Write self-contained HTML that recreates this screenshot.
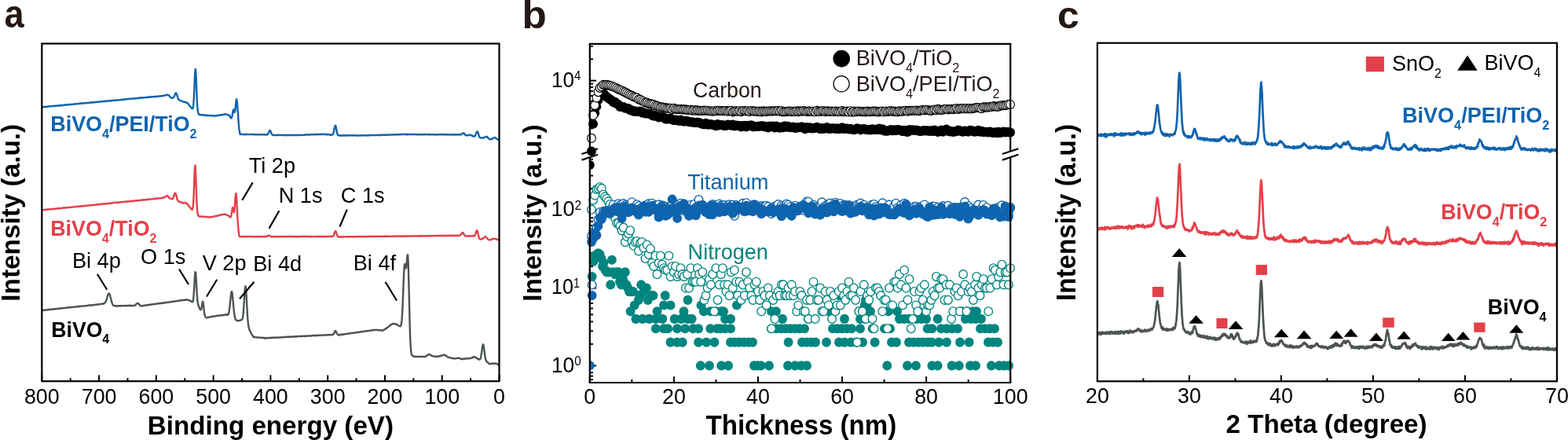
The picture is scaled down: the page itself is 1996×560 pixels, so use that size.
<!DOCTYPE html>
<html><head><meta charset="utf-8"><title>Figure</title>
<style>html,body{margin:0;padding:0;background:#fff;overflow:hidden}svg{display:block}</style>
</head><body><svg width="1996" height="560" viewBox="0 0 1996 560"><path d="M53.5 136.38L54 136.37L54.5 136.25L55 136.13L55.5 136.13L56 136.02L56.5 136.11L57 136.23L57.5 135.94L58 135.88L58.5 135.98L59 135.91L59.5 135.83L60 135.65L60.5 135.72L61 135.77L61.5 135.46L62 135.53L62.5 135.29L63 135.32L63.5 135.21L64 135.37L64.5 135.19L65 135.34L65.5 135.28L66 135.19L66.5 134.84L67 135.05L67.5 135.06L68 135.04L68.5 134.78L69 134.87L69.5 134.76L70 134.73L70.5 134.93L71 134.64L71.5 134.69L72 134.76L72.5 134.53L73 134.54L73.5 134.52L74 134.47L74.5 134.26L75 134.38L75.5 134.5L76 134.07L76.5 134.34L77 134.2L77.5 134.05L78 134.35L78.5 134.14L79 133.84L79.5 133.96L80 133.98L80.5 133.83L81 133.9L81.5 133.75L82 133.8L82.5 133.85L83 133.53L83.5 133.6L84 133.47L84.5 133.5L85 133.28L85.5 133.31L86 133.31L86.5 133.41L87 133.39L87.5 133.03L88 133.05L88.5 133.19L89 132.8L89.5 132.95L90 132.95L90.5 133.08L91 132.96L91.5 132.78L92 132.73L92.5 132.7L93 132.88L93.5 132.58L94 132.55L94.5 132.59L95 132.48L95.5 132.42L96 132.26L96.5 132.35L97 132.25L97.5 132.41L98 132.3L98.5 132.17L99 132.21L99.5 132.03L100 132.17L100.5 131.98L101 132.01L101.5 131.72L102 131.89L102.5 131.58L103 131.48L103.5 131.66L104 131.54L104.5 131.63L105 131.85L105.5 131.41L106 131.39L106.5 131.45L107 131.44L107.5 131.3L108 131.25L108.5 131.32L109 131.25L109.5 131L110 131.08L110.5 131.05L111 130.86L111.5 130.99L112 130.79L112.5 130.98L113 130.84L113.5 130.78L114 130.64L114.5 130.66L115 130.36L115.5 130.43L116 130.58L116.5 130.21L117 130.55L117.5 130.16L118 130.44L118.5 130.19L119 130.35L119.5 130.22L120 129.96L120.5 130.27L121 130.25L121.5 130.01L122 129.93L122.5 129.9L123 129.75L123.5 129.97L124 129.71L124.5 129.73L125 129.59L125.5 129.56L126 129.43L126.5 129.71L127 129.48L127.5 129.58L128 129.41L128.5 129.27L129 129.27L129.5 129.19L130 129.22L130.5 129.12L131 129.09L131.5 128.9L132 128.93L132.5 129.2L133 128.85L133.5 128.76L134 128.89L134.5 128.98L135 128.56L135.5 128.68L136 128.58L136.5 128.38L137 128.66L137.5 128.52L138 128.48L138.5 128.33L139 128.44L139.5 128.26L140 128.27L140.5 128.09L141 128.03L141.5 128.32L142 128.03L142.5 128.09L143 128L143.5 127.9L144 127.84L144.5 127.95L145 127.78L145.5 127.75L146 127.73L146.5 127.83L147 127.72L147.5 127.63L148 127.46L148.5 127.31L149 127.57L149.5 127.52L150 127.33L150.5 127.37L151 127.36L151.5 127.32L152 127.28L152.5 127.06L153 127.26L153.5 126.86L154 127.09L154.5 126.99L155 126.99L155.5 127.08L156 126.98L156.5 126.59L157 126.47L157.5 126.75L158 126.47L158.5 126.55L159 126.62L159.5 126.25L160 126.14L160.5 126.4L161 126.32L161.5 126.24L162 126.23L162.5 126.07L163 125.93L163.5 126.06L164 125.91L164.5 125.78L165 126.01L165.5 125.89L166 125.9L166.5 125.68L167 125.67L167.5 125.58L168 125.55L168.5 125.64L169 125.47L169.5 125.57L170 125.52L170.5 125.69L171 125.2L171.5 125.45L172 125.28L172.5 125.24L173 125.01L173.5 125.09L174 125.2L174.5 125.04L175 125.02L175.5 124.92L176 125.06L176.5 124.86L177 124.53L177.5 124.68L178 124.47L178.5 124.26L179 124.56L179.5 124.76L180 124.55L180.5 124.34L181 124.32L181.5 124.55L182 124.37L182.5 124.31L183 124.25L183.5 124.22L184 124.27L184.5 124.19L185 124.1L185.5 123.89L186 124.04L186.5 123.84L187 124.03L187.5 123.67L188 123.77L188.5 123.74L189 123.53L189.5 123.87L190 123.79L190.5 123.5L191 123.61L191.5 123.51L192 123.08L192.5 123.4L193 123.32L193.5 123.29L194 123.09L194.5 123.15L195 123.11L195.5 123.24L196 123.09L196.5 122.99L197 123.15L197.5 122.83L198 122.8L198.5 122.57L199 122.97L199.5 122.84L200 122.79L200.5 122.71L201 122.59L201.5 122.56L202 122.45L202.5 122.41L203 122.39L203.5 122.54L204 122.37L204.5 122.24L205 122.12L205.5 122.05L206 122.28L206.5 122.07L207 121.94L207.5 121.82L208 121.66L208.5 121.72L209 121.78L209.5 121.55L210 121.49L210.5 121.4L211 121.3L211.5 121.01L212 121.03L212.5 120.73L213 120.76L213.5 120.48L214 120.79L214.5 121.22L215 121.35L215.5 121.98L216 122.66L216.5 123.13L217 123.45L217.5 124.05L218 124.65L218.5 124.74L219 124.86L219.5 124.8L220 124.92L220.5 124.48L221 123.98L221.5 123.43L222 121.95L222.5 120.83L223 119.57L223.5 118.49L224 118.29L224.5 119L225 119.94L225.5 121.49L226 123.07L226.5 124.74L227 126.1L227.5 126.85L228 127.15L228.5 127.53L229 127.82L229.5 128.13L230 128.24L230.5 128.45L231 128.63L231.5 128.71L232 128.9L232.5 129.09L233 129.21L233.5 129.45L234 129.78L234.5 129.78L235 129.86L235.5 129.8L236 130.23L236.5 130.08L237 130.31L237.5 130.76L238 130.9L238.5 130.95L239 131.29L239.5 132.11L240 132.71L240.5 133.52L241 134.37L241.5 134.75L242 135.26L242.5 135.85L243 136.59L243.5 137.17L244 137.62L244.5 138.27L245 138.31L245.5 137.87L246 135.48L246.5 130.25L247 121.07L247.5 109.09L248 96.62L248.5 88.37L249 87.93L249.5 95.49L250 108.21L250.5 121.79L251 132.2L251.5 139.03L252 142.8L252.5 144.25L253 145.29L253.5 145.98L254 146.08L254.5 146.03L255 146.26L255.5 146.19L256 146.05L256.5 146.13L257 146.39L257.5 146.39L258 146.13L258.5 146.59L259 146.53L259.5 146.67L260 146.49L260.5 146.54L261 146.48L261.5 146.99L262 146.68L262.5 146.95L263 146.7L263.5 146.85L264 146.65L264.5 146.86L265 147.08L265.5 146.83L266 147.18L266.5 147.12L267 146.98L267.5 147.1L268 147.14L268.5 147.24L269 147.22L269.5 147.22L270 147.33L270.5 147.28L271 147.28L271.5 147.49L272 147.65L272.5 147.38L273 147.57L273.5 147.41L274 147.3L274.5 147.46L275 147.21L275.5 147.4L276 147.03L276.5 147.11L277 146.96L277.5 146.82L278 146.92L278.5 146.75L279 146.78L279.5 146.62L280 146.41L280.5 146.46L281 146.41L281.5 146.46L282 146.14L282.5 146.18L283 145.89L283.5 146.13L284 145.83L284.5 145.66L285 145.81L285.5 145.89L286 145.48L286.5 145.46L287 145.43L287.5 145.31L288 145.49L288.5 145.53L289 145.74L289.5 146.1L290 146.12L290.5 146.47L291 146.48L291.5 146.65L292 146.76L292.5 148.07L293 148.61L293.5 149.5L294 150.26L294.5 150.41L295 149.36L295.5 147.89L296 144.84L296.5 141.8L297 139.89L297.5 139.61L298 141.33L298.5 142.93L299 142.5L299.5 139.44L300 134.39L300.5 129.35L301 126.1L301.5 127.93L302 132.6L302.5 139.01L303 145.71L303.5 153.56L304 159.51L304.5 164.69L305 168.11L305.5 170.59L306 170.95L306.5 170.9L307 170.77L307.5 170.97L308 171.02L308.5 171.02L309 171.03L309.5 170.9L310 171.04L310.5 171.05L311 171.23L311.5 171.31L312 171.06L312.5 170.98L313 171.08L313.5 171.02L314 171L314.5 171.1L315 170.98L315.5 171.2L316 171.11L316.5 171.16L317 171.11L317.5 171.05L318 171.03L318.5 171.12L319 171.09L319.5 171.2L320 171.17L320.5 171L321 171.19L321.5 171.02L322 171.12L322.5 171.16L323 170.94L323.5 171.23L324 171.24L324.5 171.21L325 171.18L325.5 171.19L326 171.12L326.5 171.22L327 171.18L327.5 171.27L328 171.11L328.5 171.3L329 171.3L329.5 171.27L330 171.24L330.5 171.37L331 171.09L331.5 171.37L332 171.35L332.5 171.36L333 171.38L333.5 171.25L334 171.31L334.5 171.43L335 171.41L335.5 171.38L336 171.17L336.5 171.44L337 171.53L337.5 171.51L338 171.42L338.5 171.19L339 171.51L339.5 171.37L340 171.01L340.5 171.21L341 170.55L341.5 169.82L342 168.8L342.5 167.74L343 166.4L343.5 165.95L344 166.43L344.5 167.41L345 168.54L345.5 169.81L346 170.65L346.5 171.33L347 171.8L347.5 171.95L348 172L348.5 172.12L349 171.9L349.5 171.99L350 172.1L350.5 172.08L351 172.14L351.5 172.05L352 171.96L352.5 172.05L353 171.87L353.5 171.79L354 172.08L354.5 171.99L355 172.04L355.5 171.78L356 171.95L356.5 171.92L357 171.89L357.5 171.71L358 171.96L358.5 172.12L359 172.05L359.5 171.92L360 172L360.5 172.1L361 171.64L361.5 171.98L362 172.07L362.5 172.09L363 172.22L363.5 172.15L364 172.04L364.5 172.04L365 172.1L365.5 171.93L366 171.99L366.5 172.12L367 172.25L367.5 171.98L368 171.99L368.5 172.03L369 172.17L369.5 172L370 172.19L370.5 171.87L371 171.98L371.5 171.97L372 172.1L372.5 172.14L373 171.8L373.5 171.88L374 172.04L374.5 171.91L375 171.8L375.5 172.14L376 172.06L376.5 172.06L377 171.94L377.5 172.13L378 171.97L378.5 172.14L379 171.88L379.5 171.89L380 172.03L380.5 171.89L381 172.04L381.5 171.97L382 171.79L382.5 171.9L383 171.82L383.5 171.97L384 171.74L384.5 171.74L385 171.94L385.5 172.05L386 172L386.5 171.72L387 171.72L387.5 171.87L388 171.63L388.5 171.5L389 171.62L389.5 171.64L390 171.45L390.5 171.32L391 171.33L391.5 171.58L392 171.37L392.5 171.43L393 171.46L393.5 171.49L394 171.34L394.5 171.43L395 171.22L395.5 171.27L396 171.16L396.5 171.42L397 171.25L397.5 171.13L398 171.16L398.5 171.16L399 171.26L399.5 170.93L400 170.99L400.5 171.05L401 171.41L401.5 171.18L402 171.02L402.5 171.1L403 171.26L403.5 170.94L404 170.9L404.5 171.08L405 170.96L405.5 170.99L406 170.84L406.5 171.17L407 171.14L407.5 171L408 171.02L408.5 170.67L409 171.02L409.5 170.92L410 171.01L410.5 171.04L411 170.92L411.5 170.75L412 171.02L412.5 170.88L413 170.94L413.5 170.91L414 170.95L414.5 170.69L415 171.16L415.5 171.09L416 171.26L416.5 171.43L417 171.23L417.5 171.05L418 171.23L418.5 171.24L419 171.39L419.5 171.52L420 171.31L420.5 171.67L421 171.49L421.5 171.78L422 171.76L422.5 171.71L423 171.62L423.5 171.19L424 170.39L424.5 168.8L425 166.82L425.5 164.35L426 161.75L426.5 159.98L427 159.76L427.5 161.06L428 163.9L428.5 166.52L429 168.92L429.5 170.56L430 171.59L430.5 172.02L431 172.29L431.5 172.23L432 172.34L432.5 172.69L433 172.39L433.5 172.37L434 172.47L434.5 172.49L435 172.26L435.5 172.37L436 172.52L436.5 172.44L437 172.42L437.5 172.6L438 172.31L438.5 172.41L439 172.33L439.5 172.59L440 172.15L440.5 172.31L441 172.33L441.5 172.49L442 172.48L442.5 172.58L443 172.2L443.5 172.5L444 172.36L444.5 172.31L445 172.47L445.5 172.28L446 172.13L446.5 172.35L447 172.21L447.5 172.32L448 172.45L448.5 172.44L449 172.61L449.5 172.37L450 172.2L450.5 172.3L451 172.28L451.5 172.24L452 172.46L452.5 172.32L453 172.14L453.5 172.49L454 172.39L454.5 172.45L455 172.41L455.5 172.48L456 172.4L456.5 172.56L457 172.46L457.5 172.45L458 172.45L458.5 172.21L459 172.38L459.5 172.37L460 172.43L460.5 172.22L461 172.61L461.5 172.41L462 172.24L462.5 172.18L463 172.36L463.5 172.39L464 172.31L464.5 172.41L465 172.32L465.5 172.47L466 172.29L466.5 172.36L467 172.48L467.5 172.67L468 172.19L468.5 172.25L469 172.19L469.5 172.38L470 172.12L470.5 172.19L471 172.23L471.5 172.1L472 172.08L472.5 172.13L473 171.91L473.5 171.98L474 172.1L474.5 172.16L475 172.1L475.5 171.88L476 172.03L476.5 172.18L477 172.14L477.5 172.04L478 171.92L478.5 172.11L479 171.93L479.5 171.84L480 171.88L480.5 172.15L481 171.98L481.5 172.09L482 171.86L482.5 172.03L483 171.82L483.5 171.86L484 172.19L484.5 171.95L485 171.77L485.5 171.81L486 171.85L486.5 171.95L487 171.72L487.5 171.54L488 171.72L488.5 171.74L489 171.74L489.5 171.88L490 171.74L490.5 171.79L491 171.52L491.5 171.77L492 171.91L492.5 171.72L493 171.64L493.5 171.62L494 171.81L494.5 171.45L495 171.54L495.5 171.6L496 171.62L496.5 171.45L497 171.54L497.5 171.45L498 171.48L498.5 171.44L499 171.29L499.5 171.42L500 171.52L500.5 171.27L501 171.35L501.5 171.45L502 171.21L502.5 171.36L503 171.19L503.5 171.46L504 171.6L504.5 171.55L505 171.24L505.5 171.35L506 171.26L506.5 171.24L507 171.41L507.5 171.03L508 171.32L508.5 171.16L509 171.34L509.5 171.16L510 171.04L510.5 171.15L511 171.19L511.5 171.09L512 171.13L512.5 170.99L513 170.76L513.5 171.14L514 171.1L514.5 171.02L515 171.01L515.5 171.14L516 170.95L516.5 170.92L517 170.99L517.5 171.17L518 170.84L518.5 171.18L519 170.94L519.5 170.89L520 171.2L520.5 171.02L521 170.87L521.5 170.99L522 171.16L522.5 171.2L523 170.99L523.5 171.1L524 171.15L524.5 170.97L525 171.11L525.5 171.06L526 171L526.5 171L527 171.08L527.5 171.08L528 171L528.5 171.02L529 171.23L529.5 171.11L530 171.2L530.5 171.25L531 171.17L531.5 171.39L532 170.99L532.5 171.21L533 171.06L533.5 171.35L534 171.33L534.5 170.86L535 170.99L535.5 171.21L536 171.23L536.5 171.22L537 171.12L537.5 171.19L538 171.22L538.5 171.13L539 171.27L539.5 170.85L540 171.23L540.5 171.01L541 171.28L541.5 171.12L542 171.04L542.5 171.21L543 171.04L543.5 171.05L544 170.96L544.5 171.17L545 171.24L545.5 171.31L546 171.16L546.5 171.32L547 171.19L547.5 171.18L548 171.27L548.5 171.33L549 171.15L549.5 171.17L550 171.18L550.5 171.22L551 171.09L551.5 171.35L552 171.16L552.5 171.28L553 171.11L553.5 171.27L554 171.28L554.5 171.17L555 171.49L555.5 171.28L556 171.47L556.5 171.36L557 171.16L557.5 171.2L558 171.31L558.5 171.26L559 171.26L559.5 171.22L560 171.02L560.5 171.23L561 170.98L561.5 171.32L562 171.18L562.5 171.18L563 171.25L563.5 171.32L564 171.1L564.5 171.06L565 171.15L565.5 171.03L566 171.17L566.5 171.5L567 171.16L567.5 171.39L568 171.13L568.5 171.35L569 171.27L569.5 171.31L570 171.39L570.5 171.55L571 171.35L571.5 171.34L572 171.2L572.5 171.41L573 171.3L573.5 171.44L574 171.33L574.5 171.57L575 171.09L575.5 171.31L576 171.47L576.5 171.31L577 171.25L577.5 171.32L578 171.18L578.5 171.38L579 171.69L579.5 171.52L580 171.23L580.5 171.26L581 171.33L581.5 171.51L582 171.28L582.5 171.3L583 171.51L583.5 171.51L584 171.35L584.5 171.25L585 171.24L585.5 171.39L586 171.19L586.5 171.51L587 171.15L587.5 170.98L588 170.72L588.5 170.12L589 169.36L589.5 169.37L590 169.45L590.5 169.55L591 170.08L591.5 170.85L592 171.26L592.5 172.15L593 171.99L593.5 172.24L594 172.35L594.5 172.31L595 172.29L595.5 172.23L596 172.09L596.5 172.19L597 171.68L597.5 171.88L598 171.7L598.5 171.73L599 171.89L599.5 171.95L600 172.19L600.5 172.58L601 172.73L601.5 172.8L602 173.35L602.5 173.59L603 173.28L603.5 173.46L604 173.61L604.5 173.09L605 172.44L605.5 171.44L606 170.08L606.5 168.89L607 167.78L607.5 167.46L608 167.66L608.5 168.81L609 170.37L609.5 172.27L610 173.67L610.5 174.61L611 175.27L611.5 175.42L612 175.54L612.5 175.54L613 175.5L613.5 175.47L614 175.43L614.5 175.54L615 175.27L615.5 175.54L616 175.26L616.5 175.08L617 174.94L617.5 174.62L618 174.35L618.5 173.89L619 173.95L619.5 173.79L620 173.95L620.5 174.7L621 175.14L621.5 175.94L622 176.51L622.5 176.77L623 176.72L623.5 176.96L624 177.42L624.5 177.11L625 176.95L625.5 176.95L626 177L626.5 176.68L627 176.33L627.5 176.09L628 175.76L628.5 175.41L629 175.13L629.5 175.11L630 174.96L630.5 175.26L631 175.63L631.5 176.37L632 176.41L632.5 176.9L633 177.19L633.5 177.49L634 177.74L634.5 177.68L635 177.77" fill="none" stroke="#0f64ae" stroke-width="2.4" stroke-linejoin="round"/><path d="M53.5 267.17L54 267.21L54.5 267.35L55 267.24L55.5 267.05L56 267.08L56.5 267.08L57 267.09L57.5 266.9L58 266.9L58.5 266.64L59 266.68L59.5 266.99L60 266.44L60.5 266.63L61 266.66L61.5 266.53L62 266.42L62.5 266.47L63 266.43L63.5 266.37L64 266.08L64.5 266.26L65 266.12L65.5 266.11L66 266.16L66.5 266.16L67 266.14L67.5 265.91L68 266.05L68.5 266.03L69 265.97L69.5 265.96L70 265.71L70.5 265.65L71 265.73L71.5 265.4L72 265.55L72.5 265.41L73 265.38L73.5 265.15L74 265.21L74.5 265.27L75 265.34L75.5 265.3L76 265.12L76.5 265.05L77 264.92L77.5 265.03L78 264.89L78.5 264.95L79 265.05L79.5 264.77L80 264.53L80.5 264.56L81 264.43L81.5 264.42L82 264.69L82.5 264.5L83 264.23L83.5 264.46L84 264.49L84.5 264.23L85 264.14L85.5 264.13L86 264.16L86.5 264.16L87 264.18L87.5 264.13L88 264.08L88.5 264.05L89 263.91L89.5 263.57L90 263.71L90.5 263.71L91 263.57L91.5 263.69L92 263.48L92.5 263.35L93 263.61L93.5 263.46L94 263.35L94.5 263.39L95 263.36L95.5 263.22L96 262.8L96.5 262.98L97 262.96L97.5 262.84L98 262.95L98.5 263.03L99 262.76L99.5 262.62L100 262.98L100.5 262.61L101 262.46L101.5 262.6L102 262.58L102.5 262.38L103 262.52L103.5 262.31L104 262.2L104.5 262.29L105 262.32L105.5 262.09L106 262.16L106.5 262.06L107 262.39L107.5 261.88L108 262.1L108.5 261.86L109 261.8L109.5 261.86L110 261.84L110.5 261.83L111 261.66L111.5 261.49L112 261.45L112.5 261.53L113 261.49L113.5 261.55L114 261.37L114.5 261.41L115 261.41L115.5 261.19L116 260.92L116.5 260.91L117 260.83L117.5 261.17L118 260.81L118.5 261.03L119 260.89L119.5 260.99L120 260.85L120.5 260.65L121 260.59L121.5 260.58L122 260.54L122.5 260.4L123 260.41L123.5 260.58L124 260.09L124.5 260.3L125 260.1L125.5 260.19L126 260.22L126.5 260.06L127 260.12L127.5 259.76L128 260.06L128.5 259.79L129 259.9L129.5 259.79L130 259.38L130.5 259.57L131 259.64L131.5 259.77L132 259.55L132.5 259.5L133 259.23L133.5 259.55L134 259.55L134.5 259.27L135 259.19L135.5 258.95L136 259.23L136.5 259.41L137 259.11L137.5 259.13L138 258.98L138.5 258.74L139 258.99L139.5 258.6L140 258.69L140.5 258.7L141 258.73L141.5 258.62L142 258.56L142.5 258.36L143 258.24L143.5 258.37L144 258.22L144.5 258.09L145 258.05L145.5 258.1L146 257.87L146.5 257.89L147 257.8L147.5 257.99L148 257.96L148.5 258.12L149 257.62L149.5 257.67L150 257.83L150.5 257.63L151 257.57L151.5 257.78L152 257.47L152.5 257.31L153 257.24L153.5 257.4L154 257.35L154.5 257.08L155 257.08L155.5 257.23L156 257.18L156.5 256.98L157 257.09L157.5 257.03L158 256.68L158.5 256.82L159 256.86L159.5 256.68L160 256.43L160.5 256.62L161 256.71L161.5 256.76L162 256.22L162.5 256.8L163 256.26L163.5 256.48L164 256.47L164.5 256.39L165 256.23L165.5 256.01L166 256.19L166.5 255.96L167 255.68L167.5 256.33L168 256L168.5 256.09L169 255.69L169.5 255.95L170 255.91L170.5 255.86L171 255.6L171.5 255.4L172 255.48L172.5 255.17L173 255.19L173.5 255.37L174 255.18L174.5 255.23L175 255.19L175.5 255.41L176 255.27L176.5 255.05L177 255.16L177.5 254.85L178 254.86L178.5 254.97L179 254.64L179.5 254.72L180 254.53L180.5 254.67L181 254.82L181.5 254.46L182 254.53L182.5 254.34L183 254.25L183.5 254.19L184 254.49L184.5 254.56L185 254.27L185.5 254.06L186 254.2L186.5 254.01L187 254.11L187.5 253.99L188 253.94L188.5 253.93L189 253.73L189.5 253.7L190 253.48L190.5 253.6L191 253.42L191.5 253.53L192 253.38L192.5 253.47L193 253.46L193.5 253.17L194 253.2L194.5 253.13L195 253.3L195.5 253.37L196 253.21L196.5 253.01L197 253.19L197.5 252.75L198 253.1L198.5 252.77L199 252.44L199.5 253.1L200 252.91L200.5 252.52L201 252.62L201.5 252.52L202 252.51L202.5 252.26L203 252.31L203.5 252.41L204 252.33L204.5 252.41L205 252.21L205.5 252.4L206 251.89L206.5 251.91L207 251.52L207.5 251.5L208 251.72L208.5 251.32L209 251.39L209.5 251.18L210 250.86L210.5 250.67L211 250.21L211.5 249.8L212 249.49L212.5 249.13L213 248.93L213.5 249.22L214 249.94L214.5 250.51L215 251.16L215.5 251.92L216 252.09L216.5 252.31L217 252.59L217.5 252.78L218 253.04L218.5 253.18L219 253.28L219.5 253.13L220 252.86L220.5 251.88L221 250.62L221.5 248.84L222 247.49L222.5 246L223 245.62L223.5 245.96L224 247.45L224.5 249.17L225 251.35L225.5 253.39L226 254.21L226.5 255.43L227 256.07L227.5 256.3L228 256.62L228.5 256.91L229 256.86L229.5 257.2L230 257.22L230.5 257.44L231 257.64L231.5 257.9L232 258.13L232.5 258.37L233 258.31L233.5 258.69L234 258.51L234.5 258.38L235 258.16L235.5 258.12L236 258.13L236.5 258.13L237 258.24L237.5 258.94L238 259.62L238.5 259.37L239 260.13L239.5 260.8L240 261.49L240.5 262.43L241 262.84L241.5 263.59L242 264.34L242.5 264.69L243 265.23L243.5 265.86L244 266.3L244.5 266.9L245 266.21L245.5 264.71L246 259.96L246.5 251.63L247 238.69L247.5 223.86L248 213.16L248.5 210.4L249 217.74L249.5 231.95L250 246.77L250.5 258.88L251 267.13L251.5 271.24L252 273.58L252.5 274.59L253 275.24L253.5 275.42L254 275.63L254.5 275.62L255 275.53L255.5 275.57L256 275.58L256.5 275.55L257 275.91L257.5 275.69L258 275.57L258.5 275.69L259 275.88L259.5 275.9L260 275.83L260.5 275.79L261 275.92L261.5 275.72L262 275.8L262.5 276.12L263 275.98L263.5 276.12L264 276.27L264.5 276.22L265 276.17L265.5 276.49L266 276.32L266.5 276.22L267 276.4L267.5 276.38L268 276.25L268.5 276.4L269 276.29L269.5 275.94L270 276.07L270.5 275.94L271 275.81L271.5 275.54L272 275.6L272.5 275.53L273 275.44L273.5 275.16L274 275.28L274.5 274.93L275 274.95L275.5 275.04L276 274.66L276.5 274.58L277 274.68L277.5 274.37L278 274.27L278.5 274.23L279 274.23L279.5 273.68L280 273.76L280.5 273.62L281 273.5L281.5 273.42L282 273.31L282.5 273.35L283 273.08L283.5 273.11L284 273.03L284.5 272.77L285 272.77L285.5 272.86L286 272.74L286.5 272.78L287 273.01L287.5 273.06L288 273.38L288.5 273.63L289 273.57L289.5 273.81L290 274.15L290.5 274.33L291 274.81L291.5 275.05L292 275.47L292.5 275.89L293 276.59L293.5 276.42L294 275.77L294.5 273.7L295 270.53L295.5 266.93L296 264.23L296.5 264.76L297 266.88L297.5 269.55L298 269.83L298.5 266.86L299 260.19L299.5 252.51L300 246.77L300.5 246.24L301 251.08L301.5 259.52L302 268.86L302.5 278.88L303 286.49L303.5 292.3L304 296.55L304.5 300.25L305 301.08L305.5 301.24L306 301.22L306.5 301.15L307 301.13L307.5 301.09L308 301.19L308.5 301.35L309 301.06L309.5 301.4L310 301.31L310.5 301.14L311 301.3L311.5 301.01L312 300.97L312.5 301.03L313 301.15L313.5 301.16L314 301.13L314.5 301.21L315 300.92L315.5 301.26L316 301.02L316.5 301.11L317 301.15L317.5 301.05L318 301.02L318.5 301.07L319 301.2L319.5 301.28L320 301.27L320.5 301.07L321 301.1L321.5 301.08L322 301.26L322.5 300.94L323 301.36L323.5 301.14L324 301.1L324.5 301.24L325 301.33L325.5 301.24L326 301.34L326.5 301.22L327 301.36L327.5 301.36L328 301.19L328.5 301.39L329 301.22L329.5 301.21L330 301.08L330.5 301.16L331 301.3L331.5 301.03L332 301.28L332.5 301.25L333 301.24L333.5 300.91L334 301.19L334.5 301.28L335 301.1L335.5 301.21L336 300.89L336.5 301.29L337 301.11L337.5 301.31L338 300.95L338.5 301.25L339 301.06L339.5 301.05L340 300.59L340.5 300.3L341 300.3L341.5 299.61L342 299.51L342.5 299.68L343 299.87L343.5 300.53L344 300.93L344.5 300.85L345 300.86L345.5 301.3L346 301.32L346.5 301.29L347 301.34L347.5 301.07L348 301.16L348.5 301L349 301L349.5 301.31L350 301.09L350.5 301.47L351 301.19L351.5 301.09L352 301.28L352.5 301.41L353 301.23L353.5 301.01L354 301.22L354.5 301.35L355 301.1L355.5 301.06L356 301.3L356.5 301.18L357 301.02L357.5 301.11L358 301.06L358.5 301.2L359 301.17L359.5 301.31L360 301.25L360.5 300.95L361 301.2L361.5 301.27L362 301.21L362.5 301.28L363 301.08L363.5 301.02L364 301.27L364.5 301L365 300.86L365.5 301.27L366 301.05L366.5 301.1L367 300.96L367.5 300.96L368 300.98L368.5 301.09L369 301.18L369.5 300.83L370 301.23L370.5 300.97L371 300.99L371.5 301.21L372 301.12L372.5 300.92L373 301.36L373.5 301.01L374 301.15L374.5 301.14L375 301.3L375.5 301.06L376 301.25L376.5 301.02L377 301.26L377.5 301.01L378 301.06L378.5 301.36L379 301.15L379.5 301.12L380 301.4L380.5 301.15L381 301L381.5 301.2L382 300.95L382.5 301.25L383 301.25L383.5 301.02L384 301.01L384.5 301.12L385 301.09L385.5 300.96L386 301.16L386.5 300.82L387 301.03L387.5 301.03L388 301.05L388.5 301.12L389 300.92L389.5 301.16L390 301.06L390.5 300.99L391 300.9L391.5 300.92L392 301.12L392.5 300.95L393 301.08L393.5 301.21L394 301.21L394.5 301.27L395 301.03L395.5 300.93L396 301.2L396.5 301.11L397 301.21L397.5 301.06L398 301.22L398.5 301.17L399 301.15L399.5 301.12L400 301.11L400.5 301.09L401 301.08L401.5 301.18L402 300.98L402.5 301.28L403 301.04L403.5 301.18L404 301.03L404.5 301.01L405 301.31L405.5 301L406 300.88L406.5 300.95L407 301L407.5 301.32L408 301.06L408.5 301.16L409 300.9L409.5 301.08L410 301.12L410.5 301.26L411 300.94L411.5 301.11L412 301.07L412.5 300.89L413 301.02L413.5 300.99L414 300.72L414.5 301.1L415 301.09L415.5 300.96L416 300.84L416.5 301.21L417 301.05L417.5 301.15L418 301.2L418.5 300.94L419 301.12L419.5 300.98L420 301L420.5 300.99L421 301L421.5 301.15L422 301.02L422.5 300.97L423 300.92L423.5 300.92L424 300.53L424.5 300.05L425 299.16L425.5 297.7L426 296.13L426.5 294.66L427 294.32L427.5 294.58L428 295.69L428.5 297.29L429 299.17L429.5 300.12L430 300.81L430.5 301.25L431 301.44L431.5 301.66L432 301.49L432.5 301.76L433 301.37L433.5 301.57L434 301.34L434.5 301.7L435 301.42L435.5 301.45L436 301.57L436.5 301.61L437 301.29L437.5 301.39L438 301.25L438.5 301.44L439 301.4L439.5 301.37L440 301.32L440.5 301.35L441 301.3L441.5 301.46L442 301.58L442.5 301.13L443 301.36L443.5 301.31L444 301.43L444.5 301.23L445 301.33L445.5 301.21L446 301.43L446.5 301.35L447 301.31L447.5 301.37L448 301.29L448.5 301.11L449 301.38L449.5 301.34L450 301.28L450.5 301.42L451 301.44L451.5 301.14L452 301.17L452.5 301.47L453 301.45L453.5 301.16L454 301.1L454.5 301.16L455 301.18L455.5 301.03L456 301.23L456.5 301.06L457 301.06L457.5 301.33L458 301.12L458.5 301.19L459 301.28L459.5 301.3L460 301.14L460.5 301.19L461 301.07L461.5 301.4L462 301.25L462.5 301.01L463 301.15L463.5 301.24L464 301.2L464.5 301.37L465 301.31L465.5 301.05L466 301.11L466.5 300.95L467 301.14L467.5 301.12L468 301.45L468.5 301.1L469 300.81L469.5 300.99L470 301.09L470.5 300.91L471 300.95L471.5 301.01L472 301.1L472.5 301.03L473 300.93L473.5 301.14L474 300.96L474.5 300.96L475 300.84L475.5 300.91L476 301.09L476.5 300.79L477 300.99L477.5 301.09L478 300.94L478.5 301.01L479 300.83L479.5 301.14L480 301.11L480.5 300.99L481 300.73L481.5 300.81L482 301.07L482.5 301.16L483 300.97L483.5 301.09L484 300.84L484.5 300.89L485 300.91L485.5 300.96L486 300.7L486.5 301.02L487 301.06L487.5 300.73L488 300.7L488.5 300.92L489 300.78L489.5 300.55L490 300.96L490.5 300.87L491 300.78L491.5 301.11L492 300.85L492.5 300.73L493 300.83L493.5 300.68L494 300.71L494.5 300.86L495 300.73L495.5 300.74L496 301.01L496.5 300.89L497 300.88L497.5 300.84L498 300.83L498.5 300.95L499 300.75L499.5 300.99L500 300.62L500.5 300.71L501 300.55L501.5 300.68L502 300.79L502.5 300.91L503 300.62L503.5 300.71L504 300.65L504.5 300.6L505 300.53L505.5 300.69L506 300.45L506.5 300.69L507 300.67L507.5 300.58L508 300.52L508.5 300.47L509 300.89L509.5 300.47L510 300.84L510.5 300.71L511 300.58L511.5 300.47L512 300.75L512.5 300.83L513 300.48L513.5 300.56L514 300.73L514.5 300.63L515 300.84L515.5 300.5L516 300.64L516.5 300.4L517 300.83L517.5 300.46L518 300.26L518.5 300.52L519 300.52L519.5 300.78L520 300.48L520.5 300.52L521 300.59L521.5 300.71L522 300.49L522.5 300.63L523 300.56L523.5 300.45L524 300.49L524.5 300.48L525 300.35L525.5 300.62L526 300.28L526.5 300.6L527 300.57L527.5 300.43L528 300.34L528.5 300.4L529 300.49L529.5 300.52L530 300.45L530.5 300.54L531 300.33L531.5 300.43L532 300.19L532.5 300.49L533 300.4L533.5 300.32L534 300.52L534.5 300.45L535 299.99L535.5 300.36L536 300.16L536.5 300.48L537 300.66L537.5 300.26L538 300.34L538.5 300.29L539 300.36L539.5 300.39L540 300.47L540.5 300.17L541 300.5L541.5 300.17L542 300.32L542.5 300.43L543 300.36L543.5 300.14L544 300.17L544.5 300.19L545 300.24L545.5 300.39L546 300.07L546.5 300.29L547 300.31L547.5 300.29L548 300.28L548.5 300.41L549 300.27L549.5 300.31L550 300.27L550.5 300.42L551 299.94L551.5 300.34L552 300.14L552.5 300.13L553 300.03L553.5 299.91L554 300.1L554.5 300.05L555 300.2L555.5 299.94L556 300.31L556.5 300.16L557 300.08L557.5 300.02L558 300L558.5 299.95L559 300.02L559.5 300.09L560 300.06L560.5 299.89L561 300.04L561.5 299.95L562 300.08L562.5 300.3L563 300.13L563.5 300L564 299.83L564.5 299.85L565 299.81L565.5 300.12L566 299.92L566.5 300.02L567 299.93L567.5 300.01L568 300.18L568.5 299.9L569 299.94L569.5 299.87L570 300.09L570.5 299.83L571 299.81L571.5 299.78L572 299.77L572.5 300.01L573 300.27L573.5 299.81L574 300.05L574.5 299.96L575 299.77L575.5 299.88L576 299.88L576.5 299.81L577 300.15L577.5 299.64L578 299.93L578.5 299.92L579 299.8L579.5 299.89L580 299.98L580.5 299.88L581 299.91L581.5 299.94L582 299.58L582.5 300.03L583 300.13L583.5 299.95L584 299.94L584.5 299.6L585 299.71L585.5 299.48L586 299.26L586.5 299.03L587 298.15L587.5 297.4L588 296.35L588.5 296.01L589 295.93L589.5 296.23L590 297.02L590.5 298.31L591 298.78L591.5 299.46L592 299.92L592.5 300.4L593 300.62L593.5 300.42L594 300.3L594.5 300.34L595 300.54L595.5 300.28L596 300.59L596.5 300.58L597 300.41L597.5 300.48L598 300.5L598.5 300.6L599 300.26L599.5 300.55L600 300.35L600.5 300.3L601 300.41L601.5 300.37L602 300.27L602.5 300.18L603 300.22L603.5 300.41L604 300.2L604.5 299.57L605 298.68L605.5 296.97L606 295.27L606.5 293.81L607 292.99L607.5 293.57L608 295.32L608.5 297.58L609 299.71L609.5 301.65L610 302.79L610.5 303.77L611 304.2L611.5 304.51L612 304.48L612.5 304.34L613 304.16L613.5 304.08L614 304.1L614.5 303.91L615 303.73L615.5 302.95L616 302.55L616.5 301.99L617 301.52L617.5 301.08L618 301.06L618.5 301.58L619 302.08L619.5 302.52L620 303.35L620.5 303.93L621 304.19L621.5 304.75L622 304.88L622.5 305.43L623 305.55L623.5 305.48L624 305.34L624.5 305.09L625 305.02L625.5 304.83L626 304.62L626.5 304.34L627 303.75L627.5 304.04L628 303.59L628.5 303.67L629 303.85L629.5 303.87L630 303.92L630.5 304.08L631 304.22L631.5 304.3L632 304.42L632.5 304.55L633 305L633.5 305.01L634 305.31L634.5 305.32L635 305.54" fill="none" stroke="#e3404a" stroke-width="2.4" stroke-linejoin="round"/><path d="M53.5 394.96L54 394.99L54.5 394.98L55 394.85L55.5 394.68L56 394.62L56.5 394.88L57 394.58L57.5 394.52L58 394.7L58.5 394.6L59 394.47L59.5 394.3L60 394.61L60.5 394.3L61 394.27L61.5 394.12L62 393.91L62.5 393.86L63 394.04L63.5 393.98L64 393.85L64.5 393.68L65 393.59L65.5 393.68L66 393.48L66.5 393.74L67 393.72L67.5 393.88L68 393.58L68.5 393.33L69 393.24L69.5 392.86L70 393.18L70.5 393.18L71 393.27L71.5 393.18L72 393.12L72.5 393.02L73 393.03L73.5 393.08L74 392.7L74.5 392.72L75 392.55L75.5 392.89L76 392.79L76.5 392.67L77 392.37L77.5 392.49L78 392.39L78.5 392.37L79 392.29L79.5 392.33L80 392.16L80.5 392.27L81 392.13L81.5 392.01L82 391.98L82.5 391.89L83 392L83.5 391.81L84 391.83L84.5 391.69L85 391.49L85.5 391.75L86 391.44L86.5 391.62L87 391.53L87.5 391.21L88 391.25L88.5 391.25L89 391.16L89.5 391.06L90 391.26L90.5 391.08L91 391.11L91.5 390.95L92 390.99L92.5 390.8L93 390.84L93.5 390.87L94 390.75L94.5 390.63L95 390.5L95.5 390.61L96 390.58L96.5 390.45L97 390.33L97.5 390.45L98 390.65L98.5 390.23L99 390.26L99.5 390.22L100 389.78L100.5 390.08L101 389.92L101.5 390.14L102 389.87L102.5 389.75L103 389.77L103.5 389.77L104 389.62L104.5 389.64L105 389.42L105.5 389.51L106 389.59L106.5 389.69L107 389.47L107.5 389.37L108 389.43L108.5 389.36L109 389.39L109.5 389.26L110 389.05L110.5 389.05L111 388.99L111.5 388.95L112 388.89L112.5 388.71L113 388.48L113.5 388.62L114 388.39L114.5 388.61L115 388.55L115.5 388.28L116 388.53L116.5 388.5L117 388.35L117.5 388.5L118 388.48L118.5 388.02L119 388.26L119.5 388.13L120 388.08L120.5 388.09L121 387.82L121.5 387.79L122 387.71L122.5 387.66L123 387.7L123.5 387.47L124 387.47L124.5 387.63L125 387.49L125.5 387.48L126 387.11L126.5 387.18L127 387.13L127.5 387.13L128 386.98L128.5 387.1L129 386.9L129.5 386.83L130 386.75L130.5 386.75L131 386.5L131.5 386.59L132 386.34L132.5 386.07L133 385.71L133.5 385.29L134 384.78L134.5 384.06L135 382.99L135.5 381.76L136 380.11L136.5 378.55L137 376.68L137.5 374.91L138 374.24L138.5 373.53L139 373.48L139.5 374.38L140 375.66L140.5 377.85L141 379.67L141.5 381.48L142 383.71L142.5 385.29L143 387.01L143.5 387.56L144 388.06L144.5 388.81L145 389.03L145.5 389.19L146 389.05L146.5 389.43L147 389.61L147.5 389.15L148 389.55L148.5 389.31L149 389.68L149.5 389.42L150 389.33L150.5 389.49L151 389.41L151.5 389.25L152 389.41L152.5 389.24L153 389.06L153.5 389.55L154 389.23L154.5 389.19L155 389.3L155.5 389.04L156 389.06L156.5 389.16L157 389.15L157.5 389.21L158 389.34L158.5 389.12L159 389.24L159.5 389.24L160 389.01L160.5 389.17L161 389.01L161.5 389.26L162 389.17L162.5 389.11L163 388.92L163.5 389.1L164 388.97L164.5 389.15L165 389.04L165.5 388.94L166 389.15L166.5 389.12L167 388.93L167.5 389.15L168 388.95L168.5 388.94L169 388.98L169.5 388.85L170 388.86L170.5 388.85L171 388.97L171.5 388.8L172 388.3L172.5 388.15L173 387.47L173.5 386.98L174 386.51L174.5 386.01L175 386.08L175.5 385.87L176 386.04L176.5 386.92L177 387.34L177.5 387.98L178 388.16L178.5 389.09L179 389.29L179.5 389.36L180 389.39L180.5 389.45L181 389.17L181.5 389.24L182 388.95L182.5 388.94L183 389.05L183.5 388.9L184 388.6L184.5 388.75L185 388.61L185.5 388.46L186 388.56L186.5 388.38L187 388.16L187.5 388.15L188 388.45L188.5 387.96L189 388.12L189.5 388.1L190 388.03L190.5 387.72L191 387.77L191.5 387.76L192 387.78L192.5 387.52L193 387.38L193.5 387.6L194 387.54L194.5 387.38L195 387.18L195.5 387.24L196 387.14L196.5 387.16L197 386.82L197.5 386.93L198 386.83L198.5 386.63L199 386.74L199.5 386.64L200 386.52L200.5 386.55L201 386.25L201.5 386.36L202 386.35L202.5 386.26L203 386.3L203.5 385.93L204 385.82L204.5 385.98L205 385.94L205.5 386.09L206 385.82L206.5 385.56L207 385.71L207.5 385.43L208 385.27L208.5 385.74L209 385.37L209.5 385.35L210 385.26L210.5 385.36L211 385.09L211.5 385.14L212 384.78L212.5 384.67L213 384.96L213.5 384.9L214 384.71L214.5 384.6L215 384.52L215.5 384.34L216 384.56L216.5 384.38L217 384.29L217.5 384.21L218 384.22L218.5 384.09L219 384.05L219.5 383.73L220 383.88L220.5 384.03L221 383.61L221.5 383.59L222 383.65L222.5 383.59L223 383.48L223.5 383.12L224 383.33L224.5 383.04L225 383.02L225.5 383.13L226 382.95L226.5 383.02L227 383.26L227.5 382.88L228 382.8L228.5 382.52L229 382.49L229.5 382.36L230 382.36L230.5 382.22L231 382.21L231.5 382.2L232 382.03L232.5 381.9L233 381.84L233.5 382.01L234 381.89L234.5 381.95L235 381.88L235.5 381.63L236 381.69L236.5 381.35L237 381.77L237.5 381.56L238 381.51L238.5 381.53L239 381.87L239.5 381.72L240 382L240.5 382.34L241 382.39L241.5 382.46L242 382.78L242.5 382.66L243 383.28L243.5 383.62L244 383.99L244.5 384.46L245 384.28L245.5 383.95L246 381.24L246.5 376.97L247 369.37L247.5 360.52L248 351.59L248.5 346.23L249 346.62L249.5 352.41L250 361.24L250.5 371.01L251 378.34L251.5 383.45L252 386.25L252.5 388.52L253 389.74L253.5 391.41L254 392.39L254.5 393.31L255 394.17L255.5 394.35L256 393.91L256.5 392.45L257 389.33L257.5 385.82L258 383.83L258.5 384.85L259 388.17L259.5 393.05L260 397.8L260.5 400.65L261 402.32L261.5 403.22L262 403.75L262.5 404.34L263 404.34L263.5 404.27L264 404.25L264.5 404.17L265 404.03L265.5 403.93L266 403.67L266.5 403.42L267 403.53L267.5 403.38L268 403.32L268.5 403.26L269 403.04L269.5 402.96L270 402.99L270.5 402.92L271 402.71L271.5 402.76L272 402.57L272.5 402.37L273 402.41L273.5 402.54L274 402.11L274.5 402.25L275 402.18L275.5 402.14L276 401.78L276.5 402.1L277 401.8L277.5 401.69L278 401.64L278.5 401.7L279 401.57L279.5 401.49L280 401.62L280.5 401.31L281 401.21L281.5 401.39L282 401.33L282.5 401.32L283 400.99L283.5 401.21L284 401.08L284.5 401.19L285 400.75L285.5 400.88L286 400.76L286.5 400.54L287 400.6L287.5 400.77L288 400.49L288.5 400.36L289 400.63L289.5 400.8L290 400.72L290.5 400L291 398.99L291.5 397.15L292 393.92L292.5 389.75L293 385.02L293.5 379.96L294 375.07L294.5 371.82L295 371.06L295.5 372.61L296 376.37L296.5 381.59L297 387.22L297.5 392.67L298 397.52L298.5 401L299 403.7L299.5 405.34L300 406.87L300.5 407.31L301 407.55L301.5 407.86L302 408.19L302.5 408.28L303 408.29L303.5 408.18L304 408.28L304.5 408L305 407.85L305.5 407.66L306 407.56L306.5 407.57L307 407.35L307.5 407.19L308 406.78L308.5 406.19L309 404.21L309.5 400.7L310 394.98L310.5 387.71L311 379.49L311.5 371.68L312 365.93L312.5 364.31L313 367L313.5 373.74L314 382.73L314.5 392.38L315 401.03L315.5 407.78L316 412.62L316.5 415.99L317 418.13L317.5 419.53L318 420.99L318.5 421.79L319 422.69L319.5 423.79L320 424.63L320.5 425.39L321 426.37L321.5 427.06L322 428.02L322.5 428.71L323 429.2L323.5 428.84L324 429.22L324.5 429.07L325 429.09L325.5 429.23L326 429.34L326.5 429.43L327 429.62L327.5 429.48L328 429.59L328.5 429.44L329 429.66L329.5 429.63L330 429.59L330.5 429.68L331 429.73L331.5 429.8L332 429.88L332.5 429.8L333 429.81L333.5 430.05L334 429.78L334.5 429.96L335 430.29L335.5 429.77L336 430.08L336.5 430.3L337 430.04L337.5 430.64L338 429.94L338.5 430.44L339 430.43L339.5 430.32L340 430.14L340.5 430.19L341 430.01L341.5 430.2L342 429.93L342.5 430.01L343 430.15L343.5 429.85L344 429.92L344.5 429.97L345 429.75L345.5 430.05L346 429.91L346.5 429.65L347 429.81L347.5 429.69L348 429.68L348.5 429.75L349 429.63L349.5 429.82L350 429.58L350.5 429.77L351 429.61L351.5 429.7L352 429.5L352.5 429.48L353 429.37L353.5 429.57L354 429.59L354.5 429.72L355 429.58L355.5 429.42L356 429.34L356.5 429.39L357 429.31L357.5 429.48L358 429.39L358.5 429.13L359 429.12L359.5 429.36L360 429.2L360.5 429.11L361 429.27L361.5 429.04L362 429.02L362.5 428.98L363 428.75L363.5 429.1L364 428.8L364.5 428.86L365 428.81L365.5 428.98L366 428.85L366.5 428.83L367 428.59L367.5 428.77L368 428.57L368.5 428.77L369 428.75L369.5 428.68L370 428.92L370.5 428.7L371 428.68L371.5 428.6L372 428.53L372.5 428.65L373 428.65L373.5 428.31L374 428.59L374.5 428.5L375 428.53L375.5 428.44L376 428.19L376.5 428.17L377 428.54L377.5 428.31L378 428.07L378.5 428.27L379 428.15L379.5 427.94L380 427.85L380.5 427.92L381 428.13L381.5 428.07L382 428.02L382.5 428.06L383 428.08L383.5 427.7L384 427.91L384.5 427.81L385 427.74L385.5 427.8L386 427.83L386.5 427.79L387 427.61L387.5 427.71L388 428.01L388.5 427.58L389 427.48L389.5 427.71L390 427.72L390.5 427.68L391 427.45L391.5 427.7L392 427.44L392.5 427.37L393 427.41L393.5 427.45L394 427.53L394.5 427.5L395 427.39L395.5 427.49L396 427.35L396.5 427.43L397 427.11L397.5 427.06L398 427.34L398.5 427.03L399 427.15L399.5 427.15L400 427.07L400.5 427.05L401 427.27L401.5 426.73L402 427.15L402.5 427.31L403 426.99L403.5 426.96L404 427.03L404.5 427.15L405 426.73L405.5 426.87L406 426.81L406.5 426.88L407 426.8L407.5 426.84L408 426.68L408.5 426.71L409 426.6L409.5 426.57L410 426.61L410.5 426.59L411 426.43L411.5 426.76L412 426.51L412.5 426.33L413 426.62L413.5 426.36L414 426.5L414.5 426.4L415 426.41L415.5 426.38L416 426.25L416.5 426.31L417 426.54L417.5 425.96L418 426.24L418.5 426.26L419 426.04L419.5 425.97L420 426.41L420.5 426.05L421 426.35L421.5 426.12L422 426.03L422.5 426.05L423 426.06L423.5 426.05L424 425.76L424.5 425.3L425 424.58L425.5 423.71L426 422.51L426.5 421.36L427 421.07L427.5 421.57L428 422.39L428.5 423.59L429 424.57L429.5 425.42L430 425.96L430.5 426.27L431 426.25L431.5 426.52L432 426.18L432.5 426.54L433 426.18L433.5 426.05L434 425.85L434.5 425.48L435 425.75L435.5 425.73L436 425.88L436.5 425.38L437 425.74L437.5 425.39L438 425.45L438.5 424.95L439 425.23L439.5 425.1L440 425.16L440.5 425.01L441 424.78L441.5 424.98L442 424.88L442.5 424.8L443 424.78L443.5 424.72L444 424.51L444.5 424.26L445 424.19L445.5 424.47L446 424.32L446.5 424.17L447 424.03L447.5 424.02L448 423.95L448.5 423.83L449 423.71L449.5 424.02L450 423.69L450.5 423.52L451 423.36L451.5 423.36L452 423.48L452.5 423.41L453 423.21L453.5 423.18L454 423.06L454.5 422.89L455 423.13L455.5 422.94L456 423.14L456.5 422.65L457 422.66L457.5 422.73L458 422.51L458.5 422.29L459 422.28L459.5 422.34L460 422.3L460.5 422.18L461 422.25L461.5 422.18L462 422.02L462.5 421.91L463 421.8L463.5 421.84L464 421.82L464.5 421.63L465 421.62L465.5 421.44L466 421.23L466.5 421.22L467 421.38L467.5 421.26L468 421.34L468.5 421.07L469 421.11L469.5 421.1L470 420.98L470.5 420.7L471 420.69L471.5 420.66L472 420.44L472.5 420.56L473 420.57L473.5 420.3L474 420.55L474.5 420.18L475 420.12L475.5 420.05L476 419.92L476.5 419.99L477 419.87L477.5 420.02L478 419.92L478.5 419.95L479 419.89L479.5 419.78L480 419.99L480.5 419.93L481 420.2L481.5 420.12L482 420.38L482.5 420.3L483 420.35L483.5 420.31L484 420.35L484.5 420.44L485 420.52L485.5 420.35L486 420.54L486.5 420.86L487 420.55L487.5 420.57L488 420.17L488.5 419.74L489 419.75L489.5 419.26L490 418.96L490.5 418.82L491 418.57L491.5 417.8L492 417.71L492.5 417.32L493 416.96L493.5 416.63L494 416.17L494.5 415.94L495 415.36L495.5 414.88L496 414.55L496.5 414.06L497 413.56L497.5 413.29L498 413.23L498.5 412.82L499 412.49L499.5 412.14L500 411.96L500.5 411.94L501 412.17L501.5 412.27L502 412.05L502.5 412.4L503 412.56L503.5 412.58L504 412.52L504.5 412.89L505 412.71L505.5 412.98L506 413.33L506.5 413.81L507 414.28L507.5 414.64L508 414.84L508.5 414.98L509 415.31L509.5 415.26L510 415.04L510.5 413.93L511 411.56L511.5 407.2L512 400.11L512.5 390.17L513 377.57L513.5 364.11L514 351.37L514.5 341.74L515 336.55L515.5 335.94L516 338.64L516.5 341.09L517 341.19L517.5 337.15L518 330.75L518.5 325.45L519 324.19L519.5 329.79L520 345.29L520.5 365.69L521 387.29L521.5 407.97L522 425.66L522.5 437.12L523 444.74L523.5 449.29L524 451.34L524.5 452.31L525 452.69L525.5 452.77L526 453.19L526.5 453.6L527 453.76L527.5 454.2L528 453.82L528.5 454.09L529 453.92L529.5 454.17L530 453.99L530.5 454.13L531 453.92L531.5 453.82L532 453.86L532.5 453.92L533 453.87L533.5 454.16L534 454.17L534.5 454.04L535 453.87L535.5 453.98L536 453.91L536.5 454.19L537 454.04L537.5 454.06L538 453.95L538.5 453.74L539 453.9L539.5 453.85L540 454.03L540.5 453.98L541 453.83L541.5 453.75L542 453.76L542.5 453.15L543 452.83L543.5 452.56L544 452.12L544.5 451.77L545 451.55L545.5 451.41L546 450.75L546.5 450.99L547 451.22L547.5 451.49L548 451.79L548.5 452.08L549 452.55L549.5 452.61L550 452.87L550.5 453.06L551 453.22L551.5 453.3L552 453.56L552.5 453.53L553 453.65L553.5 453.72L554 453.69L554.5 453.8L555 453.86L555.5 453.95L556 453.75L556.5 453.62L557 453.71L557.5 453.67L558 453.29L558.5 453.66L559 453.36L559.5 453.27L560 453.34L560.5 453.06L561 452.82L561.5 453.03L562 452.45L562.5 452.43L563 452.4L563.5 452L564 451.97L564.5 451.88L565 451.99L565.5 451.41L566 451.74L566.5 452.14L567 452.38L567.5 452.52L568 453.04L568.5 453.31L569 453.66L569.5 454.06L570 454.36L570.5 454.59L571 454.89L571.5 454.91L572 455.13L572.5 455.28L573 455.3L573.5 455.46L574 455.44L574.5 455.85L575 456.03L575.5 455.8L576 456L576.5 456.02L577 456.31L577.5 456.31L578 456.36L578.5 456.42L579 456.47L579.5 456.23L580 456.36L580.5 456.09L581 456.16L581.5 456.02L582 456.06L582.5 455.82L583 455.87L583.5 455.53L584 455.78L584.5 455.87L585 456.13L585.5 456.31L586 456.62L586.5 456.44L587 456.94L587.5 456.91L588 457.2L588.5 456.74L589 456.81L589.5 456.67L590 457.05L590.5 456.62L591 456.75L591.5 456.61L592 456.4L592.5 456.54L593 456.61L593.5 456.45L594 456.55L594.5 456.32L595 456.32L595.5 456.22L596 456.26L596.5 456.41L597 456.16L597.5 456.09L598 455.93L598.5 455.86L599 456.09L599.5 455.71L600 455.68L600.5 455.55L601 455.26L601.5 455.33L602 454.53L602.5 454.65L603 454.45L603.5 453.97L604 454.07L604.5 454.51L605 454.97L605.5 454.94L606 455.16L606.5 455.8L607 456.17L607.5 456.24L608 456.3L608.5 457.07L609 457.15L609.5 457.6L610 457.68L610.5 457.5L611 457.11L611.5 456.54L612 455.04L612.5 452.28L613 449.25L613.5 445.82L614 441.88L614.5 439.08L615 438.36L615.5 439.53L616 442.48L616.5 446.39L617 450.47L617.5 453.93L618 456.61L618.5 458.15L619 459.23L619.5 460.04L620 460.79L620.5 461.11L621 461.44L621.5 461.9L622 462.25L622.5 462.7L623 462.99L623.5 463.21L624 463.12L624.5 462.91L625 462.83L625.5 462.97L626 462.89L626.5 462.78L627 462.57L627.5 462.49L628 462.74L628.5 462.77L629 462.74L629.5 462.44L630 462.71L630.5 462.48L631 462.57L631.5 462.7L632 462.84L632.5 463.16L633 463.26L633.5 463.7L634 463.88L634.5 464.47L635 464.71" fill="none" stroke="#4e5353" stroke-width="2.4" stroke-linejoin="round"/><rect x="53.3" y="55.5" width="582.2" height="429.7" fill="none" stroke="#000" stroke-width="2.2"/><line x1="635.5" y1="485.2" x2="635.5" y2="477.4" stroke="#000" stroke-width="2" stroke-linecap="butt"/><line x1="599.11" y1="485.2" x2="599.11" y2="481.2" stroke="#000" stroke-width="2" stroke-linecap="butt"/><line x1="562.73" y1="485.2" x2="562.73" y2="477.4" stroke="#000" stroke-width="2" stroke-linecap="butt"/><line x1="526.34" y1="485.2" x2="526.34" y2="481.2" stroke="#000" stroke-width="2" stroke-linecap="butt"/><line x1="489.95" y1="485.2" x2="489.95" y2="477.4" stroke="#000" stroke-width="2" stroke-linecap="butt"/><line x1="453.56" y1="485.2" x2="453.56" y2="481.2" stroke="#000" stroke-width="2" stroke-linecap="butt"/><line x1="417.18" y1="485.2" x2="417.18" y2="477.4" stroke="#000" stroke-width="2" stroke-linecap="butt"/><line x1="380.79" y1="485.2" x2="380.79" y2="481.2" stroke="#000" stroke-width="2" stroke-linecap="butt"/><line x1="344.4" y1="485.2" x2="344.4" y2="477.4" stroke="#000" stroke-width="2" stroke-linecap="butt"/><line x1="308.01" y1="485.2" x2="308.01" y2="481.2" stroke="#000" stroke-width="2" stroke-linecap="butt"/><line x1="271.62" y1="485.2" x2="271.62" y2="477.4" stroke="#000" stroke-width="2" stroke-linecap="butt"/><line x1="235.24" y1="485.2" x2="235.24" y2="481.2" stroke="#000" stroke-width="2" stroke-linecap="butt"/><line x1="198.85" y1="485.2" x2="198.85" y2="477.4" stroke="#000" stroke-width="2" stroke-linecap="butt"/><line x1="162.46" y1="485.2" x2="162.46" y2="481.2" stroke="#000" stroke-width="2" stroke-linecap="butt"/><line x1="126.08" y1="485.2" x2="126.08" y2="477.4" stroke="#000" stroke-width="2" stroke-linecap="butt"/><line x1="89.69" y1="485.2" x2="89.69" y2="481.2" stroke="#000" stroke-width="2" stroke-linecap="butt"/><line x1="53.3" y1="485.2" x2="53.3" y2="477.4" stroke="#000" stroke-width="2" stroke-linecap="butt"/><text x="0" y="0" transform="translate(635.5,513.8) scale(1,1.04)" style="font-family:'Liberation Sans',Arial,Helvetica,sans-serif;font-size:26.8px;fill:#000" text-anchor="middle">0</text><text x="0" y="0" transform="translate(562.73,513.8) scale(1,1.04)" style="font-family:'Liberation Sans',Arial,Helvetica,sans-serif;font-size:26.8px;fill:#000" text-anchor="middle">100</text><text x="0" y="0" transform="translate(489.95,513.8) scale(1,1.04)" style="font-family:'Liberation Sans',Arial,Helvetica,sans-serif;font-size:26.8px;fill:#000" text-anchor="middle">200</text><text x="0" y="0" transform="translate(417.18,513.8) scale(1,1.04)" style="font-family:'Liberation Sans',Arial,Helvetica,sans-serif;font-size:26.8px;fill:#000" text-anchor="middle">300</text><text x="0" y="0" transform="translate(344.4,513.8) scale(1,1.04)" style="font-family:'Liberation Sans',Arial,Helvetica,sans-serif;font-size:26.8px;fill:#000" text-anchor="middle">400</text><text x="0" y="0" transform="translate(271.62,513.8) scale(1,1.04)" style="font-family:'Liberation Sans',Arial,Helvetica,sans-serif;font-size:26.8px;fill:#000" text-anchor="middle">500</text><text x="0" y="0" transform="translate(198.85,513.8) scale(1,1.04)" style="font-family:'Liberation Sans',Arial,Helvetica,sans-serif;font-size:26.8px;fill:#000" text-anchor="middle">600</text><text x="0" y="0" transform="translate(126.08,513.8) scale(1,1.04)" style="font-family:'Liberation Sans',Arial,Helvetica,sans-serif;font-size:26.8px;fill:#000" text-anchor="middle">700</text><text x="0" y="0" transform="translate(53.3,513.8) scale(1,1.04)" style="font-family:'Liberation Sans',Arial,Helvetica,sans-serif;font-size:26.8px;fill:#000" text-anchor="middle">800</text><g transform="matrix(1.02079,0,0,1.03609,-7.268,-19.752)"><text x="344.5" y="552.8" style="font-family:'Liberation Sans',Arial,Helvetica,sans-serif;font-size:32.5px;font-weight:bold;fill:#000" text-anchor="middle">Binding energy (eV)</text></g><g transform="matrix(1.01828,0,0,1.04400,-2.280,-7.344)"><text x="65.4" y="166.9" style="font-family:'Liberation Sans',Arial,Helvetica,sans-serif;font-size:26.4px;font-weight:bold;fill:#0f64ae" text-anchor="start"><tspan>BiVO</tspan><tspan dy="8.5" style="font-size:15.9px">4</tspan><tspan dy="-8.5">/PEI/TiO</tspan><tspan dy="8.5" style="font-size:15.9px">2</tspan></text></g><g transform="matrix(1.01762,0,0,1.04400,-2.335,-12.882)"><text x="65.4" y="299.6" style="font-family:'Liberation Sans',Arial,Helvetica,sans-serif;font-size:26.4px;font-weight:bold;fill:#e3404a" text-anchor="start"><tspan>BiVO</tspan><tspan dy="8.5" style="font-size:15.9px">4</tspan><tspan dy="-8.5">/TiO</tspan><tspan dy="8.5" style="font-size:15.9px">2</tspan></text></g><g transform="matrix(1.00839,0,0,1.04400,-1.471,-17.710)"><text x="66.2" y="427.5" style="font-family:'Liberation Sans',Arial,Helvetica,sans-serif;font-size:26.4px;font-weight:bold;fill:#000" text-anchor="start"><tspan>BiVO</tspan><tspan dy="8.5" style="font-size:15.9px">4</tspan></text></g><g transform="matrix(1.01800,0,0,1.04000,-4.983,-8.270)"><text x="316" y="219.3" style="font-family:'Liberation Sans',Arial,Helvetica,sans-serif;font-size:26.7px;font-weight:normal;fill:#000" text-anchor="start">Ti 2p</text></g><g transform="matrix(1.01800,0,0,1.04000,-6.721,-10.710)"><text x="355" y="257.9" style="font-family:'Liberation Sans',Arial,Helvetica,sans-serif;font-size:26.7px;font-weight:normal;fill:#000" text-anchor="start">N 1s</text></g><g transform="matrix(1.01800,0,0,1.04000,-7.475,-10.530)"><text x="433.5" y="257.9" style="font-family:'Liberation Sans',Arial,Helvetica,sans-serif;font-size:26.7px;font-weight:normal;fill:#000" text-anchor="start">C 1s</text></g><g transform="matrix(1.01800,0,0,1.04000,-1.764,-13.220)"><text x="92" y="340.5" style="font-family:'Liberation Sans',Arial,Helvetica,sans-serif;font-size:26.7px;font-weight:normal;fill:#000" text-anchor="start">Bi 4p</text></g><g transform="matrix(1.01800,0,0,1.04000,-3.003,-13.070)"><text x="178.8" y="335.3" style="font-family:'Liberation Sans',Arial,Helvetica,sans-serif;font-size:26.7px;font-weight:normal;fill:#000" text-anchor="start">O 1s</text></g><g transform="matrix(1.01800,0,0,1.04000,-5.184,-14.040)"><text x="258.2" y="343.8" style="font-family:'Liberation Sans',Arial,Helvetica,sans-serif;font-size:26.7px;font-weight:normal;fill:#000" text-anchor="start">V 2p</text></g><g transform="matrix(1.01800,0,0,1.04000,-6.922,-12.815)"><text x="323.3" y="344.3" style="font-family:'Liberation Sans',Arial,Helvetica,sans-serif;font-size:26.7px;font-weight:normal;fill:#000" text-anchor="start">Bi 4d</text></g><g transform="matrix(1.01800,0,0,1.04000,-8.731,-12.820)"><text x="450.3" y="343.3" style="font-family:'Liberation Sans',Arial,Helvetica,sans-serif;font-size:26.7px;font-weight:normal;fill:#000" text-anchor="start">Bi 4f</text></g><line x1="308.2" y1="254.7" x2="321.7" y2="232.4" stroke="#000" stroke-width="2.2" stroke-linecap="butt"/><line x1="342.5" y1="290.7" x2="355.4" y2="268.2" stroke="#000" stroke-width="2.2" stroke-linecap="butt"/><line x1="432.5" y1="288.6" x2="441.7" y2="266.7" stroke="#000" stroke-width="2.2" stroke-linecap="butt"/><line x1="123.75" y1="348.75" x2="136.25" y2="368.75" stroke="#000" stroke-width="2.2" stroke-linecap="butt"/><line x1="228" y1="342.5" x2="240" y2="362" stroke="#000" stroke-width="2.2" stroke-linecap="butt"/><line x1="263" y1="377.5" x2="276.25" y2="355.75" stroke="#000" stroke-width="2.2" stroke-linecap="butt"/><line x1="305" y1="380.3" x2="323.5" y2="358.75" stroke="#000" stroke-width="2.2" stroke-linecap="butt"/><line x1="490.5" y1="358.75" x2="505" y2="382.5" stroke="#000" stroke-width="2.2" stroke-linecap="butt"/><g transform="matrix(1.02128,0,0,1.02540,-0.532,-6.615)"><text x="0" y="0" style="font-family:'Liberation Sans',Arial,Helvetica,sans-serif;font-size:32.5px;font-weight:bold;fill:#000" text-anchor="middle" transform="translate(25,270.5) rotate(-90)">Intensity (a.u.)</text></g><g transform="matrix(0.87636,0,0,0.97699,2.199,0.673)"><text x="3.8" y="35.3" style="font-family:'Liberation Sans',Arial,Helvetica,sans-serif;font-size:51.5px;font-weight:bold;fill:#231815" text-anchor="start">a</text></g><line x1="750.8" y1="465.4" x2="759.1" y2="465.4" stroke="#000" stroke-width="2" stroke-linecap="butt"/><line x1="750.8" y1="437.9" x2="755" y2="437.9" stroke="#000" stroke-width="2" stroke-linecap="butt"/><line x1="750.8" y1="421.25" x2="755" y2="421.25" stroke="#000" stroke-width="2" stroke-linecap="butt"/><line x1="750.8" y1="409.4" x2="755" y2="409.4" stroke="#000" stroke-width="2" stroke-linecap="butt"/><line x1="750.8" y1="400.4" x2="755" y2="400.4" stroke="#000" stroke-width="2" stroke-linecap="butt"/><line x1="750.8" y1="392.5" x2="755" y2="392.5" stroke="#000" stroke-width="2" stroke-linecap="butt"/><line x1="750.8" y1="386" x2="755" y2="386" stroke="#000" stroke-width="2" stroke-linecap="butt"/><line x1="750.8" y1="380.7" x2="755" y2="380.7" stroke="#000" stroke-width="2" stroke-linecap="butt"/><line x1="750.8" y1="376.1" x2="755" y2="376.1" stroke="#000" stroke-width="2" stroke-linecap="butt"/><line x1="750.8" y1="366.55" x2="759.1" y2="366.55" stroke="#000" stroke-width="2" stroke-linecap="butt"/><line x1="750.8" y1="339.05" x2="755" y2="339.05" stroke="#000" stroke-width="2" stroke-linecap="butt"/><line x1="750.8" y1="322.4" x2="755" y2="322.4" stroke="#000" stroke-width="2" stroke-linecap="butt"/><line x1="750.8" y1="310.55" x2="755" y2="310.55" stroke="#000" stroke-width="2" stroke-linecap="butt"/><line x1="750.8" y1="301.55" x2="755" y2="301.55" stroke="#000" stroke-width="2" stroke-linecap="butt"/><line x1="750.8" y1="293.65" x2="755" y2="293.65" stroke="#000" stroke-width="2" stroke-linecap="butt"/><line x1="750.8" y1="287.15" x2="755" y2="287.15" stroke="#000" stroke-width="2" stroke-linecap="butt"/><line x1="750.8" y1="281.85" x2="755" y2="281.85" stroke="#000" stroke-width="2" stroke-linecap="butt"/><line x1="750.8" y1="277.25" x2="755" y2="277.25" stroke="#000" stroke-width="2" stroke-linecap="butt"/><line x1="750.8" y1="267.7" x2="759.1" y2="267.7" stroke="#000" stroke-width="2" stroke-linecap="butt"/><line x1="750.8" y1="240.2" x2="755" y2="240.2" stroke="#000" stroke-width="2" stroke-linecap="butt"/><line x1="750.8" y1="223.55" x2="755" y2="223.55" stroke="#000" stroke-width="2" stroke-linecap="butt"/><line x1="750.8" y1="211.7" x2="755" y2="211.7" stroke="#000" stroke-width="2" stroke-linecap="butt"/><line x1="750.8" y1="202.7" x2="755" y2="202.7" stroke="#000" stroke-width="2" stroke-linecap="butt"/><line x1="750.8" y1="474.3" x2="755" y2="474.3" stroke="#000" stroke-width="2" stroke-linecap="butt"/><line x1="750.8" y1="478.6" x2="755" y2="478.6" stroke="#000" stroke-width="2" stroke-linecap="butt"/><line x1="750.8" y1="483.2" x2="755" y2="483.2" stroke="#000" stroke-width="2" stroke-linecap="butt"/><line x1="750.8" y1="102.6" x2="759.1" y2="102.6" stroke="#000" stroke-width="2" stroke-linecap="butt"/><line x1="750.8" y1="58.9" x2="755" y2="58.9" stroke="#000" stroke-width="2" stroke-linecap="butt"/><line x1="750.8" y1="75.3" x2="755" y2="75.3" stroke="#000" stroke-width="2" stroke-linecap="butt"/><line x1="750.8" y1="106.58" x2="755" y2="106.58" stroke="#000" stroke-width="2" stroke-linecap="butt"/><line x1="750.8" y1="111.03" x2="755" y2="111.03" stroke="#000" stroke-width="2" stroke-linecap="butt"/><line x1="750.8" y1="116.08" x2="755" y2="116.08" stroke="#000" stroke-width="2" stroke-linecap="butt"/><line x1="750.8" y1="121.9" x2="755" y2="121.9" stroke="#000" stroke-width="2" stroke-linecap="butt"/><line x1="750.8" y1="128.79" x2="755" y2="128.79" stroke="#000" stroke-width="2" stroke-linecap="butt"/><line x1="750.8" y1="137.22" x2="755" y2="137.22" stroke="#000" stroke-width="2" stroke-linecap="butt"/><line x1="750.8" y1="148.09" x2="755" y2="148.09" stroke="#000" stroke-width="2" stroke-linecap="butt"/><line x1="750.8" y1="163.41" x2="755" y2="163.41" stroke="#000" stroke-width="2" stroke-linecap="butt"/><line x1="750.8" y1="487" x2="750.8" y2="479.2" stroke="#000" stroke-width="2" stroke-linecap="butt"/><line x1="804.34" y1="487" x2="804.34" y2="483" stroke="#000" stroke-width="2" stroke-linecap="butt"/><line x1="857.88" y1="487" x2="857.88" y2="479.2" stroke="#000" stroke-width="2" stroke-linecap="butt"/><line x1="911.42" y1="487" x2="911.42" y2="483" stroke="#000" stroke-width="2" stroke-linecap="butt"/><line x1="964.96" y1="487" x2="964.96" y2="479.2" stroke="#000" stroke-width="2" stroke-linecap="butt"/><line x1="1018.5" y1="487" x2="1018.5" y2="483" stroke="#000" stroke-width="2" stroke-linecap="butt"/><line x1="1072.04" y1="487" x2="1072.04" y2="479.2" stroke="#000" stroke-width="2" stroke-linecap="butt"/><line x1="1125.58" y1="487" x2="1125.58" y2="483" stroke="#000" stroke-width="2" stroke-linecap="butt"/><line x1="1179.12" y1="487" x2="1179.12" y2="479.2" stroke="#000" stroke-width="2" stroke-linecap="butt"/><line x1="1232.66" y1="487" x2="1232.66" y2="483" stroke="#000" stroke-width="2" stroke-linecap="butt"/><line x1="1286.2" y1="487" x2="1286.2" y2="479.2" stroke="#000" stroke-width="2" stroke-linecap="butt"/><defs><clipPath id="cb"><rect x="750.8" y="0" width="700" height="560"/></clipPath></defs><g clip-path="url(#cb)"><ellipse cx="750.8" cy="465.2" rx="5.95" ry="6.1" fill="#0f64ae"/><ellipse cx="750.8" cy="210" rx="5.95" ry="6.1" fill="#000"/></g><ellipse cx="752.94" cy="192.54" rx="5.95" ry="6.1" fill="#000"/><ellipse cx="755.08" cy="157.71" rx="5.95" ry="6.1" fill="#000"/><ellipse cx="757.22" cy="143.86" rx="5.95" ry="6.1" fill="#000"/><ellipse cx="759.36" cy="135.5" rx="5.95" ry="6.1" fill="#000"/><ellipse cx="761.5" cy="127.22" rx="5.95" ry="6.1" fill="#000"/><ellipse cx="763.65" cy="122.13" rx="5.95" ry="6.1" fill="#000"/><ellipse cx="765.79" cy="119.04" rx="5.95" ry="6.1" fill="#000"/><ellipse cx="767.93" cy="118" rx="5.95" ry="6.1" fill="#000"/><ellipse cx="770.07" cy="120.98" rx="5.95" ry="6.1" fill="#000"/><ellipse cx="772.21" cy="123.32" rx="5.95" ry="6.1" fill="#000"/><ellipse cx="774.35" cy="124.72" rx="5.95" ry="6.1" fill="#000"/><ellipse cx="776.49" cy="126.35" rx="5.95" ry="6.1" fill="#000"/><ellipse cx="778.63" cy="127.75" rx="5.95" ry="6.1" fill="#000"/><ellipse cx="780.77" cy="130.28" rx="5.95" ry="6.1" fill="#000"/><ellipse cx="782.91" cy="129.88" rx="5.95" ry="6.1" fill="#000"/><ellipse cx="785.06" cy="132.11" rx="5.95" ry="6.1" fill="#000"/><ellipse cx="787.2" cy="133.06" rx="5.95" ry="6.1" fill="#000"/><ellipse cx="789.34" cy="135.95" rx="5.95" ry="6.1" fill="#000"/><ellipse cx="791.48" cy="135.92" rx="5.95" ry="6.1" fill="#000"/><ellipse cx="793.62" cy="136.12" rx="5.95" ry="6.1" fill="#000"/><ellipse cx="795.76" cy="137.68" rx="5.95" ry="6.1" fill="#000"/><ellipse cx="797.9" cy="137.79" rx="5.95" ry="6.1" fill="#000"/><ellipse cx="800.04" cy="138.05" rx="5.95" ry="6.1" fill="#000"/><ellipse cx="802.18" cy="140.23" rx="5.95" ry="6.1" fill="#000"/><ellipse cx="804.32" cy="140.28" rx="5.95" ry="6.1" fill="#000"/><ellipse cx="806.47" cy="141.61" rx="5.95" ry="6.1" fill="#000"/><ellipse cx="808.61" cy="141.69" rx="5.95" ry="6.1" fill="#000"/><ellipse cx="810.75" cy="141.92" rx="5.95" ry="6.1" fill="#000"/><ellipse cx="812.89" cy="141.96" rx="5.95" ry="6.1" fill="#000"/><ellipse cx="815.03" cy="141.56" rx="5.95" ry="6.1" fill="#000"/><ellipse cx="817.17" cy="143.41" rx="5.95" ry="6.1" fill="#000"/><ellipse cx="819.31" cy="143.45" rx="5.95" ry="6.1" fill="#000"/><ellipse cx="821.45" cy="144.44" rx="5.95" ry="6.1" fill="#000"/><ellipse cx="823.59" cy="144.49" rx="5.95" ry="6.1" fill="#000"/><ellipse cx="825.73" cy="144.53" rx="5.95" ry="6.1" fill="#000"/><ellipse cx="827.88" cy="144.85" rx="5.95" ry="6.1" fill="#000"/><ellipse cx="830.02" cy="146.67" rx="5.95" ry="6.1" fill="#000"/><ellipse cx="832.16" cy="147.67" rx="5.95" ry="6.1" fill="#000"/><ellipse cx="834.3" cy="147.04" rx="5.95" ry="6.1" fill="#000"/><ellipse cx="836.44" cy="148.15" rx="5.95" ry="6.1" fill="#000"/><ellipse cx="838.58" cy="149.39" rx="5.95" ry="6.1" fill="#000"/><ellipse cx="840.72" cy="148.29" rx="5.95" ry="6.1" fill="#000"/><ellipse cx="842.86" cy="149.21" rx="5.95" ry="6.1" fill="#000"/><ellipse cx="845" cy="149.19" rx="5.95" ry="6.1" fill="#000"/><ellipse cx="847.14" cy="151.45" rx="5.95" ry="6.1" fill="#000"/><ellipse cx="849.29" cy="151.32" rx="5.95" ry="6.1" fill="#000"/><ellipse cx="851.43" cy="151.28" rx="5.95" ry="6.1" fill="#000"/><ellipse cx="853.57" cy="150.68" rx="5.95" ry="6.1" fill="#000"/><ellipse cx="855.71" cy="152.07" rx="5.95" ry="6.1" fill="#000"/><ellipse cx="857.85" cy="153.23" rx="5.95" ry="6.1" fill="#000"/><ellipse cx="859.99" cy="152.56" rx="5.95" ry="6.1" fill="#000"/><ellipse cx="862.13" cy="152.75" rx="5.95" ry="6.1" fill="#000"/><ellipse cx="864.27" cy="153.83" rx="5.95" ry="6.1" fill="#000"/><ellipse cx="866.41" cy="152.72" rx="5.95" ry="6.1" fill="#000"/><ellipse cx="868.55" cy="153.97" rx="5.95" ry="6.1" fill="#000"/><ellipse cx="870.7" cy="154.66" rx="5.95" ry="6.1" fill="#000"/><ellipse cx="872.84" cy="153.93" rx="5.95" ry="6.1" fill="#000"/><ellipse cx="874.98" cy="154.18" rx="5.95" ry="6.1" fill="#000"/><ellipse cx="877.12" cy="155.27" rx="5.95" ry="6.1" fill="#000"/><ellipse cx="879.26" cy="155.3" rx="5.95" ry="6.1" fill="#000"/><ellipse cx="881.4" cy="155.45" rx="5.95" ry="6.1" fill="#000"/><ellipse cx="883.54" cy="156.01" rx="5.95" ry="6.1" fill="#000"/><ellipse cx="885.68" cy="156.26" rx="5.95" ry="6.1" fill="#000"/><ellipse cx="887.82" cy="155.64" rx="5.95" ry="6.1" fill="#000"/><ellipse cx="889.96" cy="156.07" rx="5.95" ry="6.1" fill="#000"/><ellipse cx="892.11" cy="157.13" rx="5.95" ry="6.1" fill="#000"/><ellipse cx="894.25" cy="157.87" rx="5.95" ry="6.1" fill="#000"/><ellipse cx="896.39" cy="158.28" rx="5.95" ry="6.1" fill="#000"/><ellipse cx="898.53" cy="156.87" rx="5.95" ry="6.1" fill="#000"/><ellipse cx="900.67" cy="158.55" rx="5.95" ry="6.1" fill="#000"/><ellipse cx="902.81" cy="158.54" rx="5.95" ry="6.1" fill="#000"/><ellipse cx="904.95" cy="158.19" rx="5.95" ry="6.1" fill="#000"/><ellipse cx="907.09" cy="158.81" rx="5.95" ry="6.1" fill="#000"/><ellipse cx="909.23" cy="159.3" rx="5.95" ry="6.1" fill="#000"/><ellipse cx="911.38" cy="160.22" rx="5.95" ry="6.1" fill="#000"/><ellipse cx="913.52" cy="158.18" rx="5.95" ry="6.1" fill="#000"/><ellipse cx="915.66" cy="159.48" rx="5.95" ry="6.1" fill="#000"/><ellipse cx="917.8" cy="159" rx="5.95" ry="6.1" fill="#000"/><ellipse cx="919.94" cy="159.03" rx="5.95" ry="6.1" fill="#000"/><ellipse cx="922.08" cy="160.11" rx="5.95" ry="6.1" fill="#000"/><ellipse cx="924.22" cy="159.94" rx="5.95" ry="6.1" fill="#000"/><ellipse cx="926.36" cy="158.65" rx="5.95" ry="6.1" fill="#000"/><ellipse cx="928.5" cy="159.27" rx="5.95" ry="6.1" fill="#000"/><ellipse cx="930.64" cy="159.72" rx="5.95" ry="6.1" fill="#000"/><ellipse cx="932.78" cy="158.57" rx="5.95" ry="6.1" fill="#000"/><ellipse cx="934.93" cy="160.34" rx="5.95" ry="6.1" fill="#000"/><ellipse cx="937.07" cy="159.72" rx="5.95" ry="6.1" fill="#000"/><ellipse cx="939.21" cy="159.97" rx="5.95" ry="6.1" fill="#000"/><ellipse cx="941.35" cy="160.17" rx="5.95" ry="6.1" fill="#000"/><ellipse cx="943.49" cy="161.34" rx="5.95" ry="6.1" fill="#000"/><ellipse cx="945.63" cy="160.1" rx="5.95" ry="6.1" fill="#000"/><ellipse cx="947.77" cy="159.88" rx="5.95" ry="6.1" fill="#000"/><ellipse cx="949.91" cy="161.51" rx="5.95" ry="6.1" fill="#000"/><ellipse cx="952.05" cy="159.92" rx="5.95" ry="6.1" fill="#000"/><ellipse cx="954.19" cy="159.97" rx="5.95" ry="6.1" fill="#000"/><ellipse cx="956.34" cy="159.41" rx="5.95" ry="6.1" fill="#000"/><ellipse cx="958.48" cy="161.31" rx="5.95" ry="6.1" fill="#000"/><ellipse cx="960.62" cy="160.79" rx="5.95" ry="6.1" fill="#000"/><ellipse cx="962.76" cy="161.01" rx="5.95" ry="6.1" fill="#000"/><ellipse cx="964.9" cy="160.86" rx="5.95" ry="6.1" fill="#000"/><ellipse cx="967.04" cy="160.71" rx="5.95" ry="6.1" fill="#000"/><ellipse cx="969.18" cy="160.3" rx="5.95" ry="6.1" fill="#000"/><ellipse cx="971.32" cy="160.37" rx="5.95" ry="6.1" fill="#000"/><ellipse cx="973.46" cy="161.34" rx="5.95" ry="6.1" fill="#000"/><ellipse cx="975.61" cy="161.18" rx="5.95" ry="6.1" fill="#000"/><ellipse cx="977.75" cy="162.37" rx="5.95" ry="6.1" fill="#000"/><ellipse cx="979.89" cy="160.66" rx="5.95" ry="6.1" fill="#000"/><ellipse cx="982.03" cy="160.93" rx="5.95" ry="6.1" fill="#000"/><ellipse cx="984.17" cy="160.61" rx="5.95" ry="6.1" fill="#000"/><ellipse cx="986.31" cy="162.45" rx="5.95" ry="6.1" fill="#000"/><ellipse cx="988.45" cy="160.58" rx="5.95" ry="6.1" fill="#000"/><ellipse cx="990.59" cy="162.14" rx="5.95" ry="6.1" fill="#000"/><ellipse cx="992.73" cy="162.7" rx="5.95" ry="6.1" fill="#000"/><ellipse cx="994.87" cy="161.6" rx="5.95" ry="6.1" fill="#000"/><ellipse cx="997.01" cy="162.31" rx="5.95" ry="6.1" fill="#000"/><ellipse cx="999.16" cy="160.26" rx="5.95" ry="6.1" fill="#000"/><ellipse cx="1001.3" cy="161.62" rx="5.95" ry="6.1" fill="#000"/><ellipse cx="1003.44" cy="160.74" rx="5.95" ry="6.1" fill="#000"/><ellipse cx="1005.58" cy="162.17" rx="5.95" ry="6.1" fill="#000"/><ellipse cx="1007.72" cy="162.11" rx="5.95" ry="6.1" fill="#000"/><ellipse cx="1009.86" cy="161.6" rx="5.95" ry="6.1" fill="#000"/><ellipse cx="1012" cy="162.94" rx="5.95" ry="6.1" fill="#000"/><ellipse cx="1014.14" cy="162.57" rx="5.95" ry="6.1" fill="#000"/><ellipse cx="1016.28" cy="161.99" rx="5.95" ry="6.1" fill="#000"/><ellipse cx="1018.42" cy="162.07" rx="5.95" ry="6.1" fill="#000"/><ellipse cx="1020.57" cy="161.42" rx="5.95" ry="6.1" fill="#000"/><ellipse cx="1022.71" cy="162.44" rx="5.95" ry="6.1" fill="#000"/><ellipse cx="1024.85" cy="164.22" rx="5.95" ry="6.1" fill="#000"/><ellipse cx="1026.99" cy="162.19" rx="5.95" ry="6.1" fill="#000"/><ellipse cx="1029.13" cy="163.1" rx="5.95" ry="6.1" fill="#000"/><ellipse cx="1031.27" cy="162.45" rx="5.95" ry="6.1" fill="#000"/><ellipse cx="1033.41" cy="163.52" rx="5.95" ry="6.1" fill="#000"/><ellipse cx="1035.55" cy="163.31" rx="5.95" ry="6.1" fill="#000"/><ellipse cx="1037.69" cy="162.88" rx="5.95" ry="6.1" fill="#000"/><ellipse cx="1039.84" cy="161.8" rx="5.95" ry="6.1" fill="#000"/><ellipse cx="1041.98" cy="162.81" rx="5.95" ry="6.1" fill="#000"/><ellipse cx="1044.12" cy="164.15" rx="5.95" ry="6.1" fill="#000"/><ellipse cx="1046.26" cy="163.15" rx="5.95" ry="6.1" fill="#000"/><ellipse cx="1048.4" cy="163.86" rx="5.95" ry="6.1" fill="#000"/><ellipse cx="1050.54" cy="163.09" rx="5.95" ry="6.1" fill="#000"/><ellipse cx="1052.68" cy="162.12" rx="5.95" ry="6.1" fill="#000"/><ellipse cx="1054.82" cy="163.87" rx="5.95" ry="6.1" fill="#000"/><ellipse cx="1056.96" cy="163.85" rx="5.95" ry="6.1" fill="#000"/><ellipse cx="1059.1" cy="163.24" rx="5.95" ry="6.1" fill="#000"/><ellipse cx="1061.24" cy="163.45" rx="5.95" ry="6.1" fill="#000"/><ellipse cx="1063.39" cy="163.99" rx="5.95" ry="6.1" fill="#000"/><ellipse cx="1065.53" cy="163.39" rx="5.95" ry="6.1" fill="#000"/><ellipse cx="1067.67" cy="164.14" rx="5.95" ry="6.1" fill="#000"/><ellipse cx="1069.81" cy="163.79" rx="5.95" ry="6.1" fill="#000"/><ellipse cx="1071.95" cy="162.25" rx="5.95" ry="6.1" fill="#000"/><ellipse cx="1074.09" cy="163.94" rx="5.95" ry="6.1" fill="#000"/><ellipse cx="1076.23" cy="163.66" rx="5.95" ry="6.1" fill="#000"/><ellipse cx="1078.37" cy="163.54" rx="5.95" ry="6.1" fill="#000"/><ellipse cx="1080.51" cy="164.51" rx="5.95" ry="6.1" fill="#000"/><ellipse cx="1082.65" cy="163.91" rx="5.95" ry="6.1" fill="#000"/><ellipse cx="1084.8" cy="164.73" rx="5.95" ry="6.1" fill="#000"/><ellipse cx="1086.94" cy="165.19" rx="5.95" ry="6.1" fill="#000"/><ellipse cx="1089.08" cy="164.54" rx="5.95" ry="6.1" fill="#000"/><ellipse cx="1091.22" cy="163.34" rx="5.95" ry="6.1" fill="#000"/><ellipse cx="1093.36" cy="164" rx="5.95" ry="6.1" fill="#000"/><ellipse cx="1095.5" cy="165.28" rx="5.95" ry="6.1" fill="#000"/><ellipse cx="1097.64" cy="164.46" rx="5.95" ry="6.1" fill="#000"/><ellipse cx="1099.78" cy="164.11" rx="5.95" ry="6.1" fill="#000"/><ellipse cx="1101.92" cy="164.7" rx="5.95" ry="6.1" fill="#000"/><ellipse cx="1104.07" cy="165.19" rx="5.95" ry="6.1" fill="#000"/><ellipse cx="1106.21" cy="165.07" rx="5.95" ry="6.1" fill="#000"/><ellipse cx="1108.35" cy="165.41" rx="5.95" ry="6.1" fill="#000"/><ellipse cx="1110.49" cy="164.37" rx="5.95" ry="6.1" fill="#000"/><ellipse cx="1112.63" cy="164.84" rx="5.95" ry="6.1" fill="#000"/><ellipse cx="1114.77" cy="164.91" rx="5.95" ry="6.1" fill="#000"/><ellipse cx="1116.91" cy="165.13" rx="5.95" ry="6.1" fill="#000"/><ellipse cx="1119.05" cy="163.65" rx="5.95" ry="6.1" fill="#000"/><ellipse cx="1121.19" cy="165.09" rx="5.95" ry="6.1" fill="#000"/><ellipse cx="1123.33" cy="164.32" rx="5.95" ry="6.1" fill="#000"/><ellipse cx="1125.47" cy="166.4" rx="5.95" ry="6.1" fill="#000"/><ellipse cx="1127.62" cy="166.57" rx="5.95" ry="6.1" fill="#000"/><ellipse cx="1129.76" cy="166.7" rx="5.95" ry="6.1" fill="#000"/><ellipse cx="1131.9" cy="166.09" rx="5.95" ry="6.1" fill="#000"/><ellipse cx="1134.04" cy="165.17" rx="5.95" ry="6.1" fill="#000"/><ellipse cx="1136.18" cy="166.28" rx="5.95" ry="6.1" fill="#000"/><ellipse cx="1138.32" cy="165.45" rx="5.95" ry="6.1" fill="#000"/><ellipse cx="1140.46" cy="166.09" rx="5.95" ry="6.1" fill="#000"/><ellipse cx="1142.6" cy="165.01" rx="5.95" ry="6.1" fill="#000"/><ellipse cx="1144.74" cy="165.28" rx="5.95" ry="6.1" fill="#000"/><ellipse cx="1146.88" cy="166.1" rx="5.95" ry="6.1" fill="#000"/><ellipse cx="1149.03" cy="167.1" rx="5.95" ry="6.1" fill="#000"/><ellipse cx="1151.17" cy="165.81" rx="5.95" ry="6.1" fill="#000"/><ellipse cx="1153.31" cy="167.54" rx="5.95" ry="6.1" fill="#000"/><ellipse cx="1155.45" cy="167.95" rx="5.95" ry="6.1" fill="#000"/><ellipse cx="1157.59" cy="164.99" rx="5.95" ry="6.1" fill="#000"/><ellipse cx="1159.73" cy="165.96" rx="5.95" ry="6.1" fill="#000"/><ellipse cx="1161.87" cy="165.31" rx="5.95" ry="6.1" fill="#000"/><ellipse cx="1164.01" cy="165.95" rx="5.95" ry="6.1" fill="#000"/><ellipse cx="1166.15" cy="165.7" rx="5.95" ry="6.1" fill="#000"/><ellipse cx="1168.3" cy="166.08" rx="5.95" ry="6.1" fill="#000"/><ellipse cx="1170.44" cy="166.88" rx="5.95" ry="6.1" fill="#000"/><ellipse cx="1172.58" cy="166.9" rx="5.95" ry="6.1" fill="#000"/><ellipse cx="1174.72" cy="166.44" rx="5.95" ry="6.1" fill="#000"/><ellipse cx="1176.86" cy="166.28" rx="5.95" ry="6.1" fill="#000"/><ellipse cx="1179" cy="166.41" rx="5.95" ry="6.1" fill="#000"/><ellipse cx="1181.14" cy="166.45" rx="5.95" ry="6.1" fill="#000"/><ellipse cx="1183.28" cy="166.82" rx="5.95" ry="6.1" fill="#000"/><ellipse cx="1185.42" cy="166.44" rx="5.95" ry="6.1" fill="#000"/><ellipse cx="1187.56" cy="166.85" rx="5.95" ry="6.1" fill="#000"/><ellipse cx="1189.7" cy="165.55" rx="5.95" ry="6.1" fill="#000"/><ellipse cx="1191.85" cy="167.15" rx="5.95" ry="6.1" fill="#000"/><ellipse cx="1193.99" cy="167.9" rx="5.95" ry="6.1" fill="#000"/><ellipse cx="1196.13" cy="166.78" rx="5.95" ry="6.1" fill="#000"/><ellipse cx="1198.27" cy="165.64" rx="5.95" ry="6.1" fill="#000"/><ellipse cx="1200.41" cy="167.73" rx="5.95" ry="6.1" fill="#000"/><ellipse cx="1202.55" cy="166.52" rx="5.95" ry="6.1" fill="#000"/><ellipse cx="1204.69" cy="164.59" rx="5.95" ry="6.1" fill="#000"/><ellipse cx="1206.83" cy="166.69" rx="5.95" ry="6.1" fill="#000"/><ellipse cx="1208.97" cy="167.34" rx="5.95" ry="6.1" fill="#000"/><ellipse cx="1211.12" cy="167.22" rx="5.95" ry="6.1" fill="#000"/><ellipse cx="1213.26" cy="167.89" rx="5.95" ry="6.1" fill="#000"/><ellipse cx="1215.4" cy="167.48" rx="5.95" ry="6.1" fill="#000"/><ellipse cx="1217.54" cy="167.15" rx="5.95" ry="6.1" fill="#000"/><ellipse cx="1219.68" cy="165.63" rx="5.95" ry="6.1" fill="#000"/><ellipse cx="1221.82" cy="166.31" rx="5.95" ry="6.1" fill="#000"/><ellipse cx="1223.96" cy="167.31" rx="5.95" ry="6.1" fill="#000"/><ellipse cx="1226.1" cy="167.72" rx="5.95" ry="6.1" fill="#000"/><ellipse cx="1228.24" cy="166.5" rx="5.95" ry="6.1" fill="#000"/><ellipse cx="1230.38" cy="166.85" rx="5.95" ry="6.1" fill="#000"/><ellipse cx="1232.53" cy="167.69" rx="5.95" ry="6.1" fill="#000"/><ellipse cx="1234.67" cy="165.97" rx="5.95" ry="6.1" fill="#000"/><ellipse cx="1236.81" cy="165.98" rx="5.95" ry="6.1" fill="#000"/><ellipse cx="1238.95" cy="167.3" rx="5.95" ry="6.1" fill="#000"/><ellipse cx="1241.09" cy="167.7" rx="5.95" ry="6.1" fill="#000"/><ellipse cx="1243.23" cy="167.21" rx="5.95" ry="6.1" fill="#000"/><ellipse cx="1245.37" cy="165.92" rx="5.95" ry="6.1" fill="#000"/><ellipse cx="1247.51" cy="167.69" rx="5.95" ry="6.1" fill="#000"/><ellipse cx="1249.65" cy="166.74" rx="5.95" ry="6.1" fill="#000"/><ellipse cx="1251.79" cy="168.26" rx="5.95" ry="6.1" fill="#000"/><ellipse cx="1253.93" cy="167.76" rx="5.95" ry="6.1" fill="#000"/><ellipse cx="1256.08" cy="168.08" rx="5.95" ry="6.1" fill="#000"/><ellipse cx="1258.22" cy="168.41" rx="5.95" ry="6.1" fill="#000"/><ellipse cx="1260.36" cy="167.6" rx="5.95" ry="6.1" fill="#000"/><ellipse cx="1262.5" cy="168.65" rx="5.95" ry="6.1" fill="#000"/><ellipse cx="1264.64" cy="169.02" rx="5.95" ry="6.1" fill="#000"/><ellipse cx="1266.78" cy="168.44" rx="5.95" ry="6.1" fill="#000"/><ellipse cx="1268.92" cy="169.18" rx="5.95" ry="6.1" fill="#000"/><ellipse cx="1271.06" cy="167.78" rx="5.95" ry="6.1" fill="#000"/><ellipse cx="1273.2" cy="168.98" rx="5.95" ry="6.1" fill="#000"/><ellipse cx="1275.34" cy="168.55" rx="5.95" ry="6.1" fill="#000"/><ellipse cx="1277.49" cy="167.67" rx="5.95" ry="6.1" fill="#000"/><ellipse cx="1279.63" cy="168.4" rx="5.95" ry="6.1" fill="#000"/><ellipse cx="1281.77" cy="168.12" rx="5.95" ry="6.1" fill="#000"/><ellipse cx="1283.91" cy="168.15" rx="5.95" ry="6.1" fill="#000"/><ellipse cx="1286.05" cy="168.66" rx="5.95" ry="6.1" fill="#000"/><ellipse cx="752.94" cy="175.9" rx="5.38" ry="5.52" fill="#fff" stroke="#000" stroke-width="1.15"/><ellipse cx="755.08" cy="146.8" rx="5.38" ry="5.52" fill="#fff" stroke="#000" stroke-width="1.15"/><ellipse cx="757.22" cy="133.91" rx="5.38" ry="5.52" fill="#fff" stroke="#000" stroke-width="1.15"/><ellipse cx="759.36" cy="124.56" rx="5.38" ry="5.52" fill="#fff" stroke="#000" stroke-width="1.15"/><ellipse cx="761.5" cy="117.08" rx="5.38" ry="5.52" fill="#fff" stroke="#000" stroke-width="1.15"/><ellipse cx="763.65" cy="111.87" rx="5.38" ry="5.52" fill="#fff" stroke="#000" stroke-width="1.15"/><ellipse cx="765.79" cy="110.08" rx="5.38" ry="5.52" fill="#fff" stroke="#000" stroke-width="1.15"/><ellipse cx="767.93" cy="107.95" rx="5.38" ry="5.52" fill="#fff" stroke="#000" stroke-width="1.15"/><ellipse cx="770.07" cy="108.35" rx="5.38" ry="5.52" fill="#fff" stroke="#000" stroke-width="1.15"/><ellipse cx="772.21" cy="107.96" rx="5.38" ry="5.52" fill="#fff" stroke="#000" stroke-width="1.15"/><ellipse cx="774.35" cy="108.41" rx="5.38" ry="5.52" fill="#fff" stroke="#000" stroke-width="1.15"/><ellipse cx="776.49" cy="108.88" rx="5.38" ry="5.52" fill="#fff" stroke="#000" stroke-width="1.15"/><ellipse cx="778.63" cy="109.55" rx="5.38" ry="5.52" fill="#fff" stroke="#000" stroke-width="1.15"/><ellipse cx="780.77" cy="110.49" rx="5.38" ry="5.52" fill="#fff" stroke="#000" stroke-width="1.15"/><ellipse cx="782.91" cy="111.3" rx="5.38" ry="5.52" fill="#fff" stroke="#000" stroke-width="1.15"/><ellipse cx="785.06" cy="112.32" rx="5.38" ry="5.52" fill="#fff" stroke="#000" stroke-width="1.15"/><ellipse cx="787.2" cy="113.62" rx="5.38" ry="5.52" fill="#fff" stroke="#000" stroke-width="1.15"/><ellipse cx="789.34" cy="114.48" rx="5.38" ry="5.52" fill="#fff" stroke="#000" stroke-width="1.15"/><ellipse cx="791.48" cy="115.22" rx="5.38" ry="5.52" fill="#fff" stroke="#000" stroke-width="1.15"/><ellipse cx="793.62" cy="116.45" rx="5.38" ry="5.52" fill="#fff" stroke="#000" stroke-width="1.15"/><ellipse cx="795.76" cy="117.42" rx="5.38" ry="5.52" fill="#fff" stroke="#000" stroke-width="1.15"/><ellipse cx="797.9" cy="118.6" rx="5.38" ry="5.52" fill="#fff" stroke="#000" stroke-width="1.15"/><ellipse cx="800.04" cy="119.75" rx="5.38" ry="5.52" fill="#fff" stroke="#000" stroke-width="1.15"/><ellipse cx="802.18" cy="120.9" rx="5.38" ry="5.52" fill="#fff" stroke="#000" stroke-width="1.15"/><ellipse cx="804.32" cy="121.82" rx="5.38" ry="5.52" fill="#fff" stroke="#000" stroke-width="1.15"/><ellipse cx="806.47" cy="123.16" rx="5.38" ry="5.52" fill="#fff" stroke="#000" stroke-width="1.15"/><ellipse cx="808.61" cy="123.76" rx="5.38" ry="5.52" fill="#fff" stroke="#000" stroke-width="1.15"/><ellipse cx="810.75" cy="124.32" rx="5.38" ry="5.52" fill="#fff" stroke="#000" stroke-width="1.15"/><ellipse cx="812.89" cy="126.39" rx="5.38" ry="5.52" fill="#fff" stroke="#000" stroke-width="1.15"/><ellipse cx="815.03" cy="126.92" rx="5.38" ry="5.52" fill="#fff" stroke="#000" stroke-width="1.15"/><ellipse cx="817.17" cy="128.25" rx="5.38" ry="5.52" fill="#fff" stroke="#000" stroke-width="1.15"/><ellipse cx="819.31" cy="129.24" rx="5.38" ry="5.52" fill="#fff" stroke="#000" stroke-width="1.15"/><ellipse cx="821.45" cy="130.67" rx="5.38" ry="5.52" fill="#fff" stroke="#000" stroke-width="1.15"/><ellipse cx="823.59" cy="130.67" rx="5.38" ry="5.52" fill="#fff" stroke="#000" stroke-width="1.15"/><ellipse cx="825.73" cy="131.83" rx="5.38" ry="5.52" fill="#fff" stroke="#000" stroke-width="1.15"/><ellipse cx="827.88" cy="132.2" rx="5.38" ry="5.52" fill="#fff" stroke="#000" stroke-width="1.15"/><ellipse cx="830.02" cy="132.58" rx="5.38" ry="5.52" fill="#fff" stroke="#000" stroke-width="1.15"/><ellipse cx="832.16" cy="133.11" rx="5.38" ry="5.52" fill="#fff" stroke="#000" stroke-width="1.15"/><ellipse cx="834.3" cy="134.46" rx="5.38" ry="5.52" fill="#fff" stroke="#000" stroke-width="1.15"/><ellipse cx="836.44" cy="134.96" rx="5.38" ry="5.52" fill="#fff" stroke="#000" stroke-width="1.15"/><ellipse cx="838.58" cy="135.56" rx="5.38" ry="5.52" fill="#fff" stroke="#000" stroke-width="1.15"/><ellipse cx="840.72" cy="136.4" rx="5.38" ry="5.52" fill="#fff" stroke="#000" stroke-width="1.15"/><ellipse cx="842.86" cy="136.32" rx="5.38" ry="5.52" fill="#fff" stroke="#000" stroke-width="1.15"/><ellipse cx="845" cy="136.8" rx="5.38" ry="5.52" fill="#fff" stroke="#000" stroke-width="1.15"/><ellipse cx="847.14" cy="137.12" rx="5.38" ry="5.52" fill="#fff" stroke="#000" stroke-width="1.15"/><ellipse cx="849.29" cy="137.67" rx="5.38" ry="5.52" fill="#fff" stroke="#000" stroke-width="1.15"/><ellipse cx="851.43" cy="137.92" rx="5.38" ry="5.52" fill="#fff" stroke="#000" stroke-width="1.15"/><ellipse cx="853.57" cy="137.9" rx="5.38" ry="5.52" fill="#fff" stroke="#000" stroke-width="1.15"/><ellipse cx="855.71" cy="139.08" rx="5.38" ry="5.52" fill="#fff" stroke="#000" stroke-width="1.15"/><ellipse cx="857.85" cy="137.9" rx="5.38" ry="5.52" fill="#fff" stroke="#000" stroke-width="1.15"/><ellipse cx="859.99" cy="138.81" rx="5.38" ry="5.52" fill="#fff" stroke="#000" stroke-width="1.15"/><ellipse cx="862.13" cy="139.04" rx="5.38" ry="5.52" fill="#fff" stroke="#000" stroke-width="1.15"/><ellipse cx="864.27" cy="139.11" rx="5.38" ry="5.52" fill="#fff" stroke="#000" stroke-width="1.15"/><ellipse cx="866.41" cy="138.89" rx="5.38" ry="5.52" fill="#fff" stroke="#000" stroke-width="1.15"/><ellipse cx="868.55" cy="139.33" rx="5.38" ry="5.52" fill="#fff" stroke="#000" stroke-width="1.15"/><ellipse cx="870.7" cy="139.41" rx="5.38" ry="5.52" fill="#fff" stroke="#000" stroke-width="1.15"/><ellipse cx="872.84" cy="139.36" rx="5.38" ry="5.52" fill="#fff" stroke="#000" stroke-width="1.15"/><ellipse cx="874.98" cy="139.89" rx="5.38" ry="5.52" fill="#fff" stroke="#000" stroke-width="1.15"/><ellipse cx="877.12" cy="139.93" rx="5.38" ry="5.52" fill="#fff" stroke="#000" stroke-width="1.15"/><ellipse cx="879.26" cy="140.05" rx="5.38" ry="5.52" fill="#fff" stroke="#000" stroke-width="1.15"/><ellipse cx="881.4" cy="140.6" rx="5.38" ry="5.52" fill="#fff" stroke="#000" stroke-width="1.15"/><ellipse cx="883.54" cy="140.07" rx="5.38" ry="5.52" fill="#fff" stroke="#000" stroke-width="1.15"/><ellipse cx="885.68" cy="140.68" rx="5.38" ry="5.52" fill="#fff" stroke="#000" stroke-width="1.15"/><ellipse cx="887.82" cy="140.39" rx="5.38" ry="5.52" fill="#fff" stroke="#000" stroke-width="1.15"/><ellipse cx="889.96" cy="140.84" rx="5.38" ry="5.52" fill="#fff" stroke="#000" stroke-width="1.15"/><ellipse cx="892.11" cy="140.79" rx="5.38" ry="5.52" fill="#fff" stroke="#000" stroke-width="1.15"/><ellipse cx="894.25" cy="140.94" rx="5.38" ry="5.52" fill="#fff" stroke="#000" stroke-width="1.15"/><ellipse cx="896.39" cy="140.59" rx="5.38" ry="5.52" fill="#fff" stroke="#000" stroke-width="1.15"/><ellipse cx="898.53" cy="140.75" rx="5.38" ry="5.52" fill="#fff" stroke="#000" stroke-width="1.15"/><ellipse cx="900.67" cy="140.8" rx="5.38" ry="5.52" fill="#fff" stroke="#000" stroke-width="1.15"/><ellipse cx="902.81" cy="141.24" rx="5.38" ry="5.52" fill="#fff" stroke="#000" stroke-width="1.15"/><ellipse cx="904.95" cy="141.53" rx="5.38" ry="5.52" fill="#fff" stroke="#000" stroke-width="1.15"/><ellipse cx="907.09" cy="141.72" rx="5.38" ry="5.52" fill="#fff" stroke="#000" stroke-width="1.15"/><ellipse cx="909.23" cy="141.26" rx="5.38" ry="5.52" fill="#fff" stroke="#000" stroke-width="1.15"/><ellipse cx="911.38" cy="141.53" rx="5.38" ry="5.52" fill="#fff" stroke="#000" stroke-width="1.15"/><ellipse cx="913.52" cy="140.94" rx="5.38" ry="5.52" fill="#fff" stroke="#000" stroke-width="1.15"/><ellipse cx="915.66" cy="140.73" rx="5.38" ry="5.52" fill="#fff" stroke="#000" stroke-width="1.15"/><ellipse cx="917.8" cy="141.21" rx="5.38" ry="5.52" fill="#fff" stroke="#000" stroke-width="1.15"/><ellipse cx="919.94" cy="141.28" rx="5.38" ry="5.52" fill="#fff" stroke="#000" stroke-width="1.15"/><ellipse cx="922.08" cy="140.97" rx="5.38" ry="5.52" fill="#fff" stroke="#000" stroke-width="1.15"/><ellipse cx="924.22" cy="140.9" rx="5.38" ry="5.52" fill="#fff" stroke="#000" stroke-width="1.15"/><ellipse cx="926.36" cy="141.71" rx="5.38" ry="5.52" fill="#fff" stroke="#000" stroke-width="1.15"/><ellipse cx="928.5" cy="141.24" rx="5.38" ry="5.52" fill="#fff" stroke="#000" stroke-width="1.15"/><ellipse cx="930.64" cy="140.94" rx="5.38" ry="5.52" fill="#fff" stroke="#000" stroke-width="1.15"/><ellipse cx="932.78" cy="142.34" rx="5.38" ry="5.52" fill="#fff" stroke="#000" stroke-width="1.15"/><ellipse cx="934.93" cy="141.59" rx="5.38" ry="5.52" fill="#fff" stroke="#000" stroke-width="1.15"/><ellipse cx="937.07" cy="141.43" rx="5.38" ry="5.52" fill="#fff" stroke="#000" stroke-width="1.15"/><ellipse cx="939.21" cy="141.78" rx="5.38" ry="5.52" fill="#fff" stroke="#000" stroke-width="1.15"/><ellipse cx="941.35" cy="141.28" rx="5.38" ry="5.52" fill="#fff" stroke="#000" stroke-width="1.15"/><ellipse cx="943.49" cy="142.1" rx="5.38" ry="5.52" fill="#fff" stroke="#000" stroke-width="1.15"/><ellipse cx="945.63" cy="141.01" rx="5.38" ry="5.52" fill="#fff" stroke="#000" stroke-width="1.15"/><ellipse cx="947.77" cy="141.1" rx="5.38" ry="5.52" fill="#fff" stroke="#000" stroke-width="1.15"/><ellipse cx="949.91" cy="141.51" rx="5.38" ry="5.52" fill="#fff" stroke="#000" stroke-width="1.15"/><ellipse cx="952.05" cy="141.29" rx="5.38" ry="5.52" fill="#fff" stroke="#000" stroke-width="1.15"/><ellipse cx="954.19" cy="142.06" rx="5.38" ry="5.52" fill="#fff" stroke="#000" stroke-width="1.15"/><ellipse cx="956.34" cy="141.01" rx="5.38" ry="5.52" fill="#fff" stroke="#000" stroke-width="1.15"/><ellipse cx="958.48" cy="141.31" rx="5.38" ry="5.52" fill="#fff" stroke="#000" stroke-width="1.15"/><ellipse cx="960.62" cy="141.66" rx="5.38" ry="5.52" fill="#fff" stroke="#000" stroke-width="1.15"/><ellipse cx="962.76" cy="141.77" rx="5.38" ry="5.52" fill="#fff" stroke="#000" stroke-width="1.15"/><ellipse cx="964.9" cy="141.93" rx="5.38" ry="5.52" fill="#fff" stroke="#000" stroke-width="1.15"/><ellipse cx="967.04" cy="141.7" rx="5.38" ry="5.52" fill="#fff" stroke="#000" stroke-width="1.15"/><ellipse cx="969.18" cy="142.35" rx="5.38" ry="5.52" fill="#fff" stroke="#000" stroke-width="1.15"/><ellipse cx="971.32" cy="141.42" rx="5.38" ry="5.52" fill="#fff" stroke="#000" stroke-width="1.15"/><ellipse cx="973.46" cy="141.65" rx="5.38" ry="5.52" fill="#fff" stroke="#000" stroke-width="1.15"/><ellipse cx="975.61" cy="141.9" rx="5.38" ry="5.52" fill="#fff" stroke="#000" stroke-width="1.15"/><ellipse cx="977.75" cy="141.49" rx="5.38" ry="5.52" fill="#fff" stroke="#000" stroke-width="1.15"/><ellipse cx="979.89" cy="141.51" rx="5.38" ry="5.52" fill="#fff" stroke="#000" stroke-width="1.15"/><ellipse cx="982.03" cy="141.45" rx="5.38" ry="5.52" fill="#fff" stroke="#000" stroke-width="1.15"/><ellipse cx="984.17" cy="141.4" rx="5.38" ry="5.52" fill="#fff" stroke="#000" stroke-width="1.15"/><ellipse cx="986.31" cy="141.23" rx="5.38" ry="5.52" fill="#fff" stroke="#000" stroke-width="1.15"/><ellipse cx="988.45" cy="141.44" rx="5.38" ry="5.52" fill="#fff" stroke="#000" stroke-width="1.15"/><ellipse cx="990.59" cy="141.1" rx="5.38" ry="5.52" fill="#fff" stroke="#000" stroke-width="1.15"/><ellipse cx="992.73" cy="141.77" rx="5.38" ry="5.52" fill="#fff" stroke="#000" stroke-width="1.15"/><ellipse cx="994.87" cy="141.09" rx="5.38" ry="5.52" fill="#fff" stroke="#000" stroke-width="1.15"/><ellipse cx="997.01" cy="142.37" rx="5.38" ry="5.52" fill="#fff" stroke="#000" stroke-width="1.15"/><ellipse cx="999.16" cy="142.25" rx="5.38" ry="5.52" fill="#fff" stroke="#000" stroke-width="1.15"/><ellipse cx="1001.3" cy="142.05" rx="5.38" ry="5.52" fill="#fff" stroke="#000" stroke-width="1.15"/><ellipse cx="1003.44" cy="141.59" rx="5.38" ry="5.52" fill="#fff" stroke="#000" stroke-width="1.15"/><ellipse cx="1005.58" cy="141.47" rx="5.38" ry="5.52" fill="#fff" stroke="#000" stroke-width="1.15"/><ellipse cx="1007.72" cy="142.11" rx="5.38" ry="5.52" fill="#fff" stroke="#000" stroke-width="1.15"/><ellipse cx="1009.86" cy="141.75" rx="5.38" ry="5.52" fill="#fff" stroke="#000" stroke-width="1.15"/><ellipse cx="1012" cy="141.89" rx="5.38" ry="5.52" fill="#fff" stroke="#000" stroke-width="1.15"/><ellipse cx="1014.14" cy="141.44" rx="5.38" ry="5.52" fill="#fff" stroke="#000" stroke-width="1.15"/><ellipse cx="1016.28" cy="142.07" rx="5.38" ry="5.52" fill="#fff" stroke="#000" stroke-width="1.15"/><ellipse cx="1018.42" cy="141.43" rx="5.38" ry="5.52" fill="#fff" stroke="#000" stroke-width="1.15"/><ellipse cx="1020.57" cy="141.75" rx="5.38" ry="5.52" fill="#fff" stroke="#000" stroke-width="1.15"/><ellipse cx="1022.71" cy="141.11" rx="5.38" ry="5.52" fill="#fff" stroke="#000" stroke-width="1.15"/><ellipse cx="1024.85" cy="141.49" rx="5.38" ry="5.52" fill="#fff" stroke="#000" stroke-width="1.15"/><ellipse cx="1026.99" cy="141.9" rx="5.38" ry="5.52" fill="#fff" stroke="#000" stroke-width="1.15"/><ellipse cx="1029.13" cy="141.58" rx="5.38" ry="5.52" fill="#fff" stroke="#000" stroke-width="1.15"/><ellipse cx="1031.27" cy="141.58" rx="5.38" ry="5.52" fill="#fff" stroke="#000" stroke-width="1.15"/><ellipse cx="1033.41" cy="142.02" rx="5.38" ry="5.52" fill="#fff" stroke="#000" stroke-width="1.15"/><ellipse cx="1035.55" cy="141.72" rx="5.38" ry="5.52" fill="#fff" stroke="#000" stroke-width="1.15"/><ellipse cx="1037.69" cy="142.19" rx="5.38" ry="5.52" fill="#fff" stroke="#000" stroke-width="1.15"/><ellipse cx="1039.84" cy="140.92" rx="5.38" ry="5.52" fill="#fff" stroke="#000" stroke-width="1.15"/><ellipse cx="1041.98" cy="141.96" rx="5.38" ry="5.52" fill="#fff" stroke="#000" stroke-width="1.15"/><ellipse cx="1044.12" cy="141.95" rx="5.38" ry="5.52" fill="#fff" stroke="#000" stroke-width="1.15"/><ellipse cx="1046.26" cy="141.24" rx="5.38" ry="5.52" fill="#fff" stroke="#000" stroke-width="1.15"/><ellipse cx="1048.4" cy="141.33" rx="5.38" ry="5.52" fill="#fff" stroke="#000" stroke-width="1.15"/><ellipse cx="1050.54" cy="142.1" rx="5.38" ry="5.52" fill="#fff" stroke="#000" stroke-width="1.15"/><ellipse cx="1052.68" cy="141.43" rx="5.38" ry="5.52" fill="#fff" stroke="#000" stroke-width="1.15"/><ellipse cx="1054.82" cy="141.59" rx="5.38" ry="5.52" fill="#fff" stroke="#000" stroke-width="1.15"/><ellipse cx="1056.96" cy="142.02" rx="5.38" ry="5.52" fill="#fff" stroke="#000" stroke-width="1.15"/><ellipse cx="1059.1" cy="141.71" rx="5.38" ry="5.52" fill="#fff" stroke="#000" stroke-width="1.15"/><ellipse cx="1061.24" cy="142" rx="5.38" ry="5.52" fill="#fff" stroke="#000" stroke-width="1.15"/><ellipse cx="1063.39" cy="141.54" rx="5.38" ry="5.52" fill="#fff" stroke="#000" stroke-width="1.15"/><ellipse cx="1065.53" cy="141.95" rx="5.38" ry="5.52" fill="#fff" stroke="#000" stroke-width="1.15"/><ellipse cx="1067.67" cy="142.23" rx="5.38" ry="5.52" fill="#fff" stroke="#000" stroke-width="1.15"/><ellipse cx="1069.81" cy="141.98" rx="5.38" ry="5.52" fill="#fff" stroke="#000" stroke-width="1.15"/><ellipse cx="1071.95" cy="141.11" rx="5.38" ry="5.52" fill="#fff" stroke="#000" stroke-width="1.15"/><ellipse cx="1074.09" cy="142.11" rx="5.38" ry="5.52" fill="#fff" stroke="#000" stroke-width="1.15"/><ellipse cx="1076.23" cy="141.91" rx="5.38" ry="5.52" fill="#fff" stroke="#000" stroke-width="1.15"/><ellipse cx="1078.37" cy="141.58" rx="5.38" ry="5.52" fill="#fff" stroke="#000" stroke-width="1.15"/><ellipse cx="1080.51" cy="142.39" rx="5.38" ry="5.52" fill="#fff" stroke="#000" stroke-width="1.15"/><ellipse cx="1082.65" cy="141.31" rx="5.38" ry="5.52" fill="#fff" stroke="#000" stroke-width="1.15"/><ellipse cx="1084.8" cy="142.58" rx="5.38" ry="5.52" fill="#fff" stroke="#000" stroke-width="1.15"/><ellipse cx="1086.94" cy="141.71" rx="5.38" ry="5.52" fill="#fff" stroke="#000" stroke-width="1.15"/><ellipse cx="1089.08" cy="142.49" rx="5.38" ry="5.52" fill="#fff" stroke="#000" stroke-width="1.15"/><ellipse cx="1091.22" cy="141.93" rx="5.38" ry="5.52" fill="#fff" stroke="#000" stroke-width="1.15"/><ellipse cx="1093.36" cy="141.49" rx="5.38" ry="5.52" fill="#fff" stroke="#000" stroke-width="1.15"/><ellipse cx="1095.5" cy="142" rx="5.38" ry="5.52" fill="#fff" stroke="#000" stroke-width="1.15"/><ellipse cx="1097.64" cy="142.09" rx="5.38" ry="5.52" fill="#fff" stroke="#000" stroke-width="1.15"/><ellipse cx="1099.78" cy="142.17" rx="5.38" ry="5.52" fill="#fff" stroke="#000" stroke-width="1.15"/><ellipse cx="1101.92" cy="142.36" rx="5.38" ry="5.52" fill="#fff" stroke="#000" stroke-width="1.15"/><ellipse cx="1104.07" cy="141.68" rx="5.38" ry="5.52" fill="#fff" stroke="#000" stroke-width="1.15"/><ellipse cx="1106.21" cy="142.18" rx="5.38" ry="5.52" fill="#fff" stroke="#000" stroke-width="1.15"/><ellipse cx="1108.35" cy="142.27" rx="5.38" ry="5.52" fill="#fff" stroke="#000" stroke-width="1.15"/><ellipse cx="1110.49" cy="141.93" rx="5.38" ry="5.52" fill="#fff" stroke="#000" stroke-width="1.15"/><ellipse cx="1112.63" cy="141.7" rx="5.38" ry="5.52" fill="#fff" stroke="#000" stroke-width="1.15"/><ellipse cx="1114.77" cy="141.7" rx="5.38" ry="5.52" fill="#fff" stroke="#000" stroke-width="1.15"/><ellipse cx="1116.91" cy="142.31" rx="5.38" ry="5.52" fill="#fff" stroke="#000" stroke-width="1.15"/><ellipse cx="1119.05" cy="142.33" rx="5.38" ry="5.52" fill="#fff" stroke="#000" stroke-width="1.15"/><ellipse cx="1121.19" cy="141.77" rx="5.38" ry="5.52" fill="#fff" stroke="#000" stroke-width="1.15"/><ellipse cx="1123.33" cy="141.6" rx="5.38" ry="5.52" fill="#fff" stroke="#000" stroke-width="1.15"/><ellipse cx="1125.47" cy="142.51" rx="5.38" ry="5.52" fill="#fff" stroke="#000" stroke-width="1.15"/><ellipse cx="1127.62" cy="141.49" rx="5.38" ry="5.52" fill="#fff" stroke="#000" stroke-width="1.15"/><ellipse cx="1129.76" cy="142.01" rx="5.38" ry="5.52" fill="#fff" stroke="#000" stroke-width="1.15"/><ellipse cx="1131.9" cy="141.6" rx="5.38" ry="5.52" fill="#fff" stroke="#000" stroke-width="1.15"/><ellipse cx="1134.04" cy="141.2" rx="5.38" ry="5.52" fill="#fff" stroke="#000" stroke-width="1.15"/><ellipse cx="1136.18" cy="141.78" rx="5.38" ry="5.52" fill="#fff" stroke="#000" stroke-width="1.15"/><ellipse cx="1138.32" cy="141.6" rx="5.38" ry="5.52" fill="#fff" stroke="#000" stroke-width="1.15"/><ellipse cx="1140.46" cy="142.1" rx="5.38" ry="5.52" fill="#fff" stroke="#000" stroke-width="1.15"/><ellipse cx="1142.6" cy="142.32" rx="5.38" ry="5.52" fill="#fff" stroke="#000" stroke-width="1.15"/><ellipse cx="1144.74" cy="141.39" rx="5.38" ry="5.52" fill="#fff" stroke="#000" stroke-width="1.15"/><ellipse cx="1146.88" cy="141.74" rx="5.38" ry="5.52" fill="#fff" stroke="#000" stroke-width="1.15"/><ellipse cx="1149.03" cy="141.68" rx="5.38" ry="5.52" fill="#fff" stroke="#000" stroke-width="1.15"/><ellipse cx="1151.17" cy="141.06" rx="5.38" ry="5.52" fill="#fff" stroke="#000" stroke-width="1.15"/><ellipse cx="1153.31" cy="140.87" rx="5.38" ry="5.52" fill="#fff" stroke="#000" stroke-width="1.15"/><ellipse cx="1155.45" cy="141.66" rx="5.38" ry="5.52" fill="#fff" stroke="#000" stroke-width="1.15"/><ellipse cx="1157.59" cy="140.9" rx="5.38" ry="5.52" fill="#fff" stroke="#000" stroke-width="1.15"/><ellipse cx="1159.73" cy="140.95" rx="5.38" ry="5.52" fill="#fff" stroke="#000" stroke-width="1.15"/><ellipse cx="1161.87" cy="140.78" rx="5.38" ry="5.52" fill="#fff" stroke="#000" stroke-width="1.15"/><ellipse cx="1164.01" cy="140.77" rx="5.38" ry="5.52" fill="#fff" stroke="#000" stroke-width="1.15"/><ellipse cx="1166.15" cy="140.53" rx="5.38" ry="5.52" fill="#fff" stroke="#000" stroke-width="1.15"/><ellipse cx="1168.3" cy="140.93" rx="5.38" ry="5.52" fill="#fff" stroke="#000" stroke-width="1.15"/><ellipse cx="1170.44" cy="141.04" rx="5.38" ry="5.52" fill="#fff" stroke="#000" stroke-width="1.15"/><ellipse cx="1172.58" cy="140.4" rx="5.38" ry="5.52" fill="#fff" stroke="#000" stroke-width="1.15"/><ellipse cx="1174.72" cy="139.98" rx="5.38" ry="5.52" fill="#fff" stroke="#000" stroke-width="1.15"/><ellipse cx="1176.86" cy="140.4" rx="5.38" ry="5.52" fill="#fff" stroke="#000" stroke-width="1.15"/><ellipse cx="1179" cy="139.8" rx="5.38" ry="5.52" fill="#fff" stroke="#000" stroke-width="1.15"/><ellipse cx="1181.14" cy="140.02" rx="5.38" ry="5.52" fill="#fff" stroke="#000" stroke-width="1.15"/><ellipse cx="1183.28" cy="140.6" rx="5.38" ry="5.52" fill="#fff" stroke="#000" stroke-width="1.15"/><ellipse cx="1185.42" cy="140.89" rx="5.38" ry="5.52" fill="#fff" stroke="#000" stroke-width="1.15"/><ellipse cx="1187.56" cy="140.13" rx="5.38" ry="5.52" fill="#fff" stroke="#000" stroke-width="1.15"/><ellipse cx="1189.7" cy="139.54" rx="5.38" ry="5.52" fill="#fff" stroke="#000" stroke-width="1.15"/><ellipse cx="1191.85" cy="140.1" rx="5.38" ry="5.52" fill="#fff" stroke="#000" stroke-width="1.15"/><ellipse cx="1193.99" cy="138.95" rx="5.38" ry="5.52" fill="#fff" stroke="#000" stroke-width="1.15"/><ellipse cx="1196.13" cy="139.41" rx="5.38" ry="5.52" fill="#fff" stroke="#000" stroke-width="1.15"/><ellipse cx="1198.27" cy="140.09" rx="5.38" ry="5.52" fill="#fff" stroke="#000" stroke-width="1.15"/><ellipse cx="1200.41" cy="139.74" rx="5.38" ry="5.52" fill="#fff" stroke="#000" stroke-width="1.15"/><ellipse cx="1202.55" cy="138.91" rx="5.38" ry="5.52" fill="#fff" stroke="#000" stroke-width="1.15"/><ellipse cx="1204.69" cy="138.73" rx="5.38" ry="5.52" fill="#fff" stroke="#000" stroke-width="1.15"/><ellipse cx="1206.83" cy="139.52" rx="5.38" ry="5.52" fill="#fff" stroke="#000" stroke-width="1.15"/><ellipse cx="1208.97" cy="139.12" rx="5.38" ry="5.52" fill="#fff" stroke="#000" stroke-width="1.15"/><ellipse cx="1211.12" cy="138.84" rx="5.38" ry="5.52" fill="#fff" stroke="#000" stroke-width="1.15"/><ellipse cx="1213.26" cy="139.1" rx="5.38" ry="5.52" fill="#fff" stroke="#000" stroke-width="1.15"/><ellipse cx="1215.4" cy="138.67" rx="5.38" ry="5.52" fill="#fff" stroke="#000" stroke-width="1.15"/><ellipse cx="1217.54" cy="138.12" rx="5.38" ry="5.52" fill="#fff" stroke="#000" stroke-width="1.15"/><ellipse cx="1219.68" cy="138.98" rx="5.38" ry="5.52" fill="#fff" stroke="#000" stroke-width="1.15"/><ellipse cx="1221.82" cy="138.39" rx="5.38" ry="5.52" fill="#fff" stroke="#000" stroke-width="1.15"/><ellipse cx="1223.96" cy="138.18" rx="5.38" ry="5.52" fill="#fff" stroke="#000" stroke-width="1.15"/><ellipse cx="1226.1" cy="137.98" rx="5.38" ry="5.52" fill="#fff" stroke="#000" stroke-width="1.15"/><ellipse cx="1228.24" cy="138.44" rx="5.38" ry="5.52" fill="#fff" stroke="#000" stroke-width="1.15"/><ellipse cx="1230.38" cy="137.99" rx="5.38" ry="5.52" fill="#fff" stroke="#000" stroke-width="1.15"/><ellipse cx="1232.53" cy="138.4" rx="5.38" ry="5.52" fill="#fff" stroke="#000" stroke-width="1.15"/><ellipse cx="1234.67" cy="138" rx="5.38" ry="5.52" fill="#fff" stroke="#000" stroke-width="1.15"/><ellipse cx="1236.81" cy="138.39" rx="5.38" ry="5.52" fill="#fff" stroke="#000" stroke-width="1.15"/><ellipse cx="1238.95" cy="137.79" rx="5.38" ry="5.52" fill="#fff" stroke="#000" stroke-width="1.15"/><ellipse cx="1241.09" cy="137.56" rx="5.38" ry="5.52" fill="#fff" stroke="#000" stroke-width="1.15"/><ellipse cx="1243.23" cy="136.92" rx="5.38" ry="5.52" fill="#fff" stroke="#000" stroke-width="1.15"/><ellipse cx="1245.37" cy="137.03" rx="5.38" ry="5.52" fill="#fff" stroke="#000" stroke-width="1.15"/><ellipse cx="1247.51" cy="137.48" rx="5.38" ry="5.52" fill="#fff" stroke="#000" stroke-width="1.15"/><ellipse cx="1249.65" cy="138.11" rx="5.38" ry="5.52" fill="#fff" stroke="#000" stroke-width="1.15"/><ellipse cx="1251.79" cy="136.43" rx="5.38" ry="5.52" fill="#fff" stroke="#000" stroke-width="1.15"/><ellipse cx="1253.93" cy="136.32" rx="5.38" ry="5.52" fill="#fff" stroke="#000" stroke-width="1.15"/><ellipse cx="1256.08" cy="136.61" rx="5.38" ry="5.52" fill="#fff" stroke="#000" stroke-width="1.15"/><ellipse cx="1258.22" cy="136.48" rx="5.38" ry="5.52" fill="#fff" stroke="#000" stroke-width="1.15"/><ellipse cx="1260.36" cy="135.89" rx="5.38" ry="5.52" fill="#fff" stroke="#000" stroke-width="1.15"/><ellipse cx="1262.5" cy="135.97" rx="5.38" ry="5.52" fill="#fff" stroke="#000" stroke-width="1.15"/><ellipse cx="1264.64" cy="135.2" rx="5.38" ry="5.52" fill="#fff" stroke="#000" stroke-width="1.15"/><ellipse cx="1266.78" cy="135.47" rx="5.38" ry="5.52" fill="#fff" stroke="#000" stroke-width="1.15"/><ellipse cx="1268.92" cy="135.7" rx="5.38" ry="5.52" fill="#fff" stroke="#000" stroke-width="1.15"/><ellipse cx="1271.06" cy="135.63" rx="5.38" ry="5.52" fill="#fff" stroke="#000" stroke-width="1.15"/><ellipse cx="1273.2" cy="134.67" rx="5.38" ry="5.52" fill="#fff" stroke="#000" stroke-width="1.15"/><ellipse cx="1275.34" cy="134.3" rx="5.38" ry="5.52" fill="#fff" stroke="#000" stroke-width="1.15"/><ellipse cx="1277.49" cy="134.21" rx="5.38" ry="5.52" fill="#fff" stroke="#000" stroke-width="1.15"/><ellipse cx="1279.63" cy="134.11" rx="5.38" ry="5.52" fill="#fff" stroke="#000" stroke-width="1.15"/><ellipse cx="1281.77" cy="133.56" rx="5.38" ry="5.52" fill="#fff" stroke="#000" stroke-width="1.15"/><ellipse cx="1283.91" cy="132.79" rx="5.38" ry="5.52" fill="#fff" stroke="#000" stroke-width="1.15"/><ellipse cx="1286.05" cy="133" rx="5.38" ry="5.52" fill="#fff" stroke="#000" stroke-width="1.15"/><ellipse cx="753.6" cy="352" rx="5.95" ry="6.1" fill="#00857f"/><ellipse cx="755.5" cy="332.7" rx="5.95" ry="6.1" fill="#00857f"/><ellipse cx="757.5" cy="325.53" rx="5.95" ry="6.1" fill="#00857f"/><ellipse cx="759.5" cy="323.91" rx="5.95" ry="6.1" fill="#00857f"/><ellipse cx="761.5" cy="322.35" rx="5.95" ry="6.1" fill="#00857f"/><ellipse cx="763.6" cy="323.91" rx="5.95" ry="6.1" fill="#00857f"/><ellipse cx="765.5" cy="328.97" rx="5.95" ry="6.1" fill="#00857f"/><ellipse cx="767" cy="339" rx="5.95" ry="6.1" fill="#00857f"/><ellipse cx="768.5" cy="334.7" rx="5.95" ry="6.1" fill="#00857f"/><ellipse cx="770.4" cy="343.77" rx="5.95" ry="6.1" fill="#00857f"/><ellipse cx="772.5" cy="346.37" rx="5.95" ry="6.1" fill="#00857f"/><ellipse cx="775" cy="346.37" rx="5.95" ry="6.1" fill="#00857f"/><ellipse cx="778.9" cy="330.79" rx="5.95" ry="6.1" fill="#00857f"/><ellipse cx="780.6" cy="346.37" rx="5.95" ry="6.1" fill="#00857f"/><ellipse cx="783" cy="349.14" rx="5.95" ry="6.1" fill="#00857f"/><ellipse cx="785" cy="346.37" rx="5.95" ry="6.1" fill="#00857f"/><ellipse cx="787.4" cy="346.37" rx="5.95" ry="6.1" fill="#00857f"/><ellipse cx="789" cy="358.72" rx="5.95" ry="6.1" fill="#00857f"/><ellipse cx="793" cy="355.29" rx="5.95" ry="6.1" fill="#00857f"/><ellipse cx="795.8" cy="346.37" rx="5.95" ry="6.1" fill="#00857f"/><ellipse cx="891.8" cy="465.4" rx="5.95" ry="6.1" fill="#00857f"/><ellipse cx="903" cy="465.4" rx="5.95" ry="6.1" fill="#00857f"/><ellipse cx="918.2" cy="465.4" rx="5.95" ry="6.1" fill="#00857f"/><ellipse cx="927.1" cy="465.4" rx="5.95" ry="6.1" fill="#00857f"/><ellipse cx="960" cy="465.4" rx="5.95" ry="6.1" fill="#00857f"/><ellipse cx="964.3" cy="465.4" rx="5.95" ry="6.1" fill="#00857f"/><ellipse cx="968.6" cy="465.4" rx="5.95" ry="6.1" fill="#00857f"/><ellipse cx="978.9" cy="465.4" rx="5.95" ry="6.1" fill="#00857f"/><ellipse cx="1003" cy="465.4" rx="5.95" ry="6.1" fill="#00857f"/><ellipse cx="1012" cy="465.4" rx="5.95" ry="6.1" fill="#00857f"/><ellipse cx="1020" cy="465.4" rx="5.95" ry="6.1" fill="#00857f"/><ellipse cx="1027" cy="465.4" rx="5.95" ry="6.1" fill="#00857f"/><ellipse cx="1129.3" cy="465.4" rx="5.95" ry="6.1" fill="#00857f"/><ellipse cx="1155" cy="465.4" rx="5.95" ry="6.1" fill="#00857f"/><ellipse cx="1165.9" cy="465.4" rx="5.95" ry="6.1" fill="#00857f"/><ellipse cx="1186.4" cy="465.4" rx="5.95" ry="6.1" fill="#00857f"/><ellipse cx="1193.6" cy="465.4" rx="5.95" ry="6.1" fill="#00857f"/><ellipse cx="1211.6" cy="465.4" rx="5.95" ry="6.1" fill="#00857f"/><ellipse cx="1220.7" cy="465.4" rx="5.95" ry="6.1" fill="#00857f"/><ellipse cx="1235" cy="465.4" rx="5.95" ry="6.1" fill="#00857f"/><ellipse cx="1242" cy="465.4" rx="5.95" ry="6.1" fill="#00857f"/><ellipse cx="1262" cy="465.4" rx="5.95" ry="6.1" fill="#00857f"/><ellipse cx="1272" cy="465.4" rx="5.95" ry="6.1" fill="#00857f"/><ellipse cx="1278" cy="465.4" rx="5.95" ry="6.1" fill="#00857f"/><ellipse cx="1284" cy="465.4" rx="5.95" ry="6.1" fill="#00857f"/><ellipse cx="853.5" cy="435.64" rx="5.95" ry="6.1" fill="#00857f"/><ellipse cx="862" cy="435.64" rx="5.95" ry="6.1" fill="#00857f"/><ellipse cx="868.7" cy="435.64" rx="5.95" ry="6.1" fill="#00857f"/><ellipse cx="889.1" cy="435.64" rx="5.95" ry="6.1" fill="#00857f"/><ellipse cx="899.2" cy="435.64" rx="5.95" ry="6.1" fill="#00857f"/><ellipse cx="909.4" cy="435.64" rx="5.95" ry="6.1" fill="#00857f"/><ellipse cx="930" cy="435.64" rx="5.95" ry="6.1" fill="#00857f"/><ellipse cx="935" cy="435.64" rx="5.95" ry="6.1" fill="#00857f"/><ellipse cx="941" cy="435.64" rx="5.95" ry="6.1" fill="#00857f"/><ellipse cx="947" cy="435.64" rx="5.95" ry="6.1" fill="#00857f"/><ellipse cx="953" cy="435.64" rx="5.95" ry="6.1" fill="#00857f"/><ellipse cx="958" cy="435.64" rx="5.95" ry="6.1" fill="#00857f"/><ellipse cx="1003.6" cy="435.64" rx="5.95" ry="6.1" fill="#00857f"/><ellipse cx="1021" cy="435.64" rx="5.95" ry="6.1" fill="#00857f"/><ellipse cx="1027" cy="435.64" rx="5.95" ry="6.1" fill="#00857f"/><ellipse cx="1033" cy="435.64" rx="5.95" ry="6.1" fill="#00857f"/><ellipse cx="1038" cy="435.64" rx="5.95" ry="6.1" fill="#00857f"/><ellipse cx="1052" cy="435.64" rx="5.95" ry="6.1" fill="#00857f"/><ellipse cx="1068" cy="435.64" rx="5.95" ry="6.1" fill="#00857f"/><ellipse cx="1075" cy="435.64" rx="5.95" ry="6.1" fill="#00857f"/><ellipse cx="1083" cy="435.64" rx="5.95" ry="6.1" fill="#00857f"/><ellipse cx="1090" cy="435.64" rx="5.95" ry="6.1" fill="#00857f"/><ellipse cx="1098" cy="435.64" rx="5.95" ry="6.1" fill="#00857f"/><ellipse cx="1113.6" cy="435.64" rx="5.95" ry="6.1" fill="#00857f"/><ellipse cx="1135" cy="435.64" rx="5.95" ry="6.1" fill="#00857f"/><ellipse cx="1141" cy="435.64" rx="5.95" ry="6.1" fill="#00857f"/><ellipse cx="1157" cy="435.64" rx="5.95" ry="6.1" fill="#00857f"/><ellipse cx="1163" cy="435.64" rx="5.95" ry="6.1" fill="#00857f"/><ellipse cx="1169" cy="435.64" rx="5.95" ry="6.1" fill="#00857f"/><ellipse cx="1175" cy="435.64" rx="5.95" ry="6.1" fill="#00857f"/><ellipse cx="1181" cy="435.64" rx="5.95" ry="6.1" fill="#00857f"/><ellipse cx="1186" cy="435.64" rx="5.95" ry="6.1" fill="#00857f"/><ellipse cx="1195" cy="435.64" rx="5.95" ry="6.1" fill="#00857f"/><ellipse cx="1205" cy="435.64" rx="5.95" ry="6.1" fill="#00857f"/><ellipse cx="1222" cy="435.64" rx="5.95" ry="6.1" fill="#00857f"/><ellipse cx="1233.6" cy="435.64" rx="5.95" ry="6.1" fill="#00857f"/><ellipse cx="1258" cy="435.64" rx="5.95" ry="6.1" fill="#00857f"/><ellipse cx="1264" cy="435.64" rx="5.95" ry="6.1" fill="#00857f"/><ellipse cx="1270" cy="435.64" rx="5.95" ry="6.1" fill="#00857f"/><ellipse cx="834.8" cy="418.24" rx="5.95" ry="6.1" fill="#00857f"/><ellipse cx="845" cy="418.24" rx="5.95" ry="6.1" fill="#00857f"/><ellipse cx="850.1" cy="418.24" rx="5.95" ry="6.1" fill="#00857f"/><ellipse cx="862" cy="418.24" rx="5.95" ry="6.1" fill="#00857f"/><ellipse cx="872.1" cy="418.24" rx="5.95" ry="6.1" fill="#00857f"/><ellipse cx="882.3" cy="418.24" rx="5.95" ry="6.1" fill="#00857f"/><ellipse cx="889.1" cy="418.24" rx="5.95" ry="6.1" fill="#00857f"/><ellipse cx="904.3" cy="418.24" rx="5.95" ry="6.1" fill="#00857f"/><ellipse cx="912.8" cy="418.24" rx="5.95" ry="6.1" fill="#00857f"/><ellipse cx="917" cy="418.24" rx="5.95" ry="6.1" fill="#00857f"/><ellipse cx="923" cy="418.24" rx="5.95" ry="6.1" fill="#00857f"/><ellipse cx="930" cy="418.24" rx="5.95" ry="6.1" fill="#00857f"/><ellipse cx="982" cy="418.24" rx="5.95" ry="6.1" fill="#00857f"/><ellipse cx="988" cy="418.24" rx="5.95" ry="6.1" fill="#00857f"/><ellipse cx="994" cy="418.24" rx="5.95" ry="6.1" fill="#00857f"/><ellipse cx="1000" cy="418.24" rx="5.95" ry="6.1" fill="#00857f"/><ellipse cx="1006" cy="418.24" rx="5.95" ry="6.1" fill="#00857f"/><ellipse cx="1012" cy="418.24" rx="5.95" ry="6.1" fill="#00857f"/><ellipse cx="1018" cy="418.24" rx="5.95" ry="6.1" fill="#00857f"/><ellipse cx="1024" cy="418.24" rx="5.95" ry="6.1" fill="#00857f"/><ellipse cx="1060" cy="418.24" rx="5.95" ry="6.1" fill="#00857f"/><ellipse cx="1066" cy="418.24" rx="5.95" ry="6.1" fill="#00857f"/><ellipse cx="1072" cy="418.24" rx="5.95" ry="6.1" fill="#00857f"/><ellipse cx="1078" cy="418.24" rx="5.95" ry="6.1" fill="#00857f"/><ellipse cx="1084" cy="418.24" rx="5.95" ry="6.1" fill="#00857f"/><ellipse cx="1095" cy="418.24" rx="5.95" ry="6.1" fill="#00857f"/><ellipse cx="1110.7" cy="418.24" rx="5.95" ry="6.1" fill="#00857f"/><ellipse cx="1126" cy="418.24" rx="5.95" ry="6.1" fill="#00857f"/><ellipse cx="1133" cy="418.24" rx="5.95" ry="6.1" fill="#00857f"/><ellipse cx="1180.7" cy="418.24" rx="5.95" ry="6.1" fill="#00857f"/><ellipse cx="1186.4" cy="418.24" rx="5.95" ry="6.1" fill="#00857f"/><ellipse cx="1198" cy="418.24" rx="5.95" ry="6.1" fill="#00857f"/><ellipse cx="1205" cy="418.24" rx="5.95" ry="6.1" fill="#00857f"/><ellipse cx="1212" cy="418.24" rx="5.95" ry="6.1" fill="#00857f"/><ellipse cx="1219" cy="418.24" rx="5.95" ry="6.1" fill="#00857f"/><ellipse cx="1248" cy="418.24" rx="5.95" ry="6.1" fill="#00857f"/><ellipse cx="1254" cy="418.24" rx="5.95" ry="6.1" fill="#00857f"/><ellipse cx="1260" cy="418.24" rx="5.95" ry="6.1" fill="#00857f"/><ellipse cx="1266" cy="418.24" rx="5.95" ry="6.1" fill="#00857f"/><ellipse cx="809.4" cy="405.89" rx="5.95" ry="6.1" fill="#00857f"/><ellipse cx="817.9" cy="405.89" rx="5.95" ry="6.1" fill="#00857f"/><ellipse cx="826.4" cy="405.89" rx="5.95" ry="6.1" fill="#00857f"/><ellipse cx="834.8" cy="405.89" rx="5.95" ry="6.1" fill="#00857f"/><ellipse cx="843.3" cy="405.89" rx="5.95" ry="6.1" fill="#00857f"/><ellipse cx="858.6" cy="405.89" rx="5.95" ry="6.1" fill="#00857f"/><ellipse cx="867" cy="405.89" rx="5.95" ry="6.1" fill="#00857f"/><ellipse cx="875.5" cy="405.89" rx="5.95" ry="6.1" fill="#00857f"/><ellipse cx="880.6" cy="405.89" rx="5.95" ry="6.1" fill="#00857f"/><ellipse cx="923" cy="405.89" rx="5.95" ry="6.1" fill="#00857f"/><ellipse cx="930" cy="405.89" rx="5.95" ry="6.1" fill="#00857f"/><ellipse cx="996" cy="405.89" rx="5.95" ry="6.1" fill="#00857f"/><ellipse cx="1029" cy="405.89" rx="5.95" ry="6.1" fill="#00857f"/><ellipse cx="1075" cy="405.89" rx="5.95" ry="6.1" fill="#00857f"/><ellipse cx="1095" cy="405.89" rx="5.95" ry="6.1" fill="#00857f"/><ellipse cx="1101" cy="405.89" rx="5.95" ry="6.1" fill="#00857f"/><ellipse cx="1145" cy="405.89" rx="5.95" ry="6.1" fill="#00857f"/><ellipse cx="1151" cy="405.89" rx="5.95" ry="6.1" fill="#00857f"/><ellipse cx="1157" cy="405.89" rx="5.95" ry="6.1" fill="#00857f"/><ellipse cx="1167" cy="405.89" rx="5.95" ry="6.1" fill="#00857f"/><ellipse cx="1173" cy="405.89" rx="5.95" ry="6.1" fill="#00857f"/><ellipse cx="1179" cy="405.89" rx="5.95" ry="6.1" fill="#00857f"/><ellipse cx="1193.6" cy="405.89" rx="5.95" ry="6.1" fill="#00857f"/><ellipse cx="1229" cy="405.89" rx="5.95" ry="6.1" fill="#00857f"/><ellipse cx="1236" cy="405.89" rx="5.95" ry="6.1" fill="#00857f"/><ellipse cx="1242" cy="405.89" rx="5.95" ry="6.1" fill="#00857f"/><ellipse cx="1249" cy="405.89" rx="5.95" ry="6.1" fill="#00857f"/><ellipse cx="802.6" cy="396.31" rx="5.95" ry="6.1" fill="#00857f"/><ellipse cx="836.5" cy="396.31" rx="5.95" ry="6.1" fill="#00857f"/><ellipse cx="870.4" cy="396.31" rx="5.95" ry="6.1" fill="#00857f"/><ellipse cx="895.8" cy="396.31" rx="5.95" ry="6.1" fill="#00857f"/><ellipse cx="904.3" cy="396.31" rx="5.95" ry="6.1" fill="#00857f"/><ellipse cx="911.1" cy="396.31" rx="5.95" ry="6.1" fill="#00857f"/><ellipse cx="917.9" cy="396.31" rx="5.95" ry="6.1" fill="#00857f"/><ellipse cx="921" cy="396.31" rx="5.95" ry="6.1" fill="#00857f"/><ellipse cx="982" cy="396.31" rx="5.95" ry="6.1" fill="#00857f"/><ellipse cx="988" cy="396.31" rx="5.95" ry="6.1" fill="#00857f"/><ellipse cx="1055" cy="396.31" rx="5.95" ry="6.1" fill="#00857f"/><ellipse cx="1093.6" cy="396.31" rx="5.95" ry="6.1" fill="#00857f"/><ellipse cx="1107.9" cy="396.31" rx="5.95" ry="6.1" fill="#00857f"/><ellipse cx="1130.7" cy="396.31" rx="5.95" ry="6.1" fill="#00857f"/><ellipse cx="1142" cy="396.31" rx="5.95" ry="6.1" fill="#00857f"/><ellipse cx="1169.3" cy="396.31" rx="5.95" ry="6.1" fill="#00857f"/><ellipse cx="1224" cy="396.31" rx="5.95" ry="6.1" fill="#00857f"/><ellipse cx="1231" cy="396.31" rx="5.95" ry="6.1" fill="#00857f"/><ellipse cx="1238" cy="396.31" rx="5.95" ry="6.1" fill="#00857f"/><ellipse cx="1243" cy="396.31" rx="5.95" ry="6.1" fill="#00857f"/><ellipse cx="807.7" cy="388.48" rx="5.95" ry="6.1" fill="#00857f"/><ellipse cx="845" cy="388.48" rx="5.95" ry="6.1" fill="#00857f"/><ellipse cx="853.5" cy="388.48" rx="5.95" ry="6.1" fill="#00857f"/><ellipse cx="892.5" cy="388.48" rx="5.95" ry="6.1" fill="#00857f"/><ellipse cx="937.9" cy="388.48" rx="5.95" ry="6.1" fill="#00857f"/><ellipse cx="1066" cy="388.48" rx="5.95" ry="6.1" fill="#00857f"/><ellipse cx="1100.7" cy="388.48" rx="5.95" ry="6.1" fill="#00857f"/><ellipse cx="1103.6" cy="388.48" rx="5.95" ry="6.1" fill="#00857f"/><ellipse cx="812.8" cy="381.86" rx="5.95" ry="6.1" fill="#00857f"/><ellipse cx="824.7" cy="381.86" rx="5.95" ry="6.1" fill="#00857f"/><ellipse cx="875.5" cy="381.86" rx="5.95" ry="6.1" fill="#00857f"/><ellipse cx="1102" cy="381.86" rx="5.95" ry="6.1" fill="#00857f"/><ellipse cx="831.4" cy="376.13" rx="5.95" ry="6.1" fill="#00857f"/><ellipse cx="846.7" cy="376.13" rx="5.95" ry="6.1" fill="#00857f"/><ellipse cx="1069" cy="376.13" rx="5.95" ry="6.1" fill="#00857f"/><ellipse cx="814.5" cy="376.13" rx="5.95" ry="6.1" fill="#00857f"/><ellipse cx="829.5" cy="376.13" rx="5.95" ry="6.1" fill="#00857f"/><ellipse cx="801" cy="371.07" rx="5.95" ry="6.1" fill="#00857f"/><ellipse cx="804" cy="371.07" rx="5.95" ry="6.1" fill="#00857f"/><ellipse cx="806" cy="371.07" rx="5.95" ry="6.1" fill="#00857f"/><ellipse cx="819.5" cy="371.07" rx="5.95" ry="6.1" fill="#00857f"/><ellipse cx="799.2" cy="366.55" rx="5.95" ry="6.1" fill="#00857f"/><ellipse cx="821" cy="366.55" rx="5.95" ry="6.1" fill="#00857f"/><ellipse cx="823" cy="366.55" rx="5.95" ry="6.1" fill="#00857f"/><ellipse cx="777.2" cy="362.46" rx="5.95" ry="6.1" fill="#00857f"/><ellipse cx="791" cy="362.46" rx="5.95" ry="6.1" fill="#00857f"/><ellipse cx="797.5" cy="362.46" rx="5.95" ry="6.1" fill="#00857f"/><ellipse cx="816.2" cy="362.46" rx="5.95" ry="6.1" fill="#00857f"/><ellipse cx="752.94" cy="266.68" rx="5.28" ry="5.42" fill="#fff" stroke="#00857f" stroke-width="1.35"/><ellipse cx="755.08" cy="254.59" rx="5.28" ry="5.42" fill="#fff" stroke="#00857f" stroke-width="1.35"/><ellipse cx="757.22" cy="248.53" rx="5.28" ry="5.42" fill="#fff" stroke="#00857f" stroke-width="1.35"/><ellipse cx="759.36" cy="241" rx="5.28" ry="5.42" fill="#fff" stroke="#00857f" stroke-width="1.35"/><ellipse cx="761.5" cy="239.97" rx="5.28" ry="5.42" fill="#fff" stroke="#00857f" stroke-width="1.35"/><ellipse cx="763.65" cy="237.99" rx="5.28" ry="5.42" fill="#fff" stroke="#00857f" stroke-width="1.35"/><ellipse cx="765.79" cy="239.95" rx="5.28" ry="5.42" fill="#fff" stroke="#00857f" stroke-width="1.35"/><ellipse cx="767.93" cy="247.52" rx="5.28" ry="5.42" fill="#fff" stroke="#00857f" stroke-width="1.35"/><ellipse cx="770.07" cy="250.43" rx="5.28" ry="5.42" fill="#fff" stroke="#00857f" stroke-width="1.35"/><ellipse cx="772.21" cy="252.8" rx="5.28" ry="5.42" fill="#fff" stroke="#00857f" stroke-width="1.35"/><ellipse cx="774.35" cy="256.46" rx="5.28" ry="5.42" fill="#fff" stroke="#00857f" stroke-width="1.35"/><ellipse cx="776.49" cy="260.1" rx="5.28" ry="5.42" fill="#fff" stroke="#00857f" stroke-width="1.35"/><ellipse cx="778.63" cy="264.96" rx="5.28" ry="5.42" fill="#fff" stroke="#00857f" stroke-width="1.35"/><ellipse cx="780.77" cy="273.87" rx="5.28" ry="5.42" fill="#fff" stroke="#00857f" stroke-width="1.35"/><ellipse cx="782.91" cy="277.27" rx="5.28" ry="5.42" fill="#fff" stroke="#00857f" stroke-width="1.35"/><ellipse cx="785.06" cy="283.95" rx="5.28" ry="5.42" fill="#fff" stroke="#00857f" stroke-width="1.35"/><ellipse cx="787.2" cy="283.74" rx="5.28" ry="5.42" fill="#fff" stroke="#00857f" stroke-width="1.35"/><ellipse cx="789.34" cy="287.69" rx="5.28" ry="5.42" fill="#fff" stroke="#00857f" stroke-width="1.35"/><ellipse cx="791.48" cy="293.34" rx="5.28" ry="5.42" fill="#fff" stroke="#00857f" stroke-width="1.35"/><ellipse cx="793.62" cy="289.63" rx="5.28" ry="5.42" fill="#fff" stroke="#00857f" stroke-width="1.35"/><ellipse cx="795.76" cy="308.12" rx="5.28" ry="5.42" fill="#fff" stroke="#00857f" stroke-width="1.35"/><ellipse cx="797.9" cy="301.04" rx="5.28" ry="5.42" fill="#fff" stroke="#00857f" stroke-width="1.35"/><ellipse cx="800.04" cy="297.46" rx="5.28" ry="5.42" fill="#fff" stroke="#00857f" stroke-width="1.35"/><ellipse cx="802.18" cy="293.37" rx="5.28" ry="5.42" fill="#fff" stroke="#00857f" stroke-width="1.35"/><ellipse cx="804.32" cy="307.04" rx="5.28" ry="5.42" fill="#fff" stroke="#00857f" stroke-width="1.35"/><ellipse cx="806.47" cy="312.77" rx="5.28" ry="5.42" fill="#fff" stroke="#00857f" stroke-width="1.35"/><ellipse cx="808.61" cy="308.12" rx="5.28" ry="5.42" fill="#fff" stroke="#00857f" stroke-width="1.35"/><ellipse cx="810.75" cy="307.04" rx="5.28" ry="5.42" fill="#fff" stroke="#00857f" stroke-width="1.35"/><ellipse cx="812.89" cy="319.39" rx="5.28" ry="5.42" fill="#fff" stroke="#00857f" stroke-width="1.35"/><ellipse cx="815.03" cy="309.24" rx="5.28" ry="5.42" fill="#fff" stroke="#00857f" stroke-width="1.35"/><ellipse cx="817.17" cy="308.12" rx="5.28" ry="5.42" fill="#fff" stroke="#00857f" stroke-width="1.35"/><ellipse cx="819.31" cy="315.29" rx="5.28" ry="5.42" fill="#fff" stroke="#00857f" stroke-width="1.35"/><ellipse cx="821.45" cy="328.97" rx="5.28" ry="5.42" fill="#fff" stroke="#00857f" stroke-width="1.35"/><ellipse cx="823.59" cy="311.56" rx="5.28" ry="5.42" fill="#fff" stroke="#00857f" stroke-width="1.35"/><ellipse cx="825.73" cy="323.91" rx="5.28" ry="5.42" fill="#fff" stroke="#00857f" stroke-width="1.35"/><ellipse cx="827.88" cy="316.62" rx="5.28" ry="5.42" fill="#fff" stroke="#00857f" stroke-width="1.35"/><ellipse cx="830.02" cy="334.7" rx="5.28" ry="5.42" fill="#fff" stroke="#00857f" stroke-width="1.35"/><ellipse cx="832.16" cy="339" rx="5.28" ry="5.42" fill="#fff" stroke="#00857f" stroke-width="1.35"/><ellipse cx="834.3" cy="325.53" rx="5.28" ry="5.42" fill="#fff" stroke="#00857f" stroke-width="1.35"/><ellipse cx="836.44" cy="349.14" rx="5.28" ry="5.42" fill="#fff" stroke="#00857f" stroke-width="1.35"/><ellipse cx="838.58" cy="334.7" rx="5.28" ry="5.42" fill="#fff" stroke="#00857f" stroke-width="1.35"/><ellipse cx="840.72" cy="325.53" rx="5.28" ry="5.42" fill="#fff" stroke="#00857f" stroke-width="1.35"/><ellipse cx="842.86" cy="336.79" rx="5.28" ry="5.42" fill="#fff" stroke="#00857f" stroke-width="1.35"/><ellipse cx="845" cy="341.32" rx="5.28" ry="5.42" fill="#fff" stroke="#00857f" stroke-width="1.35"/><ellipse cx="847.14" cy="343.77" rx="5.28" ry="5.42" fill="#fff" stroke="#00857f" stroke-width="1.35"/><ellipse cx="849.29" cy="343.77" rx="5.28" ry="5.42" fill="#fff" stroke="#00857f" stroke-width="1.35"/><ellipse cx="851.43" cy="325.53" rx="5.28" ry="5.42" fill="#fff" stroke="#00857f" stroke-width="1.35"/><ellipse cx="853.57" cy="352.11" rx="5.28" ry="5.42" fill="#fff" stroke="#00857f" stroke-width="1.35"/><ellipse cx="855.71" cy="339" rx="5.28" ry="5.42" fill="#fff" stroke="#00857f" stroke-width="1.35"/><ellipse cx="857.85" cy="346.37" rx="5.28" ry="5.42" fill="#fff" stroke="#00857f" stroke-width="1.35"/><ellipse cx="859.99" cy="339" rx="5.28" ry="5.42" fill="#fff" stroke="#00857f" stroke-width="1.35"/><ellipse cx="862.13" cy="352.11" rx="5.28" ry="5.42" fill="#fff" stroke="#00857f" stroke-width="1.35"/><ellipse cx="864.27" cy="349.14" rx="5.28" ry="5.42" fill="#fff" stroke="#00857f" stroke-width="1.35"/><ellipse cx="866.41" cy="341.32" rx="5.28" ry="5.42" fill="#fff" stroke="#00857f" stroke-width="1.35"/><ellipse cx="868.55" cy="349.14" rx="5.28" ry="5.42" fill="#fff" stroke="#00857f" stroke-width="1.35"/><ellipse cx="870.7" cy="352.11" rx="5.28" ry="5.42" fill="#fff" stroke="#00857f" stroke-width="1.35"/><ellipse cx="872.84" cy="366.55" rx="5.28" ry="5.42" fill="#fff" stroke="#00857f" stroke-width="1.35"/><ellipse cx="874.98" cy="349.14" rx="5.28" ry="5.42" fill="#fff" stroke="#00857f" stroke-width="1.35"/><ellipse cx="877.12" cy="366.55" rx="5.28" ry="5.42" fill="#fff" stroke="#00857f" stroke-width="1.35"/><ellipse cx="879.26" cy="341.32" rx="5.28" ry="5.42" fill="#fff" stroke="#00857f" stroke-width="1.35"/><ellipse cx="881.4" cy="358.72" rx="5.28" ry="5.42" fill="#fff" stroke="#00857f" stroke-width="1.35"/><ellipse cx="883.54" cy="358.72" rx="5.28" ry="5.42" fill="#fff" stroke="#00857f" stroke-width="1.35"/><ellipse cx="885.68" cy="358.72" rx="5.28" ry="5.42" fill="#fff" stroke="#00857f" stroke-width="1.35"/><ellipse cx="887.82" cy="341.32" rx="5.28" ry="5.42" fill="#fff" stroke="#00857f" stroke-width="1.35"/><ellipse cx="889.96" cy="349.14" rx="5.28" ry="5.42" fill="#fff" stroke="#00857f" stroke-width="1.35"/><ellipse cx="892.11" cy="358.72" rx="5.28" ry="5.42" fill="#fff" stroke="#00857f" stroke-width="1.35"/><ellipse cx="894.25" cy="346.37" rx="5.28" ry="5.42" fill="#fff" stroke="#00857f" stroke-width="1.35"/><ellipse cx="896.39" cy="381.86" rx="5.28" ry="5.42" fill="#fff" stroke="#00857f" stroke-width="1.35"/><ellipse cx="898.53" cy="376.13" rx="5.28" ry="5.42" fill="#fff" stroke="#00857f" stroke-width="1.35"/><ellipse cx="900.67" cy="366.55" rx="5.28" ry="5.42" fill="#fff" stroke="#00857f" stroke-width="1.35"/><ellipse cx="902.81" cy="355.29" rx="5.28" ry="5.42" fill="#fff" stroke="#00857f" stroke-width="1.35"/><ellipse cx="904.95" cy="362.46" rx="5.28" ry="5.42" fill="#fff" stroke="#00857f" stroke-width="1.35"/><ellipse cx="907.09" cy="349.14" rx="5.28" ry="5.42" fill="#fff" stroke="#00857f" stroke-width="1.35"/><ellipse cx="909.23" cy="396.31" rx="5.28" ry="5.42" fill="#fff" stroke="#00857f" stroke-width="1.35"/><ellipse cx="911.38" cy="341.32" rx="5.28" ry="5.42" fill="#fff" stroke="#00857f" stroke-width="1.35"/><ellipse cx="913.52" cy="381.86" rx="5.28" ry="5.42" fill="#fff" stroke="#00857f" stroke-width="1.35"/><ellipse cx="915.66" cy="362.46" rx="5.28" ry="5.42" fill="#fff" stroke="#00857f" stroke-width="1.35"/><ellipse cx="917.8" cy="349.14" rx="5.28" ry="5.42" fill="#fff" stroke="#00857f" stroke-width="1.35"/><ellipse cx="919.94" cy="341.32" rx="5.28" ry="5.42" fill="#fff" stroke="#00857f" stroke-width="1.35"/><ellipse cx="922.08" cy="362.46" rx="5.28" ry="5.42" fill="#fff" stroke="#00857f" stroke-width="1.35"/><ellipse cx="924.22" cy="371.07" rx="5.28" ry="5.42" fill="#fff" stroke="#00857f" stroke-width="1.35"/><ellipse cx="926.36" cy="362.46" rx="5.28" ry="5.42" fill="#fff" stroke="#00857f" stroke-width="1.35"/><ellipse cx="928.5" cy="376.13" rx="5.28" ry="5.42" fill="#fff" stroke="#00857f" stroke-width="1.35"/><ellipse cx="930.64" cy="346.37" rx="5.28" ry="5.42" fill="#fff" stroke="#00857f" stroke-width="1.35"/><ellipse cx="932.78" cy="366.55" rx="5.28" ry="5.42" fill="#fff" stroke="#00857f" stroke-width="1.35"/><ellipse cx="934.93" cy="343.77" rx="5.28" ry="5.42" fill="#fff" stroke="#00857f" stroke-width="1.35"/><ellipse cx="937.07" cy="358.72" rx="5.28" ry="5.42" fill="#fff" stroke="#00857f" stroke-width="1.35"/><ellipse cx="939.21" cy="376.13" rx="5.28" ry="5.42" fill="#fff" stroke="#00857f" stroke-width="1.35"/><ellipse cx="941.35" cy="358.72" rx="5.28" ry="5.42" fill="#fff" stroke="#00857f" stroke-width="1.35"/><ellipse cx="943.49" cy="381.86" rx="5.28" ry="5.42" fill="#fff" stroke="#00857f" stroke-width="1.35"/><ellipse cx="945.63" cy="362.46" rx="5.28" ry="5.42" fill="#fff" stroke="#00857f" stroke-width="1.35"/><ellipse cx="947.77" cy="376.13" rx="5.28" ry="5.42" fill="#fff" stroke="#00857f" stroke-width="1.35"/><ellipse cx="949.91" cy="346.37" rx="5.28" ry="5.42" fill="#fff" stroke="#00857f" stroke-width="1.35"/><ellipse cx="952.05" cy="358.72" rx="5.28" ry="5.42" fill="#fff" stroke="#00857f" stroke-width="1.35"/><ellipse cx="954.19" cy="366.55" rx="5.28" ry="5.42" fill="#fff" stroke="#00857f" stroke-width="1.35"/><ellipse cx="956.34" cy="376.13" rx="5.28" ry="5.42" fill="#fff" stroke="#00857f" stroke-width="1.35"/><ellipse cx="958.48" cy="381.86" rx="5.28" ry="5.42" fill="#fff" stroke="#00857f" stroke-width="1.35"/><ellipse cx="960.62" cy="362.46" rx="5.28" ry="5.42" fill="#fff" stroke="#00857f" stroke-width="1.35"/><ellipse cx="962.76" cy="358.72" rx="5.28" ry="5.42" fill="#fff" stroke="#00857f" stroke-width="1.35"/><ellipse cx="964.9" cy="371.07" rx="5.28" ry="5.42" fill="#fff" stroke="#00857f" stroke-width="1.35"/><ellipse cx="967.04" cy="381.86" rx="5.28" ry="5.42" fill="#fff" stroke="#00857f" stroke-width="1.35"/><ellipse cx="969.18" cy="396.31" rx="5.28" ry="5.42" fill="#fff" stroke="#00857f" stroke-width="1.35"/><ellipse cx="971.32" cy="371.07" rx="5.28" ry="5.42" fill="#fff" stroke="#00857f" stroke-width="1.35"/><ellipse cx="973.46" cy="376.13" rx="5.28" ry="5.42" fill="#fff" stroke="#00857f" stroke-width="1.35"/><ellipse cx="975.61" cy="388.48" rx="5.28" ry="5.42" fill="#fff" stroke="#00857f" stroke-width="1.35"/><ellipse cx="977.75" cy="366.55" rx="5.28" ry="5.42" fill="#fff" stroke="#00857f" stroke-width="1.35"/><ellipse cx="979.89" cy="376.13" rx="5.28" ry="5.42" fill="#fff" stroke="#00857f" stroke-width="1.35"/><ellipse cx="982.03" cy="418.24" rx="5.28" ry="5.42" fill="#fff" stroke="#00857f" stroke-width="1.35"/><ellipse cx="984.17" cy="381.86" rx="5.28" ry="5.42" fill="#fff" stroke="#00857f" stroke-width="1.35"/><ellipse cx="986.31" cy="405.89" rx="5.28" ry="5.42" fill="#fff" stroke="#00857f" stroke-width="1.35"/><ellipse cx="988.45" cy="376.13" rx="5.28" ry="5.42" fill="#fff" stroke="#00857f" stroke-width="1.35"/><ellipse cx="990.59" cy="371.07" rx="5.28" ry="5.42" fill="#fff" stroke="#00857f" stroke-width="1.35"/><ellipse cx="992.73" cy="376.13" rx="5.28" ry="5.42" fill="#fff" stroke="#00857f" stroke-width="1.35"/><ellipse cx="994.87" cy="362.46" rx="5.28" ry="5.42" fill="#fff" stroke="#00857f" stroke-width="1.35"/><ellipse cx="997.01" cy="362.46" rx="5.28" ry="5.42" fill="#fff" stroke="#00857f" stroke-width="1.35"/><ellipse cx="999.16" cy="376.13" rx="5.28" ry="5.42" fill="#fff" stroke="#00857f" stroke-width="1.35"/><ellipse cx="1001.3" cy="376.13" rx="5.28" ry="5.42" fill="#fff" stroke="#00857f" stroke-width="1.35"/><ellipse cx="1003.44" cy="366.55" rx="5.28" ry="5.42" fill="#fff" stroke="#00857f" stroke-width="1.35"/><ellipse cx="1005.58" cy="376.13" rx="5.28" ry="5.42" fill="#fff" stroke="#00857f" stroke-width="1.35"/><ellipse cx="1007.72" cy="362.46" rx="5.28" ry="5.42" fill="#fff" stroke="#00857f" stroke-width="1.35"/><ellipse cx="1009.86" cy="376.13" rx="5.28" ry="5.42" fill="#fff" stroke="#00857f" stroke-width="1.35"/><ellipse cx="1012" cy="371.07" rx="5.28" ry="5.42" fill="#fff" stroke="#00857f" stroke-width="1.35"/><ellipse cx="1014.14" cy="396.31" rx="5.28" ry="5.42" fill="#fff" stroke="#00857f" stroke-width="1.35"/><ellipse cx="1016.28" cy="388.48" rx="5.28" ry="5.42" fill="#fff" stroke="#00857f" stroke-width="1.35"/><ellipse cx="1018.42" cy="371.07" rx="5.28" ry="5.42" fill="#fff" stroke="#00857f" stroke-width="1.35"/><ellipse cx="1020.57" cy="376.13" rx="5.28" ry="5.42" fill="#fff" stroke="#00857f" stroke-width="1.35"/><ellipse cx="1022.71" cy="396.31" rx="5.28" ry="5.42" fill="#fff" stroke="#00857f" stroke-width="1.35"/><ellipse cx="1024.85" cy="396.31" rx="5.28" ry="5.42" fill="#fff" stroke="#00857f" stroke-width="1.35"/><ellipse cx="1026.99" cy="381.86" rx="5.28" ry="5.42" fill="#fff" stroke="#00857f" stroke-width="1.35"/><ellipse cx="1029.13" cy="405.89" rx="5.28" ry="5.42" fill="#fff" stroke="#00857f" stroke-width="1.35"/><ellipse cx="1031.27" cy="381.86" rx="5.28" ry="5.42" fill="#fff" stroke="#00857f" stroke-width="1.35"/><ellipse cx="1033.41" cy="371.07" rx="5.28" ry="5.42" fill="#fff" stroke="#00857f" stroke-width="1.35"/><ellipse cx="1035.55" cy="358.72" rx="5.28" ry="5.42" fill="#fff" stroke="#00857f" stroke-width="1.35"/><ellipse cx="1037.69" cy="405.89" rx="5.28" ry="5.42" fill="#fff" stroke="#00857f" stroke-width="1.35"/><ellipse cx="1039.84" cy="381.86" rx="5.28" ry="5.42" fill="#fff" stroke="#00857f" stroke-width="1.35"/><ellipse cx="1041.98" cy="381.86" rx="5.28" ry="5.42" fill="#fff" stroke="#00857f" stroke-width="1.35"/><ellipse cx="1044.12" cy="366.55" rx="5.28" ry="5.42" fill="#fff" stroke="#00857f" stroke-width="1.35"/><ellipse cx="1046.26" cy="396.31" rx="5.28" ry="5.42" fill="#fff" stroke="#00857f" stroke-width="1.35"/><ellipse cx="1048.4" cy="396.31" rx="5.28" ry="5.42" fill="#fff" stroke="#00857f" stroke-width="1.35"/><ellipse cx="1050.54" cy="371.07" rx="5.28" ry="5.42" fill="#fff" stroke="#00857f" stroke-width="1.35"/><ellipse cx="1052.68" cy="381.86" rx="5.28" ry="5.42" fill="#fff" stroke="#00857f" stroke-width="1.35"/><ellipse cx="1054.82" cy="388.48" rx="5.28" ry="5.42" fill="#fff" stroke="#00857f" stroke-width="1.35"/><ellipse cx="1056.96" cy="371.07" rx="5.28" ry="5.42" fill="#fff" stroke="#00857f" stroke-width="1.35"/><ellipse cx="1059.1" cy="405.89" rx="5.28" ry="5.42" fill="#fff" stroke="#00857f" stroke-width="1.35"/><ellipse cx="1061.24" cy="376.13" rx="5.28" ry="5.42" fill="#fff" stroke="#00857f" stroke-width="1.35"/><ellipse cx="1063.39" cy="396.31" rx="5.28" ry="5.42" fill="#fff" stroke="#00857f" stroke-width="1.35"/><ellipse cx="1065.53" cy="388.48" rx="5.28" ry="5.42" fill="#fff" stroke="#00857f" stroke-width="1.35"/><ellipse cx="1067.67" cy="371.07" rx="5.28" ry="5.42" fill="#fff" stroke="#00857f" stroke-width="1.35"/><ellipse cx="1069.81" cy="388.48" rx="5.28" ry="5.42" fill="#fff" stroke="#00857f" stroke-width="1.35"/><ellipse cx="1071.95" cy="366.55" rx="5.28" ry="5.42" fill="#fff" stroke="#00857f" stroke-width="1.35"/><ellipse cx="1074.09" cy="376.13" rx="5.28" ry="5.42" fill="#fff" stroke="#00857f" stroke-width="1.35"/><ellipse cx="1076.23" cy="381.86" rx="5.28" ry="5.42" fill="#fff" stroke="#00857f" stroke-width="1.35"/><ellipse cx="1078.37" cy="371.07" rx="5.28" ry="5.42" fill="#fff" stroke="#00857f" stroke-width="1.35"/><ellipse cx="1080.51" cy="358.72" rx="5.28" ry="5.42" fill="#fff" stroke="#00857f" stroke-width="1.35"/><ellipse cx="1082.65" cy="376.13" rx="5.28" ry="5.42" fill="#fff" stroke="#00857f" stroke-width="1.35"/><ellipse cx="1084.8" cy="376.13" rx="5.28" ry="5.42" fill="#fff" stroke="#00857f" stroke-width="1.35"/><ellipse cx="1086.94" cy="366.55" rx="5.28" ry="5.42" fill="#fff" stroke="#00857f" stroke-width="1.35"/><ellipse cx="1089.08" cy="381.86" rx="5.28" ry="5.42" fill="#fff" stroke="#00857f" stroke-width="1.35"/><ellipse cx="1091.22" cy="435.64" rx="5.28" ry="5.42" fill="#fff" stroke="#00857f" stroke-width="1.35"/><ellipse cx="1093.36" cy="396.31" rx="5.28" ry="5.42" fill="#fff" stroke="#00857f" stroke-width="1.35"/><ellipse cx="1095.5" cy="371.07" rx="5.28" ry="5.42" fill="#fff" stroke="#00857f" stroke-width="1.35"/><ellipse cx="1097.64" cy="396.31" rx="5.28" ry="5.42" fill="#fff" stroke="#00857f" stroke-width="1.35"/><ellipse cx="1099.78" cy="362.46" rx="5.28" ry="5.42" fill="#fff" stroke="#00857f" stroke-width="1.35"/><ellipse cx="1101.92" cy="405.89" rx="5.28" ry="5.42" fill="#fff" stroke="#00857f" stroke-width="1.35"/><ellipse cx="1104.07" cy="376.13" rx="5.28" ry="5.42" fill="#fff" stroke="#00857f" stroke-width="1.35"/><ellipse cx="1106.21" cy="381.86" rx="5.28" ry="5.42" fill="#fff" stroke="#00857f" stroke-width="1.35"/><ellipse cx="1108.35" cy="371.07" rx="5.28" ry="5.42" fill="#fff" stroke="#00857f" stroke-width="1.35"/><ellipse cx="1110.49" cy="405.89" rx="5.28" ry="5.42" fill="#fff" stroke="#00857f" stroke-width="1.35"/><ellipse cx="1112.63" cy="418.24" rx="5.28" ry="5.42" fill="#fff" stroke="#00857f" stroke-width="1.35"/><ellipse cx="1114.77" cy="366.55" rx="5.28" ry="5.42" fill="#fff" stroke="#00857f" stroke-width="1.35"/><ellipse cx="1116.91" cy="366.55" rx="5.28" ry="5.42" fill="#fff" stroke="#00857f" stroke-width="1.35"/><ellipse cx="1119.05" cy="371.07" rx="5.28" ry="5.42" fill="#fff" stroke="#00857f" stroke-width="1.35"/><ellipse cx="1121.19" cy="376.13" rx="5.28" ry="5.42" fill="#fff" stroke="#00857f" stroke-width="1.35"/><ellipse cx="1123.33" cy="396.31" rx="5.28" ry="5.42" fill="#fff" stroke="#00857f" stroke-width="1.35"/><ellipse cx="1125.47" cy="381.86" rx="5.28" ry="5.42" fill="#fff" stroke="#00857f" stroke-width="1.35"/><ellipse cx="1127.62" cy="381.86" rx="5.28" ry="5.42" fill="#fff" stroke="#00857f" stroke-width="1.35"/><ellipse cx="1129.76" cy="418.24" rx="5.28" ry="5.42" fill="#fff" stroke="#00857f" stroke-width="1.35"/><ellipse cx="1131.9" cy="366.55" rx="5.28" ry="5.42" fill="#fff" stroke="#00857f" stroke-width="1.35"/><ellipse cx="1134.04" cy="388.48" rx="5.28" ry="5.42" fill="#fff" stroke="#00857f" stroke-width="1.35"/><ellipse cx="1136.18" cy="388.48" rx="5.28" ry="5.42" fill="#fff" stroke="#00857f" stroke-width="1.35"/><ellipse cx="1138.32" cy="358.72" rx="5.28" ry="5.42" fill="#fff" stroke="#00857f" stroke-width="1.35"/><ellipse cx="1140.46" cy="358.72" rx="5.28" ry="5.42" fill="#fff" stroke="#00857f" stroke-width="1.35"/><ellipse cx="1142.6" cy="366.55" rx="5.28" ry="5.42" fill="#fff" stroke="#00857f" stroke-width="1.35"/><ellipse cx="1144.74" cy="349.14" rx="5.28" ry="5.42" fill="#fff" stroke="#00857f" stroke-width="1.35"/><ellipse cx="1146.88" cy="362.46" rx="5.28" ry="5.42" fill="#fff" stroke="#00857f" stroke-width="1.35"/><ellipse cx="1149.03" cy="388.48" rx="5.28" ry="5.42" fill="#fff" stroke="#00857f" stroke-width="1.35"/><ellipse cx="1151.17" cy="343.77" rx="5.28" ry="5.42" fill="#fff" stroke="#00857f" stroke-width="1.35"/><ellipse cx="1153.31" cy="366.55" rx="5.28" ry="5.42" fill="#fff" stroke="#00857f" stroke-width="1.35"/><ellipse cx="1155.45" cy="381.86" rx="5.28" ry="5.42" fill="#fff" stroke="#00857f" stroke-width="1.35"/><ellipse cx="1157.59" cy="355.29" rx="5.28" ry="5.42" fill="#fff" stroke="#00857f" stroke-width="1.35"/><ellipse cx="1159.73" cy="418.24" rx="5.28" ry="5.42" fill="#fff" stroke="#00857f" stroke-width="1.35"/><ellipse cx="1161.87" cy="405.89" rx="5.28" ry="5.42" fill="#fff" stroke="#00857f" stroke-width="1.35"/><ellipse cx="1164.01" cy="371.07" rx="5.28" ry="5.42" fill="#fff" stroke="#00857f" stroke-width="1.35"/><ellipse cx="1166.15" cy="388.48" rx="5.28" ry="5.42" fill="#fff" stroke="#00857f" stroke-width="1.35"/><ellipse cx="1168.3" cy="396.31" rx="5.28" ry="5.42" fill="#fff" stroke="#00857f" stroke-width="1.35"/><ellipse cx="1170.44" cy="371.07" rx="5.28" ry="5.42" fill="#fff" stroke="#00857f" stroke-width="1.35"/><ellipse cx="1172.58" cy="366.55" rx="5.28" ry="5.42" fill="#fff" stroke="#00857f" stroke-width="1.35"/><ellipse cx="1174.72" cy="381.86" rx="5.28" ry="5.42" fill="#fff" stroke="#00857f" stroke-width="1.35"/><ellipse cx="1176.86" cy="362.46" rx="5.28" ry="5.42" fill="#fff" stroke="#00857f" stroke-width="1.35"/><ellipse cx="1179" cy="396.31" rx="5.28" ry="5.42" fill="#fff" stroke="#00857f" stroke-width="1.35"/><ellipse cx="1181.14" cy="388.48" rx="5.28" ry="5.42" fill="#fff" stroke="#00857f" stroke-width="1.35"/><ellipse cx="1183.28" cy="388.48" rx="5.28" ry="5.42" fill="#fff" stroke="#00857f" stroke-width="1.35"/><ellipse cx="1185.42" cy="381.86" rx="5.28" ry="5.42" fill="#fff" stroke="#00857f" stroke-width="1.35"/><ellipse cx="1187.56" cy="371.07" rx="5.28" ry="5.42" fill="#fff" stroke="#00857f" stroke-width="1.35"/><ellipse cx="1189.7" cy="376.13" rx="5.28" ry="5.42" fill="#fff" stroke="#00857f" stroke-width="1.35"/><ellipse cx="1191.85" cy="352.11" rx="5.28" ry="5.42" fill="#fff" stroke="#00857f" stroke-width="1.35"/><ellipse cx="1193.99" cy="366.55" rx="5.28" ry="5.42" fill="#fff" stroke="#00857f" stroke-width="1.35"/><ellipse cx="1196.13" cy="366.55" rx="5.28" ry="5.42" fill="#fff" stroke="#00857f" stroke-width="1.35"/><ellipse cx="1198.27" cy="355.29" rx="5.28" ry="5.42" fill="#fff" stroke="#00857f" stroke-width="1.35"/><ellipse cx="1200.41" cy="355.29" rx="5.28" ry="5.42" fill="#fff" stroke="#00857f" stroke-width="1.35"/><ellipse cx="1202.55" cy="381.86" rx="5.28" ry="5.42" fill="#fff" stroke="#00857f" stroke-width="1.35"/><ellipse cx="1204.69" cy="362.46" rx="5.28" ry="5.42" fill="#fff" stroke="#00857f" stroke-width="1.35"/><ellipse cx="1206.83" cy="381.86" rx="5.28" ry="5.42" fill="#fff" stroke="#00857f" stroke-width="1.35"/><ellipse cx="1208.97" cy="362.46" rx="5.28" ry="5.42" fill="#fff" stroke="#00857f" stroke-width="1.35"/><ellipse cx="1211.12" cy="405.89" rx="5.28" ry="5.42" fill="#fff" stroke="#00857f" stroke-width="1.35"/><ellipse cx="1213.26" cy="396.31" rx="5.28" ry="5.42" fill="#fff" stroke="#00857f" stroke-width="1.35"/><ellipse cx="1215.4" cy="371.07" rx="5.28" ry="5.42" fill="#fff" stroke="#00857f" stroke-width="1.35"/><ellipse cx="1217.54" cy="366.55" rx="5.28" ry="5.42" fill="#fff" stroke="#00857f" stroke-width="1.35"/><ellipse cx="1219.68" cy="376.13" rx="5.28" ry="5.42" fill="#fff" stroke="#00857f" stroke-width="1.35"/><ellipse cx="1221.82" cy="396.31" rx="5.28" ry="5.42" fill="#fff" stroke="#00857f" stroke-width="1.35"/><ellipse cx="1223.96" cy="371.07" rx="5.28" ry="5.42" fill="#fff" stroke="#00857f" stroke-width="1.35"/><ellipse cx="1226.1" cy="349.14" rx="5.28" ry="5.42" fill="#fff" stroke="#00857f" stroke-width="1.35"/><ellipse cx="1228.24" cy="362.46" rx="5.28" ry="5.42" fill="#fff" stroke="#00857f" stroke-width="1.35"/><ellipse cx="1230.38" cy="396.31" rx="5.28" ry="5.42" fill="#fff" stroke="#00857f" stroke-width="1.35"/><ellipse cx="1232.53" cy="371.07" rx="5.28" ry="5.42" fill="#fff" stroke="#00857f" stroke-width="1.35"/><ellipse cx="1234.67" cy="366.55" rx="5.28" ry="5.42" fill="#fff" stroke="#00857f" stroke-width="1.35"/><ellipse cx="1236.81" cy="371.07" rx="5.28" ry="5.42" fill="#fff" stroke="#00857f" stroke-width="1.35"/><ellipse cx="1238.95" cy="381.86" rx="5.28" ry="5.42" fill="#fff" stroke="#00857f" stroke-width="1.35"/><ellipse cx="1241.09" cy="362.46" rx="5.28" ry="5.42" fill="#fff" stroke="#00857f" stroke-width="1.35"/><ellipse cx="1243.23" cy="352.11" rx="5.28" ry="5.42" fill="#fff" stroke="#00857f" stroke-width="1.35"/><ellipse cx="1245.37" cy="366.55" rx="5.28" ry="5.42" fill="#fff" stroke="#00857f" stroke-width="1.35"/><ellipse cx="1247.51" cy="376.13" rx="5.28" ry="5.42" fill="#fff" stroke="#00857f" stroke-width="1.35"/><ellipse cx="1249.65" cy="362.46" rx="5.28" ry="5.42" fill="#fff" stroke="#00857f" stroke-width="1.35"/><ellipse cx="1251.79" cy="355.29" rx="5.28" ry="5.42" fill="#fff" stroke="#00857f" stroke-width="1.35"/><ellipse cx="1253.93" cy="366.55" rx="5.28" ry="5.42" fill="#fff" stroke="#00857f" stroke-width="1.35"/><ellipse cx="1256.08" cy="366.55" rx="5.28" ry="5.42" fill="#fff" stroke="#00857f" stroke-width="1.35"/><ellipse cx="1258.22" cy="396.31" rx="5.28" ry="5.42" fill="#fff" stroke="#00857f" stroke-width="1.35"/><ellipse cx="1260.36" cy="366.55" rx="5.28" ry="5.42" fill="#fff" stroke="#00857f" stroke-width="1.35"/><ellipse cx="1262.5" cy="355.29" rx="5.28" ry="5.42" fill="#fff" stroke="#00857f" stroke-width="1.35"/><ellipse cx="1264.64" cy="341.32" rx="5.28" ry="5.42" fill="#fff" stroke="#00857f" stroke-width="1.35"/><ellipse cx="1266.78" cy="343.77" rx="5.28" ry="5.42" fill="#fff" stroke="#00857f" stroke-width="1.35"/><ellipse cx="1268.92" cy="362.46" rx="5.28" ry="5.42" fill="#fff" stroke="#00857f" stroke-width="1.35"/><ellipse cx="1271.06" cy="352.11" rx="5.28" ry="5.42" fill="#fff" stroke="#00857f" stroke-width="1.35"/><ellipse cx="1273.2" cy="346.37" rx="5.28" ry="5.42" fill="#fff" stroke="#00857f" stroke-width="1.35"/><ellipse cx="1275.34" cy="336.79" rx="5.28" ry="5.42" fill="#fff" stroke="#00857f" stroke-width="1.35"/><ellipse cx="1277.49" cy="362.46" rx="5.28" ry="5.42" fill="#fff" stroke="#00857f" stroke-width="1.35"/><ellipse cx="1279.63" cy="346.37" rx="5.28" ry="5.42" fill="#fff" stroke="#00857f" stroke-width="1.35"/><ellipse cx="1281.77" cy="346.37" rx="5.28" ry="5.42" fill="#fff" stroke="#00857f" stroke-width="1.35"/><ellipse cx="1283.91" cy="362.46" rx="5.28" ry="5.42" fill="#fff" stroke="#00857f" stroke-width="1.35"/><ellipse cx="1286.05" cy="341.32" rx="5.28" ry="5.42" fill="#fff" stroke="#00857f" stroke-width="1.35"/><ellipse cx="752.94" cy="300.48" rx="5.28" ry="5.42" fill="#fff" stroke="#0f64ae" stroke-width="1.35"/><ellipse cx="755.08" cy="295.56" rx="5.28" ry="5.42" fill="#fff" stroke="#0f64ae" stroke-width="1.35"/><ellipse cx="757.22" cy="295.54" rx="5.28" ry="5.42" fill="#fff" stroke="#0f64ae" stroke-width="1.35"/><ellipse cx="759.36" cy="289.25" rx="5.28" ry="5.42" fill="#fff" stroke="#0f64ae" stroke-width="1.35"/><ellipse cx="761.5" cy="279.25" rx="5.28" ry="5.42" fill="#fff" stroke="#0f64ae" stroke-width="1.35"/><ellipse cx="763.65" cy="270.09" rx="5.28" ry="5.42" fill="#fff" stroke="#0f64ae" stroke-width="1.35"/><ellipse cx="765.79" cy="276.65" rx="5.28" ry="5.42" fill="#fff" stroke="#0f64ae" stroke-width="1.35"/><ellipse cx="767.93" cy="268.96" rx="5.28" ry="5.42" fill="#fff" stroke="#0f64ae" stroke-width="1.35"/><ellipse cx="770.07" cy="268.7" rx="5.28" ry="5.42" fill="#fff" stroke="#0f64ae" stroke-width="1.35"/><ellipse cx="772.21" cy="269.22" rx="5.28" ry="5.42" fill="#fff" stroke="#0f64ae" stroke-width="1.35"/><ellipse cx="774.35" cy="270.71" rx="5.28" ry="5.42" fill="#fff" stroke="#0f64ae" stroke-width="1.35"/><ellipse cx="776.49" cy="269.77" rx="5.28" ry="5.42" fill="#fff" stroke="#0f64ae" stroke-width="1.35"/><ellipse cx="778.63" cy="268.07" rx="5.28" ry="5.42" fill="#fff" stroke="#0f64ae" stroke-width="1.35"/><ellipse cx="780.77" cy="260.48" rx="5.28" ry="5.42" fill="#fff" stroke="#0f64ae" stroke-width="1.35"/><ellipse cx="782.91" cy="267.06" rx="5.28" ry="5.42" fill="#fff" stroke="#0f64ae" stroke-width="1.35"/><ellipse cx="785.06" cy="263.66" rx="5.28" ry="5.42" fill="#fff" stroke="#0f64ae" stroke-width="1.35"/><ellipse cx="787.2" cy="259.28" rx="5.28" ry="5.42" fill="#fff" stroke="#0f64ae" stroke-width="1.35"/><ellipse cx="789.34" cy="261.19" rx="5.28" ry="5.42" fill="#fff" stroke="#0f64ae" stroke-width="1.35"/><ellipse cx="791.48" cy="265.7" rx="5.28" ry="5.42" fill="#fff" stroke="#0f64ae" stroke-width="1.35"/><ellipse cx="793.62" cy="259.18" rx="5.28" ry="5.42" fill="#fff" stroke="#0f64ae" stroke-width="1.35"/><ellipse cx="795.76" cy="261.08" rx="5.28" ry="5.42" fill="#fff" stroke="#0f64ae" stroke-width="1.35"/><ellipse cx="797.9" cy="264.85" rx="5.28" ry="5.42" fill="#fff" stroke="#0f64ae" stroke-width="1.35"/><ellipse cx="800.04" cy="261.34" rx="5.28" ry="5.42" fill="#fff" stroke="#0f64ae" stroke-width="1.35"/><ellipse cx="802.18" cy="262.35" rx="5.28" ry="5.42" fill="#fff" stroke="#0f64ae" stroke-width="1.35"/><ellipse cx="804.32" cy="257.22" rx="5.28" ry="5.42" fill="#fff" stroke="#0f64ae" stroke-width="1.35"/><ellipse cx="806.47" cy="266.28" rx="5.28" ry="5.42" fill="#fff" stroke="#0f64ae" stroke-width="1.35"/><ellipse cx="808.61" cy="268.59" rx="5.28" ry="5.42" fill="#fff" stroke="#0f64ae" stroke-width="1.35"/><ellipse cx="810.75" cy="260.36" rx="5.28" ry="5.42" fill="#fff" stroke="#0f64ae" stroke-width="1.35"/><ellipse cx="812.89" cy="262.36" rx="5.28" ry="5.42" fill="#fff" stroke="#0f64ae" stroke-width="1.35"/><ellipse cx="815.03" cy="269.39" rx="5.28" ry="5.42" fill="#fff" stroke="#0f64ae" stroke-width="1.35"/><ellipse cx="817.17" cy="264.11" rx="5.28" ry="5.42" fill="#fff" stroke="#0f64ae" stroke-width="1.35"/><ellipse cx="819.31" cy="266.3" rx="5.28" ry="5.42" fill="#fff" stroke="#0f64ae" stroke-width="1.35"/><ellipse cx="821.45" cy="261.36" rx="5.28" ry="5.42" fill="#fff" stroke="#0f64ae" stroke-width="1.35"/><ellipse cx="823.59" cy="266.3" rx="5.28" ry="5.42" fill="#fff" stroke="#0f64ae" stroke-width="1.35"/><ellipse cx="825.73" cy="259.41" rx="5.28" ry="5.42" fill="#fff" stroke="#0f64ae" stroke-width="1.35"/><ellipse cx="827.88" cy="260.7" rx="5.28" ry="5.42" fill="#fff" stroke="#0f64ae" stroke-width="1.35"/><ellipse cx="830.02" cy="258.78" rx="5.28" ry="5.42" fill="#fff" stroke="#0f64ae" stroke-width="1.35"/><ellipse cx="832.16" cy="266.31" rx="5.28" ry="5.42" fill="#fff" stroke="#0f64ae" stroke-width="1.35"/><ellipse cx="834.3" cy="261.37" rx="5.28" ry="5.42" fill="#fff" stroke="#0f64ae" stroke-width="1.35"/><ellipse cx="836.44" cy="263.07" rx="5.28" ry="5.42" fill="#fff" stroke="#0f64ae" stroke-width="1.35"/><ellipse cx="838.58" cy="260.39" rx="5.28" ry="5.42" fill="#fff" stroke="#0f64ae" stroke-width="1.35"/><ellipse cx="840.72" cy="269.83" rx="5.28" ry="5.42" fill="#fff" stroke="#0f64ae" stroke-width="1.35"/><ellipse cx="842.86" cy="261.38" rx="5.28" ry="5.42" fill="#fff" stroke="#0f64ae" stroke-width="1.35"/><ellipse cx="845" cy="262.05" rx="5.28" ry="5.42" fill="#fff" stroke="#0f64ae" stroke-width="1.35"/><ellipse cx="847.14" cy="263.08" rx="5.28" ry="5.42" fill="#fff" stroke="#0f64ae" stroke-width="1.35"/><ellipse cx="849.29" cy="266.7" rx="5.28" ry="5.42" fill="#fff" stroke="#0f64ae" stroke-width="1.35"/><ellipse cx="851.43" cy="263.44" rx="5.28" ry="5.42" fill="#fff" stroke="#0f64ae" stroke-width="1.35"/><ellipse cx="853.57" cy="262.74" rx="5.28" ry="5.42" fill="#fff" stroke="#0f64ae" stroke-width="1.35"/><ellipse cx="855.71" cy="260.4" rx="5.28" ry="5.42" fill="#fff" stroke="#0f64ae" stroke-width="1.35"/><ellipse cx="857.85" cy="265.59" rx="5.28" ry="5.42" fill="#fff" stroke="#0f64ae" stroke-width="1.35"/><ellipse cx="859.99" cy="270.67" rx="5.28" ry="5.42" fill="#fff" stroke="#0f64ae" stroke-width="1.35"/><ellipse cx="862.13" cy="260.08" rx="5.28" ry="5.42" fill="#fff" stroke="#0f64ae" stroke-width="1.35"/><ellipse cx="864.27" cy="267.48" rx="5.28" ry="5.42" fill="#fff" stroke="#0f64ae" stroke-width="1.35"/><ellipse cx="866.41" cy="258.81" rx="5.28" ry="5.42" fill="#fff" stroke="#0f64ae" stroke-width="1.35"/><ellipse cx="868.55" cy="264.87" rx="5.28" ry="5.42" fill="#fff" stroke="#0f64ae" stroke-width="1.35"/><ellipse cx="870.7" cy="268.26" rx="5.28" ry="5.42" fill="#fff" stroke="#0f64ae" stroke-width="1.35"/><ellipse cx="872.84" cy="263.11" rx="5.28" ry="5.42" fill="#fff" stroke="#0f64ae" stroke-width="1.35"/><ellipse cx="874.98" cy="262.76" rx="5.28" ry="5.42" fill="#fff" stroke="#0f64ae" stroke-width="1.35"/><ellipse cx="877.12" cy="267.88" rx="5.28" ry="5.42" fill="#fff" stroke="#0f64ae" stroke-width="1.35"/><ellipse cx="879.26" cy="260.75" rx="5.28" ry="5.42" fill="#fff" stroke="#0f64ae" stroke-width="1.35"/><ellipse cx="881.4" cy="265.62" rx="5.28" ry="5.42" fill="#fff" stroke="#0f64ae" stroke-width="1.35"/><ellipse cx="883.54" cy="260.1" rx="5.28" ry="5.42" fill="#fff" stroke="#0f64ae" stroke-width="1.35"/><ellipse cx="885.68" cy="264.53" rx="5.28" ry="5.42" fill="#fff" stroke="#0f64ae" stroke-width="1.35"/><ellipse cx="887.82" cy="262.43" rx="5.28" ry="5.42" fill="#fff" stroke="#0f64ae" stroke-width="1.35"/><ellipse cx="889.96" cy="261.76" rx="5.28" ry="5.42" fill="#fff" stroke="#0f64ae" stroke-width="1.35"/><ellipse cx="892.11" cy="263.82" rx="5.28" ry="5.42" fill="#fff" stroke="#0f64ae" stroke-width="1.35"/><ellipse cx="894.25" cy="261.42" rx="5.28" ry="5.42" fill="#fff" stroke="#0f64ae" stroke-width="1.35"/><ellipse cx="896.39" cy="264.9" rx="5.28" ry="5.42" fill="#fff" stroke="#0f64ae" stroke-width="1.35"/><ellipse cx="898.53" cy="266" rx="5.28" ry="5.42" fill="#fff" stroke="#0f64ae" stroke-width="1.35"/><ellipse cx="900.67" cy="269.08" rx="5.28" ry="5.42" fill="#fff" stroke="#0f64ae" stroke-width="1.35"/><ellipse cx="902.81" cy="267.14" rx="5.28" ry="5.42" fill="#fff" stroke="#0f64ae" stroke-width="1.35"/><ellipse cx="904.95" cy="263.84" rx="5.28" ry="5.42" fill="#fff" stroke="#0f64ae" stroke-width="1.35"/><ellipse cx="907.09" cy="260.12" rx="5.28" ry="5.42" fill="#fff" stroke="#0f64ae" stroke-width="1.35"/><ellipse cx="909.23" cy="261.44" rx="5.28" ry="5.42" fill="#fff" stroke="#0f64ae" stroke-width="1.35"/><ellipse cx="911.38" cy="264.92" rx="5.28" ry="5.42" fill="#fff" stroke="#0f64ae" stroke-width="1.35"/><ellipse cx="913.52" cy="261.78" rx="5.28" ry="5.42" fill="#fff" stroke="#0f64ae" stroke-width="1.35"/><ellipse cx="915.66" cy="259.48" rx="5.28" ry="5.42" fill="#fff" stroke="#0f64ae" stroke-width="1.35"/><ellipse cx="917.8" cy="261.44" rx="5.28" ry="5.42" fill="#fff" stroke="#0f64ae" stroke-width="1.35"/><ellipse cx="919.94" cy="261.78" rx="5.28" ry="5.42" fill="#fff" stroke="#0f64ae" stroke-width="1.35"/><ellipse cx="922.08" cy="261.12" rx="5.28" ry="5.42" fill="#fff" stroke="#0f64ae" stroke-width="1.35"/><ellipse cx="924.22" cy="263.85" rx="5.28" ry="5.42" fill="#fff" stroke="#0f64ae" stroke-width="1.35"/><ellipse cx="926.36" cy="261.45" rx="5.28" ry="5.42" fill="#fff" stroke="#0f64ae" stroke-width="1.35"/><ellipse cx="928.5" cy="260.46" rx="5.28" ry="5.42" fill="#fff" stroke="#0f64ae" stroke-width="1.35"/><ellipse cx="930.64" cy="262.13" rx="5.28" ry="5.42" fill="#fff" stroke="#0f64ae" stroke-width="1.35"/><ellipse cx="932.78" cy="260.79" rx="5.28" ry="5.42" fill="#fff" stroke="#0f64ae" stroke-width="1.35"/><ellipse cx="934.93" cy="274.65" rx="5.28" ry="5.42" fill="#fff" stroke="#0f64ae" stroke-width="1.35"/><ellipse cx="937.07" cy="261.13" rx="5.28" ry="5.42" fill="#fff" stroke="#0f64ae" stroke-width="1.35"/><ellipse cx="939.21" cy="264.22" rx="5.28" ry="5.42" fill="#fff" stroke="#0f64ae" stroke-width="1.35"/><ellipse cx="941.35" cy="263.87" rx="5.28" ry="5.42" fill="#fff" stroke="#0f64ae" stroke-width="1.35"/><ellipse cx="943.49" cy="263.17" rx="5.28" ry="5.42" fill="#fff" stroke="#0f64ae" stroke-width="1.35"/><ellipse cx="945.63" cy="258.88" rx="5.28" ry="5.42" fill="#fff" stroke="#0f64ae" stroke-width="1.35"/><ellipse cx="947.77" cy="264.23" rx="5.28" ry="5.42" fill="#fff" stroke="#0f64ae" stroke-width="1.35"/><ellipse cx="949.91" cy="258.25" rx="5.28" ry="5.42" fill="#fff" stroke="#0f64ae" stroke-width="1.35"/><ellipse cx="952.05" cy="264.59" rx="5.28" ry="5.42" fill="#fff" stroke="#0f64ae" stroke-width="1.35"/><ellipse cx="954.19" cy="264.24" rx="5.28" ry="5.42" fill="#fff" stroke="#0f64ae" stroke-width="1.35"/><ellipse cx="956.34" cy="266.81" rx="5.28" ry="5.42" fill="#fff" stroke="#0f64ae" stroke-width="1.35"/><ellipse cx="958.48" cy="260.82" rx="5.28" ry="5.42" fill="#fff" stroke="#0f64ae" stroke-width="1.35"/><ellipse cx="960.62" cy="261.48" rx="5.28" ry="5.42" fill="#fff" stroke="#0f64ae" stroke-width="1.35"/><ellipse cx="962.76" cy="264.96" rx="5.28" ry="5.42" fill="#fff" stroke="#0f64ae" stroke-width="1.35"/><ellipse cx="964.9" cy="264.25" rx="5.28" ry="5.42" fill="#fff" stroke="#0f64ae" stroke-width="1.35"/><ellipse cx="967.04" cy="264.97" rx="5.28" ry="5.42" fill="#fff" stroke="#0f64ae" stroke-width="1.35"/><ellipse cx="969.18" cy="262.16" rx="5.28" ry="5.42" fill="#fff" stroke="#0f64ae" stroke-width="1.35"/><ellipse cx="971.32" cy="263.9" rx="5.28" ry="5.42" fill="#fff" stroke="#0f64ae" stroke-width="1.35"/><ellipse cx="973.46" cy="262.17" rx="5.28" ry="5.42" fill="#fff" stroke="#0f64ae" stroke-width="1.35"/><ellipse cx="975.61" cy="261.83" rx="5.28" ry="5.42" fill="#fff" stroke="#0f64ae" stroke-width="1.35"/><ellipse cx="977.75" cy="263.2" rx="5.28" ry="5.42" fill="#fff" stroke="#0f64ae" stroke-width="1.35"/><ellipse cx="979.89" cy="268.37" rx="5.28" ry="5.42" fill="#fff" stroke="#0f64ae" stroke-width="1.35"/><ellipse cx="982.03" cy="272.06" rx="5.28" ry="5.42" fill="#fff" stroke="#0f64ae" stroke-width="1.35"/><ellipse cx="984.17" cy="267.6" rx="5.28" ry="5.42" fill="#fff" stroke="#0f64ae" stroke-width="1.35"/><ellipse cx="986.31" cy="262.52" rx="5.28" ry="5.42" fill="#fff" stroke="#0f64ae" stroke-width="1.35"/><ellipse cx="988.45" cy="262.87" rx="5.28" ry="5.42" fill="#fff" stroke="#0f64ae" stroke-width="1.35"/><ellipse cx="990.59" cy="260.19" rx="5.28" ry="5.42" fill="#fff" stroke="#0f64ae" stroke-width="1.35"/><ellipse cx="992.73" cy="264.99" rx="5.28" ry="5.42" fill="#fff" stroke="#0f64ae" stroke-width="1.35"/><ellipse cx="994.87" cy="261.51" rx="5.28" ry="5.42" fill="#fff" stroke="#0f64ae" stroke-width="1.35"/><ellipse cx="997.01" cy="262.87" rx="5.28" ry="5.42" fill="#fff" stroke="#0f64ae" stroke-width="1.35"/><ellipse cx="999.16" cy="265.73" rx="5.28" ry="5.42" fill="#fff" stroke="#0f64ae" stroke-width="1.35"/><ellipse cx="1001.3" cy="259.56" rx="5.28" ry="5.42" fill="#fff" stroke="#0f64ae" stroke-width="1.35"/><ellipse cx="1003.44" cy="260.86" rx="5.28" ry="5.42" fill="#fff" stroke="#0f64ae" stroke-width="1.35"/><ellipse cx="1005.58" cy="263.23" rx="5.28" ry="5.42" fill="#fff" stroke="#0f64ae" stroke-width="1.35"/><ellipse cx="1007.72" cy="268.01" rx="5.28" ry="5.42" fill="#fff" stroke="#0f64ae" stroke-width="1.35"/><ellipse cx="1009.86" cy="267.24" rx="5.28" ry="5.42" fill="#fff" stroke="#0f64ae" stroke-width="1.35"/><ellipse cx="1012" cy="261.86" rx="5.28" ry="5.42" fill="#fff" stroke="#0f64ae" stroke-width="1.35"/><ellipse cx="1014.14" cy="266.87" rx="5.28" ry="5.42" fill="#fff" stroke="#0f64ae" stroke-width="1.35"/><ellipse cx="1016.28" cy="268.02" rx="5.28" ry="5.42" fill="#fff" stroke="#0f64ae" stroke-width="1.35"/><ellipse cx="1018.42" cy="264.3" rx="5.28" ry="5.42" fill="#fff" stroke="#0f64ae" stroke-width="1.35"/><ellipse cx="1020.57" cy="265.38" rx="5.28" ry="5.42" fill="#fff" stroke="#0f64ae" stroke-width="1.35"/><ellipse cx="1022.71" cy="267.64" rx="5.28" ry="5.42" fill="#fff" stroke="#0f64ae" stroke-width="1.35"/><ellipse cx="1024.85" cy="262.55" rx="5.28" ry="5.42" fill="#fff" stroke="#0f64ae" stroke-width="1.35"/><ellipse cx="1026.99" cy="256.49" rx="5.28" ry="5.42" fill="#fff" stroke="#0f64ae" stroke-width="1.35"/><ellipse cx="1029.13" cy="256.79" rx="5.28" ry="5.42" fill="#fff" stroke="#0f64ae" stroke-width="1.35"/><ellipse cx="1031.27" cy="264.31" rx="5.28" ry="5.42" fill="#fff" stroke="#0f64ae" stroke-width="1.35"/><ellipse cx="1033.41" cy="266.51" rx="5.28" ry="5.42" fill="#fff" stroke="#0f64ae" stroke-width="1.35"/><ellipse cx="1035.55" cy="260.88" rx="5.28" ry="5.42" fill="#fff" stroke="#0f64ae" stroke-width="1.35"/><ellipse cx="1037.69" cy="263.96" rx="5.28" ry="5.42" fill="#fff" stroke="#0f64ae" stroke-width="1.35"/><ellipse cx="1039.84" cy="267.27" rx="5.28" ry="5.42" fill="#fff" stroke="#0f64ae" stroke-width="1.35"/><ellipse cx="1041.98" cy="266.52" rx="5.28" ry="5.42" fill="#fff" stroke="#0f64ae" stroke-width="1.35"/><ellipse cx="1044.12" cy="262.92" rx="5.28" ry="5.42" fill="#fff" stroke="#0f64ae" stroke-width="1.35"/><ellipse cx="1046.26" cy="257.41" rx="5.28" ry="5.42" fill="#fff" stroke="#0f64ae" stroke-width="1.35"/><ellipse cx="1048.4" cy="263.62" rx="5.28" ry="5.42" fill="#fff" stroke="#0f64ae" stroke-width="1.35"/><ellipse cx="1050.54" cy="266.52" rx="5.28" ry="5.42" fill="#fff" stroke="#0f64ae" stroke-width="1.35"/><ellipse cx="1052.68" cy="260.9" rx="5.28" ry="5.42" fill="#fff" stroke="#0f64ae" stroke-width="1.35"/><ellipse cx="1054.82" cy="259.92" rx="5.28" ry="5.42" fill="#fff" stroke="#0f64ae" stroke-width="1.35"/><ellipse cx="1056.96" cy="258.65" rx="5.28" ry="5.42" fill="#fff" stroke="#0f64ae" stroke-width="1.35"/><ellipse cx="1059.1" cy="262.24" rx="5.28" ry="5.42" fill="#fff" stroke="#0f64ae" stroke-width="1.35"/><ellipse cx="1061.24" cy="262.24" rx="5.28" ry="5.42" fill="#fff" stroke="#0f64ae" stroke-width="1.35"/><ellipse cx="1063.39" cy="257.73" rx="5.28" ry="5.42" fill="#fff" stroke="#0f64ae" stroke-width="1.35"/><ellipse cx="1065.53" cy="261.24" rx="5.28" ry="5.42" fill="#fff" stroke="#0f64ae" stroke-width="1.35"/><ellipse cx="1067.67" cy="263.99" rx="5.28" ry="5.42" fill="#fff" stroke="#0f64ae" stroke-width="1.35"/><ellipse cx="1069.81" cy="258.98" rx="5.28" ry="5.42" fill="#fff" stroke="#0f64ae" stroke-width="1.35"/><ellipse cx="1071.95" cy="266.55" rx="5.28" ry="5.42" fill="#fff" stroke="#0f64ae" stroke-width="1.35"/><ellipse cx="1074.09" cy="260.92" rx="5.28" ry="5.42" fill="#fff" stroke="#0f64ae" stroke-width="1.35"/><ellipse cx="1076.23" cy="261.25" rx="5.28" ry="5.42" fill="#fff" stroke="#0f64ae" stroke-width="1.35"/><ellipse cx="1078.37" cy="262.26" rx="5.28" ry="5.42" fill="#fff" stroke="#0f64ae" stroke-width="1.35"/><ellipse cx="1080.51" cy="263.65" rx="5.28" ry="5.42" fill="#fff" stroke="#0f64ae" stroke-width="1.35"/><ellipse cx="1082.65" cy="266.93" rx="5.28" ry="5.42" fill="#fff" stroke="#0f64ae" stroke-width="1.35"/><ellipse cx="1084.8" cy="262.61" rx="5.28" ry="5.42" fill="#fff" stroke="#0f64ae" stroke-width="1.35"/><ellipse cx="1086.94" cy="266.56" rx="5.28" ry="5.42" fill="#fff" stroke="#0f64ae" stroke-width="1.35"/><ellipse cx="1089.08" cy="262.27" rx="5.28" ry="5.42" fill="#fff" stroke="#0f64ae" stroke-width="1.35"/><ellipse cx="1091.22" cy="260.6" rx="5.28" ry="5.42" fill="#fff" stroke="#0f64ae" stroke-width="1.35"/><ellipse cx="1093.36" cy="260.93" rx="5.28" ry="5.42" fill="#fff" stroke="#0f64ae" stroke-width="1.35"/><ellipse cx="1095.5" cy="258.68" rx="5.28" ry="5.42" fill="#fff" stroke="#0f64ae" stroke-width="1.35"/><ellipse cx="1097.64" cy="268.1" rx="5.28" ry="5.42" fill="#fff" stroke="#0f64ae" stroke-width="1.35"/><ellipse cx="1099.78" cy="260.94" rx="5.28" ry="5.42" fill="#fff" stroke="#0f64ae" stroke-width="1.35"/><ellipse cx="1101.92" cy="264.38" rx="5.28" ry="5.42" fill="#fff" stroke="#0f64ae" stroke-width="1.35"/><ellipse cx="1104.07" cy="266.21" rx="5.28" ry="5.42" fill="#fff" stroke="#0f64ae" stroke-width="1.35"/><ellipse cx="1106.21" cy="263.33" rx="5.28" ry="5.42" fill="#fff" stroke="#0f64ae" stroke-width="1.35"/><ellipse cx="1108.35" cy="268.52" rx="5.28" ry="5.42" fill="#fff" stroke="#0f64ae" stroke-width="1.35"/><ellipse cx="1110.49" cy="260.31" rx="5.28" ry="5.42" fill="#fff" stroke="#0f64ae" stroke-width="1.35"/><ellipse cx="1112.63" cy="259.99" rx="5.28" ry="5.42" fill="#fff" stroke="#0f64ae" stroke-width="1.35"/><ellipse cx="1114.77" cy="263.35" rx="5.28" ry="5.42" fill="#fff" stroke="#0f64ae" stroke-width="1.35"/><ellipse cx="1116.91" cy="266.25" rx="5.28" ry="5.42" fill="#fff" stroke="#0f64ae" stroke-width="1.35"/><ellipse cx="1119.05" cy="270.99" rx="5.28" ry="5.42" fill="#fff" stroke="#0f64ae" stroke-width="1.35"/><ellipse cx="1121.19" cy="266.63" rx="5.28" ry="5.42" fill="#fff" stroke="#0f64ae" stroke-width="1.35"/><ellipse cx="1123.33" cy="258.43" rx="5.28" ry="5.42" fill="#fff" stroke="#0f64ae" stroke-width="1.35"/><ellipse cx="1125.47" cy="270.18" rx="5.28" ry="5.42" fill="#fff" stroke="#0f64ae" stroke-width="1.35"/><ellipse cx="1127.62" cy="264.45" rx="5.28" ry="5.42" fill="#fff" stroke="#0f64ae" stroke-width="1.35"/><ellipse cx="1129.76" cy="267.81" rx="5.28" ry="5.42" fill="#fff" stroke="#0f64ae" stroke-width="1.35"/><ellipse cx="1131.9" cy="260.69" rx="5.28" ry="5.42" fill="#fff" stroke="#0f64ae" stroke-width="1.35"/><ellipse cx="1134.04" cy="267.43" rx="5.28" ry="5.42" fill="#fff" stroke="#0f64ae" stroke-width="1.35"/><ellipse cx="1136.18" cy="267.82" rx="5.28" ry="5.42" fill="#fff" stroke="#0f64ae" stroke-width="1.35"/><ellipse cx="1138.32" cy="262.04" rx="5.28" ry="5.42" fill="#fff" stroke="#0f64ae" stroke-width="1.35"/><ellipse cx="1140.46" cy="258.78" rx="5.28" ry="5.42" fill="#fff" stroke="#0f64ae" stroke-width="1.35"/><ellipse cx="1142.6" cy="264.49" rx="5.28" ry="5.42" fill="#fff" stroke="#0f64ae" stroke-width="1.35"/><ellipse cx="1144.74" cy="265.58" rx="5.28" ry="5.42" fill="#fff" stroke="#0f64ae" stroke-width="1.35"/><ellipse cx="1146.88" cy="261.06" rx="5.28" ry="5.42" fill="#fff" stroke="#0f64ae" stroke-width="1.35"/><ellipse cx="1149.03" cy="267.86" rx="5.28" ry="5.42" fill="#fff" stroke="#0f64ae" stroke-width="1.35"/><ellipse cx="1151.17" cy="258.81" rx="5.28" ry="5.42" fill="#fff" stroke="#0f64ae" stroke-width="1.35"/><ellipse cx="1153.31" cy="270.27" rx="5.28" ry="5.42" fill="#fff" stroke="#0f64ae" stroke-width="1.35"/><ellipse cx="1155.45" cy="265.25" rx="5.28" ry="5.42" fill="#fff" stroke="#0f64ae" stroke-width="1.35"/><ellipse cx="1157.59" cy="270.69" rx="5.28" ry="5.42" fill="#fff" stroke="#0f64ae" stroke-width="1.35"/><ellipse cx="1159.73" cy="266.74" rx="5.28" ry="5.42" fill="#fff" stroke="#0f64ae" stroke-width="1.35"/><ellipse cx="1161.87" cy="267.51" rx="5.28" ry="5.42" fill="#fff" stroke="#0f64ae" stroke-width="1.35"/><ellipse cx="1164.01" cy="262.79" rx="5.28" ry="5.42" fill="#fff" stroke="#0f64ae" stroke-width="1.35"/><ellipse cx="1166.15" cy="262.79" rx="5.28" ry="5.42" fill="#fff" stroke="#0f64ae" stroke-width="1.35"/><ellipse cx="1168.3" cy="264.2" rx="5.28" ry="5.42" fill="#fff" stroke="#0f64ae" stroke-width="1.35"/><ellipse cx="1170.44" cy="269.51" rx="5.28" ry="5.42" fill="#fff" stroke="#0f64ae" stroke-width="1.35"/><ellipse cx="1172.58" cy="263.16" rx="5.28" ry="5.42" fill="#fff" stroke="#0f64ae" stroke-width="1.35"/><ellipse cx="1174.72" cy="269.93" rx="5.28" ry="5.42" fill="#fff" stroke="#0f64ae" stroke-width="1.35"/><ellipse cx="1176.86" cy="260.47" rx="5.28" ry="5.42" fill="#fff" stroke="#0f64ae" stroke-width="1.35"/><ellipse cx="1179" cy="271.18" rx="5.28" ry="5.42" fill="#fff" stroke="#0f64ae" stroke-width="1.35"/><ellipse cx="1181.14" cy="273.33" rx="5.28" ry="5.42" fill="#fff" stroke="#0f64ae" stroke-width="1.35"/><ellipse cx="1183.28" cy="264.6" rx="5.28" ry="5.42" fill="#fff" stroke="#0f64ae" stroke-width="1.35"/><ellipse cx="1185.42" cy="271.2" rx="5.28" ry="5.42" fill="#fff" stroke="#0f64ae" stroke-width="1.35"/><ellipse cx="1187.56" cy="262.51" rx="5.28" ry="5.42" fill="#fff" stroke="#0f64ae" stroke-width="1.35"/><ellipse cx="1189.7" cy="262.85" rx="5.28" ry="5.42" fill="#fff" stroke="#0f64ae" stroke-width="1.35"/><ellipse cx="1191.85" cy="268.77" rx="5.28" ry="5.42" fill="#fff" stroke="#0f64ae" stroke-width="1.35"/><ellipse cx="1193.99" cy="263.91" rx="5.28" ry="5.42" fill="#fff" stroke="#0f64ae" stroke-width="1.35"/><ellipse cx="1196.13" cy="266.85" rx="5.28" ry="5.42" fill="#fff" stroke="#0f64ae" stroke-width="1.35"/><ellipse cx="1198.27" cy="266.48" rx="5.28" ry="5.42" fill="#fff" stroke="#0f64ae" stroke-width="1.35"/><ellipse cx="1200.41" cy="262.2" rx="5.28" ry="5.42" fill="#fff" stroke="#0f64ae" stroke-width="1.35"/><ellipse cx="1202.55" cy="270.83" rx="5.28" ry="5.42" fill="#fff" stroke="#0f64ae" stroke-width="1.35"/><ellipse cx="1204.69" cy="270.43" rx="5.28" ry="5.42" fill="#fff" stroke="#0f64ae" stroke-width="1.35"/><ellipse cx="1206.83" cy="261.88" rx="5.28" ry="5.42" fill="#fff" stroke="#0f64ae" stroke-width="1.35"/><ellipse cx="1208.97" cy="272.12" rx="5.28" ry="5.42" fill="#fff" stroke="#0f64ae" stroke-width="1.35"/><ellipse cx="1211.12" cy="265.04" rx="5.28" ry="5.42" fill="#fff" stroke="#0f64ae" stroke-width="1.35"/><ellipse cx="1213.26" cy="263.97" rx="5.28" ry="5.42" fill="#fff" stroke="#0f64ae" stroke-width="1.35"/><ellipse cx="1215.4" cy="264.69" rx="5.28" ry="5.42" fill="#fff" stroke="#0f64ae" stroke-width="1.35"/><ellipse cx="1217.54" cy="264.7" rx="5.28" ry="5.42" fill="#fff" stroke="#0f64ae" stroke-width="1.35"/><ellipse cx="1219.68" cy="266.55" rx="5.28" ry="5.42" fill="#fff" stroke="#0f64ae" stroke-width="1.35"/><ellipse cx="1221.82" cy="269.27" rx="5.28" ry="5.42" fill="#fff" stroke="#0f64ae" stroke-width="1.35"/><ellipse cx="1223.96" cy="263.65" rx="5.28" ry="5.42" fill="#fff" stroke="#0f64ae" stroke-width="1.35"/><ellipse cx="1226.1" cy="261.6" rx="5.28" ry="5.42" fill="#fff" stroke="#0f64ae" stroke-width="1.35"/><ellipse cx="1228.24" cy="257.15" rx="5.28" ry="5.42" fill="#fff" stroke="#0f64ae" stroke-width="1.35"/><ellipse cx="1230.38" cy="264.74" rx="5.28" ry="5.42" fill="#fff" stroke="#0f64ae" stroke-width="1.35"/><ellipse cx="1232.53" cy="262.29" rx="5.28" ry="5.42" fill="#fff" stroke="#0f64ae" stroke-width="1.35"/><ellipse cx="1234.67" cy="269.72" rx="5.28" ry="5.42" fill="#fff" stroke="#0f64ae" stroke-width="1.35"/><ellipse cx="1236.81" cy="265.12" rx="5.28" ry="5.42" fill="#fff" stroke="#0f64ae" stroke-width="1.35"/><ellipse cx="1238.95" cy="267.37" rx="5.28" ry="5.42" fill="#fff" stroke="#0f64ae" stroke-width="1.35"/><ellipse cx="1241.09" cy="265.87" rx="5.28" ry="5.42" fill="#fff" stroke="#0f64ae" stroke-width="1.35"/><ellipse cx="1243.23" cy="264.78" rx="5.28" ry="5.42" fill="#fff" stroke="#0f64ae" stroke-width="1.35"/><ellipse cx="1245.37" cy="260.66" rx="5.28" ry="5.42" fill="#fff" stroke="#0f64ae" stroke-width="1.35"/><ellipse cx="1247.51" cy="267.78" rx="5.28" ry="5.42" fill="#fff" stroke="#0f64ae" stroke-width="1.35"/><ellipse cx="1249.65" cy="265.16" rx="5.28" ry="5.42" fill="#fff" stroke="#0f64ae" stroke-width="1.35"/><ellipse cx="1251.79" cy="261" rx="5.28" ry="5.42" fill="#fff" stroke="#0f64ae" stroke-width="1.35"/><ellipse cx="1253.93" cy="266.66" rx="5.28" ry="5.42" fill="#fff" stroke="#0f64ae" stroke-width="1.35"/><ellipse cx="1256.08" cy="264.1" rx="5.28" ry="5.42" fill="#fff" stroke="#0f64ae" stroke-width="1.35"/><ellipse cx="1258.22" cy="270.62" rx="5.28" ry="5.42" fill="#fff" stroke="#0f64ae" stroke-width="1.35"/><ellipse cx="1260.36" cy="271.46" rx="5.28" ry="5.42" fill="#fff" stroke="#0f64ae" stroke-width="1.35"/><ellipse cx="1262.5" cy="269.01" rx="5.28" ry="5.42" fill="#fff" stroke="#0f64ae" stroke-width="1.35"/><ellipse cx="1264.64" cy="269.02" rx="5.28" ry="5.42" fill="#fff" stroke="#0f64ae" stroke-width="1.35"/><ellipse cx="1266.78" cy="268.63" rx="5.28" ry="5.42" fill="#fff" stroke="#0f64ae" stroke-width="1.35"/><ellipse cx="1268.92" cy="264.5" rx="5.28" ry="5.42" fill="#fff" stroke="#0f64ae" stroke-width="1.35"/><ellipse cx="1271.06" cy="264.5" rx="5.28" ry="5.42" fill="#fff" stroke="#0f64ae" stroke-width="1.35"/><ellipse cx="1273.2" cy="272.79" rx="5.28" ry="5.42" fill="#fff" stroke="#0f64ae" stroke-width="1.35"/><ellipse cx="1275.34" cy="261.4" rx="5.28" ry="5.42" fill="#fff" stroke="#0f64ae" stroke-width="1.35"/><ellipse cx="1277.49" cy="269.46" rx="5.28" ry="5.42" fill="#fff" stroke="#0f64ae" stroke-width="1.35"/><ellipse cx="1279.63" cy="273.69" rx="5.28" ry="5.42" fill="#fff" stroke="#0f64ae" stroke-width="1.35"/><ellipse cx="1281.77" cy="269.47" rx="5.28" ry="5.42" fill="#fff" stroke="#0f64ae" stroke-width="1.35"/><ellipse cx="1283.91" cy="272.4" rx="5.28" ry="5.42" fill="#fff" stroke="#0f64ae" stroke-width="1.35"/><ellipse cx="1286.05" cy="263.84" rx="5.28" ry="5.42" fill="#fff" stroke="#0f64ae" stroke-width="1.35"/><ellipse cx="889.5" cy="254" rx="5.28" ry="5.42" fill="#fff" stroke="#0f64ae" stroke-width="1.35"/><ellipse cx="753.6" cy="362.5" rx="5.28" ry="5.42" fill="#fff" stroke="#0f64ae" stroke-width="1.35"/><ellipse cx="752.94" cy="307.85" rx="5.95" ry="6.1" fill="#0f64ae"/><ellipse cx="755.08" cy="303.59" rx="5.95" ry="6.1" fill="#0f64ae"/><ellipse cx="757.22" cy="296.89" rx="5.95" ry="6.1" fill="#0f64ae"/><ellipse cx="759.36" cy="299.33" rx="5.95" ry="6.1" fill="#0f64ae"/><ellipse cx="761.5" cy="287.24" rx="5.95" ry="6.1" fill="#0f64ae"/><ellipse cx="763.65" cy="277.07" rx="5.95" ry="6.1" fill="#0f64ae"/><ellipse cx="765.79" cy="278.98" rx="5.95" ry="6.1" fill="#0f64ae"/><ellipse cx="767.93" cy="273.41" rx="5.95" ry="6.1" fill="#0f64ae"/><ellipse cx="770.07" cy="269.23" rx="5.95" ry="6.1" fill="#0f64ae"/><ellipse cx="772.21" cy="268.28" rx="5.95" ry="6.1" fill="#0f64ae"/><ellipse cx="774.35" cy="269.68" rx="5.95" ry="6.1" fill="#0f64ae"/><ellipse cx="776.49" cy="271.94" rx="5.95" ry="6.1" fill="#0f64ae"/><ellipse cx="778.63" cy="269.5" rx="5.95" ry="6.1" fill="#0f64ae"/><ellipse cx="780.77" cy="266.48" rx="5.95" ry="6.1" fill="#0f64ae"/><ellipse cx="782.91" cy="264.66" rx="5.95" ry="6.1" fill="#0f64ae"/><ellipse cx="785.06" cy="268.85" rx="5.95" ry="6.1" fill="#0f64ae"/><ellipse cx="787.2" cy="264.21" rx="5.95" ry="6.1" fill="#0f64ae"/><ellipse cx="789.34" cy="265.89" rx="5.95" ry="6.1" fill="#0f64ae"/><ellipse cx="791.48" cy="277.89" rx="5.95" ry="6.1" fill="#0f64ae"/><ellipse cx="793.62" cy="265.83" rx="5.95" ry="6.1" fill="#0f64ae"/><ellipse cx="795.76" cy="262.77" rx="5.95" ry="6.1" fill="#0f64ae"/><ellipse cx="797.9" cy="269.79" rx="5.95" ry="6.1" fill="#0f64ae"/><ellipse cx="800.04" cy="270.14" rx="5.95" ry="6.1" fill="#0f64ae"/><ellipse cx="802.18" cy="268.25" rx="5.95" ry="6.1" fill="#0f64ae"/><ellipse cx="804.32" cy="264.71" rx="5.95" ry="6.1" fill="#0f64ae"/><ellipse cx="806.47" cy="268.26" rx="5.95" ry="6.1" fill="#0f64ae"/><ellipse cx="808.61" cy="267.52" rx="5.95" ry="6.1" fill="#0f64ae"/><ellipse cx="810.75" cy="266.81" rx="5.95" ry="6.1" fill="#0f64ae"/><ellipse cx="812.89" cy="273.36" rx="5.95" ry="6.1" fill="#0f64ae"/><ellipse cx="815.03" cy="267.53" rx="5.95" ry="6.1" fill="#0f64ae"/><ellipse cx="817.17" cy="268.26" rx="5.95" ry="6.1" fill="#0f64ae"/><ellipse cx="819.31" cy="262.72" rx="5.95" ry="6.1" fill="#0f64ae"/><ellipse cx="821.45" cy="269.77" rx="5.95" ry="6.1" fill="#0f64ae"/><ellipse cx="823.59" cy="264.38" rx="5.95" ry="6.1" fill="#0f64ae"/><ellipse cx="825.73" cy="269.78" rx="5.95" ry="6.1" fill="#0f64ae"/><ellipse cx="827.88" cy="267.54" rx="5.95" ry="6.1" fill="#0f64ae"/><ellipse cx="830.02" cy="261.77" rx="5.95" ry="6.1" fill="#0f64ae"/><ellipse cx="832.16" cy="264.73" rx="5.95" ry="6.1" fill="#0f64ae"/><ellipse cx="834.3" cy="265.42" rx="5.95" ry="6.1" fill="#0f64ae"/><ellipse cx="836.44" cy="268.65" rx="5.95" ry="6.1" fill="#0f64ae"/><ellipse cx="838.58" cy="276.4" rx="5.95" ry="6.1" fill="#0f64ae"/><ellipse cx="840.72" cy="265.42" rx="5.95" ry="6.1" fill="#0f64ae"/><ellipse cx="842.86" cy="263.07" rx="5.95" ry="6.1" fill="#0f64ae"/><ellipse cx="845" cy="264.74" rx="5.95" ry="6.1" fill="#0f64ae"/><ellipse cx="847.14" cy="274.66" rx="5.95" ry="6.1" fill="#0f64ae"/><ellipse cx="849.29" cy="273.81" rx="5.95" ry="6.1" fill="#0f64ae"/><ellipse cx="851.43" cy="271.76" rx="5.95" ry="6.1" fill="#0f64ae"/><ellipse cx="853.57" cy="265.78" rx="5.95" ry="6.1" fill="#0f64ae"/><ellipse cx="855.71" cy="253.69" rx="5.95" ry="6.1" fill="#0f64ae"/><ellipse cx="857.85" cy="264.75" rx="5.95" ry="6.1" fill="#0f64ae"/><ellipse cx="859.99" cy="269.04" rx="5.95" ry="6.1" fill="#0f64ae"/><ellipse cx="862.13" cy="277.78" rx="5.95" ry="6.1" fill="#0f64ae"/><ellipse cx="864.27" cy="264.08" rx="5.95" ry="6.1" fill="#0f64ae"/><ellipse cx="866.41" cy="261.79" rx="5.95" ry="6.1" fill="#0f64ae"/><ellipse cx="868.55" cy="265.79" rx="5.95" ry="6.1" fill="#0f64ae"/><ellipse cx="870.7" cy="259.32" rx="5.95" ry="6.1" fill="#0f64ae"/><ellipse cx="872.84" cy="263.75" rx="5.95" ry="6.1" fill="#0f64ae"/><ellipse cx="874.98" cy="269.43" rx="5.95" ry="6.1" fill="#0f64ae"/><ellipse cx="877.12" cy="274.68" rx="5.95" ry="6.1" fill="#0f64ae"/><ellipse cx="879.26" cy="269.06" rx="5.95" ry="6.1" fill="#0f64ae"/><ellipse cx="881.4" cy="267.22" rx="5.95" ry="6.1" fill="#0f64ae"/><ellipse cx="883.54" cy="265.8" rx="5.95" ry="6.1" fill="#0f64ae"/><ellipse cx="885.68" cy="274.26" rx="5.95" ry="6.1" fill="#0f64ae"/><ellipse cx="887.82" cy="268.69" rx="5.95" ry="6.1" fill="#0f64ae"/><ellipse cx="889.96" cy="261.49" rx="5.95" ry="6.1" fill="#0f64ae"/><ellipse cx="892.11" cy="265.81" rx="5.95" ry="6.1" fill="#0f64ae"/><ellipse cx="894.25" cy="260.87" rx="5.95" ry="6.1" fill="#0f64ae"/><ellipse cx="896.39" cy="265.81" rx="5.95" ry="6.1" fill="#0f64ae"/><ellipse cx="898.53" cy="270.22" rx="5.95" ry="6.1" fill="#0f64ae"/><ellipse cx="900.67" cy="265.12" rx="5.95" ry="6.1" fill="#0f64ae"/><ellipse cx="902.81" cy="273.02" rx="5.95" ry="6.1" fill="#0f64ae"/><ellipse cx="904.95" cy="261.82" rx="5.95" ry="6.1" fill="#0f64ae"/><ellipse cx="907.09" cy="273.03" rx="5.95" ry="6.1" fill="#0f64ae"/><ellipse cx="909.23" cy="262.78" rx="5.95" ry="6.1" fill="#0f64ae"/><ellipse cx="911.38" cy="268.71" rx="5.95" ry="6.1" fill="#0f64ae"/><ellipse cx="913.52" cy="265.47" rx="5.95" ry="6.1" fill="#0f64ae"/><ellipse cx="915.66" cy="270.23" rx="5.95" ry="6.1" fill="#0f64ae"/><ellipse cx="917.8" cy="263.45" rx="5.95" ry="6.1" fill="#0f64ae"/><ellipse cx="919.94" cy="266.89" rx="5.95" ry="6.1" fill="#0f64ae"/><ellipse cx="922.08" cy="269.09" rx="5.95" ry="6.1" fill="#0f64ae"/><ellipse cx="924.22" cy="267.98" rx="5.95" ry="6.1" fill="#0f64ae"/><ellipse cx="926.36" cy="264.8" rx="5.95" ry="6.1" fill="#0f64ae"/><ellipse cx="928.5" cy="263.12" rx="5.95" ry="6.1" fill="#0f64ae"/><ellipse cx="930.64" cy="269.48" rx="5.95" ry="6.1" fill="#0f64ae"/><ellipse cx="932.78" cy="271.43" rx="5.95" ry="6.1" fill="#0f64ae"/><ellipse cx="934.93" cy="268.73" rx="5.95" ry="6.1" fill="#0f64ae"/><ellipse cx="937.07" cy="262.48" rx="5.95" ry="6.1" fill="#0f64ae"/><ellipse cx="939.21" cy="267.26" rx="5.95" ry="6.1" fill="#0f64ae"/><ellipse cx="941.35" cy="263.46" rx="5.95" ry="6.1" fill="#0f64ae"/><ellipse cx="943.49" cy="265.15" rx="5.95" ry="6.1" fill="#0f64ae"/><ellipse cx="945.63" cy="264.47" rx="5.95" ry="6.1" fill="#0f64ae"/><ellipse cx="947.77" cy="269.11" rx="5.95" ry="6.1" fill="#0f64ae"/><ellipse cx="949.91" cy="261.85" rx="5.95" ry="6.1" fill="#0f64ae"/><ellipse cx="952.05" cy="268.37" rx="5.95" ry="6.1" fill="#0f64ae"/><ellipse cx="954.19" cy="267.27" rx="5.95" ry="6.1" fill="#0f64ae"/><ellipse cx="956.34" cy="262.49" rx="5.95" ry="6.1" fill="#0f64ae"/><ellipse cx="958.48" cy="269.12" rx="5.95" ry="6.1" fill="#0f64ae"/><ellipse cx="960.62" cy="260.29" rx="5.95" ry="6.1" fill="#0f64ae"/><ellipse cx="962.76" cy="263.81" rx="5.95" ry="6.1" fill="#0f64ae"/><ellipse cx="964.9" cy="263.48" rx="5.95" ry="6.1" fill="#0f64ae"/><ellipse cx="967.04" cy="268.01" rx="5.95" ry="6.1" fill="#0f64ae"/><ellipse cx="969.18" cy="272.26" rx="5.95" ry="6.1" fill="#0f64ae"/><ellipse cx="971.32" cy="267.29" rx="5.95" ry="6.1" fill="#0f64ae"/><ellipse cx="973.46" cy="268.76" rx="5.95" ry="6.1" fill="#0f64ae"/><ellipse cx="975.61" cy="269.13" rx="5.95" ry="6.1" fill="#0f64ae"/><ellipse cx="977.75" cy="269.52" rx="5.95" ry="6.1" fill="#0f64ae"/><ellipse cx="979.89" cy="267.29" rx="5.95" ry="6.1" fill="#0f64ae"/><ellipse cx="982.03" cy="264.83" rx="5.95" ry="6.1" fill="#0f64ae"/><ellipse cx="984.17" cy="270.29" rx="5.95" ry="6.1" fill="#0f64ae"/><ellipse cx="986.31" cy="268.03" rx="5.95" ry="6.1" fill="#0f64ae"/><ellipse cx="988.45" cy="269.14" rx="5.95" ry="6.1" fill="#0f64ae"/><ellipse cx="990.59" cy="266.94" rx="5.95" ry="6.1" fill="#0f64ae"/><ellipse cx="992.73" cy="266.94" rx="5.95" ry="6.1" fill="#0f64ae"/><ellipse cx="994.87" cy="275.22" rx="5.95" ry="6.1" fill="#0f64ae"/><ellipse cx="997.01" cy="265.19" rx="5.95" ry="6.1" fill="#0f64ae"/><ellipse cx="999.16" cy="268.4" rx="5.95" ry="6.1" fill="#0f64ae"/><ellipse cx="1001.3" cy="266.95" rx="5.95" ry="6.1" fill="#0f64ae"/><ellipse cx="1003.44" cy="270.69" rx="5.95" ry="6.1" fill="#0f64ae"/><ellipse cx="1005.58" cy="272.29" rx="5.95" ry="6.1" fill="#0f64ae"/><ellipse cx="1007.72" cy="274.8" rx="5.95" ry="6.1" fill="#0f64ae"/><ellipse cx="1009.86" cy="264.18" rx="5.95" ry="6.1" fill="#0f64ae"/><ellipse cx="1012" cy="265.89" rx="5.95" ry="6.1" fill="#0f64ae"/><ellipse cx="1014.14" cy="268.42" rx="5.95" ry="6.1" fill="#0f64ae"/><ellipse cx="1016.28" cy="267.32" rx="5.95" ry="6.1" fill="#0f64ae"/><ellipse cx="1018.42" cy="262.86" rx="5.95" ry="6.1" fill="#0f64ae"/><ellipse cx="1020.57" cy="263.85" rx="5.95" ry="6.1" fill="#0f64ae"/><ellipse cx="1022.71" cy="260.95" rx="5.95" ry="6.1" fill="#0f64ae"/><ellipse cx="1024.85" cy="265.55" rx="5.95" ry="6.1" fill="#0f64ae"/><ellipse cx="1026.99" cy="263.52" rx="5.95" ry="6.1" fill="#0f64ae"/><ellipse cx="1029.13" cy="271.11" rx="5.95" ry="6.1" fill="#0f64ae"/><ellipse cx="1031.27" cy="266.26" rx="5.95" ry="6.1" fill="#0f64ae"/><ellipse cx="1033.41" cy="262.54" rx="5.95" ry="6.1" fill="#0f64ae"/><ellipse cx="1035.55" cy="264.87" rx="5.95" ry="6.1" fill="#0f64ae"/><ellipse cx="1037.69" cy="272.32" rx="5.95" ry="6.1" fill="#0f64ae"/><ellipse cx="1039.84" cy="269.56" rx="5.95" ry="6.1" fill="#0f64ae"/><ellipse cx="1041.98" cy="272.32" rx="5.95" ry="6.1" fill="#0f64ae"/><ellipse cx="1044.12" cy="273.56" rx="5.95" ry="6.1" fill="#0f64ae"/><ellipse cx="1046.26" cy="266.62" rx="5.95" ry="6.1" fill="#0f64ae"/><ellipse cx="1048.4" cy="265.57" rx="5.95" ry="6.1" fill="#0f64ae"/><ellipse cx="1050.54" cy="267.71" rx="5.95" ry="6.1" fill="#0f64ae"/><ellipse cx="1052.68" cy="270.34" rx="5.95" ry="6.1" fill="#0f64ae"/><ellipse cx="1054.82" cy="263.54" rx="5.95" ry="6.1" fill="#0f64ae"/><ellipse cx="1056.96" cy="263.21" rx="5.95" ry="6.1" fill="#0f64ae"/><ellipse cx="1059.1" cy="262.56" rx="5.95" ry="6.1" fill="#0f64ae"/><ellipse cx="1061.24" cy="269.2" rx="5.95" ry="6.1" fill="#0f64ae"/><ellipse cx="1063.39" cy="259.74" rx="5.95" ry="6.1" fill="#0f64ae"/><ellipse cx="1065.53" cy="266.28" rx="5.95" ry="6.1" fill="#0f64ae"/><ellipse cx="1067.67" cy="266.28" rx="5.95" ry="6.1" fill="#0f64ae"/><ellipse cx="1069.81" cy="265.93" rx="5.95" ry="6.1" fill="#0f64ae"/><ellipse cx="1071.95" cy="268.83" rx="5.95" ry="6.1" fill="#0f64ae"/><ellipse cx="1074.09" cy="268.09" rx="5.95" ry="6.1" fill="#0f64ae"/><ellipse cx="1076.23" cy="261.3" rx="5.95" ry="6.1" fill="#0f64ae"/><ellipse cx="1078.37" cy="267" rx="5.95" ry="6.1" fill="#0f64ae"/><ellipse cx="1080.51" cy="260.99" rx="5.95" ry="6.1" fill="#0f64ae"/><ellipse cx="1082.65" cy="271.55" rx="5.95" ry="6.1" fill="#0f64ae"/><ellipse cx="1084.8" cy="270.37" rx="5.95" ry="6.1" fill="#0f64ae"/><ellipse cx="1086.94" cy="269.98" rx="5.95" ry="6.1" fill="#0f64ae"/><ellipse cx="1089.08" cy="269.6" rx="5.95" ry="6.1" fill="#0f64ae"/><ellipse cx="1091.22" cy="267.01" rx="5.95" ry="6.1" fill="#0f64ae"/><ellipse cx="1093.36" cy="264.91" rx="5.95" ry="6.1" fill="#0f64ae"/><ellipse cx="1095.5" cy="262.91" rx="5.95" ry="6.1" fill="#0f64ae"/><ellipse cx="1097.64" cy="265.95" rx="5.95" ry="6.1" fill="#0f64ae"/><ellipse cx="1099.78" cy="268.11" rx="5.95" ry="6.1" fill="#0f64ae"/><ellipse cx="1101.92" cy="265.61" rx="5.95" ry="6.1" fill="#0f64ae"/><ellipse cx="1104.07" cy="264.59" rx="5.95" ry="6.1" fill="#0f64ae"/><ellipse cx="1106.21" cy="273.21" rx="5.95" ry="6.1" fill="#0f64ae"/><ellipse cx="1108.35" cy="265.63" rx="5.95" ry="6.1" fill="#0f64ae"/><ellipse cx="1110.49" cy="270.02" rx="5.95" ry="6.1" fill="#0f64ae"/><ellipse cx="1112.63" cy="274.49" rx="5.95" ry="6.1" fill="#0f64ae"/><ellipse cx="1114.77" cy="265.64" rx="5.95" ry="6.1" fill="#0f64ae"/><ellipse cx="1116.91" cy="267.06" rx="5.95" ry="6.1" fill="#0f64ae"/><ellipse cx="1119.05" cy="272.42" rx="5.95" ry="6.1" fill="#0f64ae"/><ellipse cx="1121.19" cy="264.62" rx="5.95" ry="6.1" fill="#0f64ae"/><ellipse cx="1123.33" cy="267.07" rx="5.95" ry="6.1" fill="#0f64ae"/><ellipse cx="1125.47" cy="264.63" rx="5.95" ry="6.1" fill="#0f64ae"/><ellipse cx="1127.62" cy="264.98" rx="5.95" ry="6.1" fill="#0f64ae"/><ellipse cx="1129.76" cy="271.24" rx="5.95" ry="6.1" fill="#0f64ae"/><ellipse cx="1131.9" cy="272.86" rx="5.95" ry="6.1" fill="#0f64ae"/><ellipse cx="1134.04" cy="272.86" rx="5.95" ry="6.1" fill="#0f64ae"/><ellipse cx="1136.18" cy="271.25" rx="5.95" ry="6.1" fill="#0f64ae"/><ellipse cx="1138.32" cy="273.29" rx="5.95" ry="6.1" fill="#0f64ae"/><ellipse cx="1140.46" cy="270.87" rx="5.95" ry="6.1" fill="#0f64ae"/><ellipse cx="1142.6" cy="267.84" rx="5.95" ry="6.1" fill="#0f64ae"/><ellipse cx="1144.74" cy="265.7" rx="5.95" ry="6.1" fill="#0f64ae"/><ellipse cx="1146.88" cy="269.34" rx="5.95" ry="6.1" fill="#0f64ae"/><ellipse cx="1149.03" cy="268.97" rx="5.95" ry="6.1" fill="#0f64ae"/><ellipse cx="1151.17" cy="270.89" rx="5.95" ry="6.1" fill="#0f64ae"/><ellipse cx="1153.31" cy="260.17" rx="5.95" ry="6.1" fill="#0f64ae"/><ellipse cx="1155.45" cy="271.3" rx="5.95" ry="6.1" fill="#0f64ae"/><ellipse cx="1157.59" cy="274.18" rx="5.95" ry="6.1" fill="#0f64ae"/><ellipse cx="1159.73" cy="269.75" rx="5.95" ry="6.1" fill="#0f64ae"/><ellipse cx="1161.87" cy="268.62" rx="5.95" ry="6.1" fill="#0f64ae"/><ellipse cx="1164.01" cy="267.16" rx="5.95" ry="6.1" fill="#0f64ae"/><ellipse cx="1166.15" cy="271.72" rx="5.95" ry="6.1" fill="#0f64ae"/><ellipse cx="1168.3" cy="267.53" rx="5.95" ry="6.1" fill="#0f64ae"/><ellipse cx="1170.44" cy="265.06" rx="5.95" ry="6.1" fill="#0f64ae"/><ellipse cx="1172.58" cy="268.65" rx="5.95" ry="6.1" fill="#0f64ae"/><ellipse cx="1174.72" cy="272.55" rx="5.95" ry="6.1" fill="#0f64ae"/><ellipse cx="1176.86" cy="272.56" rx="5.95" ry="6.1" fill="#0f64ae"/><ellipse cx="1179" cy="274.66" rx="5.95" ry="6.1" fill="#0f64ae"/><ellipse cx="1181.14" cy="275.97" rx="5.95" ry="6.1" fill="#0f64ae"/><ellipse cx="1183.28" cy="263.74" rx="5.95" ry="6.1" fill="#0f64ae"/><ellipse cx="1185.42" cy="273.82" rx="5.95" ry="6.1" fill="#0f64ae"/><ellipse cx="1187.56" cy="266.49" rx="5.95" ry="6.1" fill="#0f64ae"/><ellipse cx="1189.7" cy="273.41" rx="5.95" ry="6.1" fill="#0f64ae"/><ellipse cx="1191.85" cy="269.82" rx="5.95" ry="6.1" fill="#0f64ae"/><ellipse cx="1193.99" cy="273.01" rx="5.95" ry="6.1" fill="#0f64ae"/><ellipse cx="1196.13" cy="267.96" rx="5.95" ry="6.1" fill="#0f64ae"/><ellipse cx="1198.27" cy="264.1" rx="5.95" ry="6.1" fill="#0f64ae"/><ellipse cx="1200.41" cy="272.62" rx="5.95" ry="6.1" fill="#0f64ae"/><ellipse cx="1202.55" cy="271.81" rx="5.95" ry="6.1" fill="#0f64ae"/><ellipse cx="1204.69" cy="271.02" rx="5.95" ry="6.1" fill="#0f64ae"/><ellipse cx="1206.83" cy="269.48" rx="5.95" ry="6.1" fill="#0f64ae"/><ellipse cx="1208.97" cy="271.43" rx="5.95" ry="6.1" fill="#0f64ae"/><ellipse cx="1211.12" cy="267.26" rx="5.95" ry="6.1" fill="#0f64ae"/><ellipse cx="1213.26" cy="265.5" rx="5.95" ry="6.1" fill="#0f64ae"/><ellipse cx="1215.4" cy="272.66" rx="5.95" ry="6.1" fill="#0f64ae"/><ellipse cx="1217.54" cy="264.15" rx="5.95" ry="6.1" fill="#0f64ae"/><ellipse cx="1219.68" cy="269.89" rx="5.95" ry="6.1" fill="#0f64ae"/><ellipse cx="1221.82" cy="275.64" rx="5.95" ry="6.1" fill="#0f64ae"/><ellipse cx="1223.96" cy="264.16" rx="5.95" ry="6.1" fill="#0f64ae"/><ellipse cx="1226.1" cy="271.08" rx="5.95" ry="6.1" fill="#0f64ae"/><ellipse cx="1228.24" cy="262.85" rx="5.95" ry="6.1" fill="#0f64ae"/><ellipse cx="1230.38" cy="267.31" rx="5.95" ry="6.1" fill="#0f64ae"/><ellipse cx="1232.53" cy="278.4" rx="5.95" ry="6.1" fill="#0f64ae"/><ellipse cx="1234.67" cy="274.81" rx="5.95" ry="6.1" fill="#0f64ae"/><ellipse cx="1236.81" cy="271.5" rx="5.95" ry="6.1" fill="#0f64ae"/><ellipse cx="1238.95" cy="270.33" rx="5.95" ry="6.1" fill="#0f64ae"/><ellipse cx="1241.09" cy="267.7" rx="5.95" ry="6.1" fill="#0f64ae"/><ellipse cx="1243.23" cy="271.52" rx="5.95" ry="6.1" fill="#0f64ae"/><ellipse cx="1245.37" cy="273.57" rx="5.95" ry="6.1" fill="#0f64ae"/><ellipse cx="1247.51" cy="270.35" rx="5.95" ry="6.1" fill="#0f64ae"/><ellipse cx="1249.65" cy="268.46" rx="5.95" ry="6.1" fill="#0f64ae"/><ellipse cx="1251.79" cy="267" rx="5.95" ry="6.1" fill="#0f64ae"/><ellipse cx="1253.93" cy="268.47" rx="5.95" ry="6.1" fill="#0f64ae"/><ellipse cx="1256.08" cy="272.36" rx="5.95" ry="6.1" fill="#0f64ae"/><ellipse cx="1258.22" cy="270.77" rx="5.95" ry="6.1" fill="#0f64ae"/><ellipse cx="1260.36" cy="271.57" rx="5.95" ry="6.1" fill="#0f64ae"/><ellipse cx="1262.5" cy="274.04" rx="5.95" ry="6.1" fill="#0f64ae"/><ellipse cx="1264.64" cy="265.62" rx="5.95" ry="6.1" fill="#0f64ae"/><ellipse cx="1266.78" cy="266.33" rx="5.95" ry="6.1" fill="#0f64ae"/><ellipse cx="1268.92" cy="268.14" rx="5.95" ry="6.1" fill="#0f64ae"/><ellipse cx="1271.06" cy="271.2" rx="5.95" ry="6.1" fill="#0f64ae"/><ellipse cx="1273.2" cy="276.24" rx="5.95" ry="6.1" fill="#0f64ae"/><ellipse cx="1275.34" cy="274.93" rx="5.95" ry="6.1" fill="#0f64ae"/><ellipse cx="1277.49" cy="275.37" rx="5.95" ry="6.1" fill="#0f64ae"/><ellipse cx="1279.63" cy="262.63" rx="5.95" ry="6.1" fill="#0f64ae"/><ellipse cx="1281.77" cy="271.23" rx="5.95" ry="6.1" fill="#0f64ae"/><ellipse cx="1283.91" cy="275.83" rx="5.95" ry="6.1" fill="#0f64ae"/><ellipse cx="1286.05" cy="264.98" rx="5.95" ry="6.1" fill="#0f64ae"/><ellipse cx="753.6" cy="376" rx="5.95" ry="6.1" fill="#0f64ae"/><line x1="749.7" y1="55.8" x2="1287.3" y2="55.8" stroke="#000" stroke-width="2.2"/><line x1="749.7" y1="487" x2="1287.3" y2="487" stroke="#000" stroke-width="2.2"/><line x1="750.8" y1="55.8" x2="750.8" y2="192.6" stroke="#000" stroke-width="2.2"/><line x1="750.8" y1="199.6" x2="750.8" y2="487" stroke="#000" stroke-width="2.2"/><line x1="1286.2" y1="55.8" x2="1286.2" y2="192.6" stroke="#000" stroke-width="2.2"/><line x1="1286.2" y1="199.6" x2="1286.2" y2="487" stroke="#000" stroke-width="2.2"/><line x1="740.5" y1="196" x2="761" y2="189.2" stroke="#000" stroke-width="2.2" stroke-linecap="butt"/><line x1="740.5" y1="203.6" x2="761" y2="196.7" stroke="#000" stroke-width="2.2" stroke-linecap="butt"/><line x1="1275.9" y1="196" x2="1296.4" y2="189.2" stroke="#000" stroke-width="2.2" stroke-linecap="butt"/><line x1="1275.9" y1="203.6" x2="1296.4" y2="196.7" stroke="#000" stroke-width="2.2" stroke-linecap="butt"/><text x="0" y="0" transform="translate(750.8,513.8) scale(1,1.04)" style="font-family:'Liberation Sans',Arial,Helvetica,sans-serif;font-size:26.8px;fill:#000" text-anchor="middle">0</text><text x="0" y="0" transform="translate(857.88,513.8) scale(1,1.04)" style="font-family:'Liberation Sans',Arial,Helvetica,sans-serif;font-size:26.8px;fill:#000" text-anchor="middle">20</text><text x="0" y="0" transform="translate(964.96,513.8) scale(1,1.04)" style="font-family:'Liberation Sans',Arial,Helvetica,sans-serif;font-size:26.8px;fill:#000" text-anchor="middle">40</text><text x="0" y="0" transform="translate(1072.04,513.8) scale(1,1.04)" style="font-family:'Liberation Sans',Arial,Helvetica,sans-serif;font-size:26.8px;fill:#000" text-anchor="middle">60</text><text x="0" y="0" transform="translate(1179.12,513.8) scale(1,1.04)" style="font-family:'Liberation Sans',Arial,Helvetica,sans-serif;font-size:26.8px;fill:#000" text-anchor="middle">80</text><text x="0" y="0" transform="translate(1286.2,513.8) scale(1,1.04)" style="font-family:'Liberation Sans',Arial,Helvetica,sans-serif;font-size:26.8px;fill:#000" text-anchor="middle">100</text><g transform="matrix(1.01841,0,0,1.05128,-17.926,-28.354)"><text x="1019" y="552.9" style="font-family:'Liberation Sans',Arial,Helvetica,sans-serif;font-size:32.5px;font-weight:bold;fill:#000" text-anchor="middle">Thickness (nm)</text></g><g transform="matrix(0.97343,0,0,1.04000,17.634,-4.428)"><text x="703" y="110.7" style="font-family:'Liberation Sans',Arial,Helvetica,sans-serif;font-size:26.8px">10<tspan dy="-8.2" style="font-size:15.3px">4</tspan></text></g><g transform="matrix(1.00563,0,0,1.04000,-5.372,-11.020)"><text x="703" y="275.5" style="font-family:'Liberation Sans',Arial,Helvetica,sans-serif;font-size:26.8px">10<tspan dy="-8.2" style="font-size:15.3px">2</tspan></text></g><g transform="matrix(0.93521,0,0,1.04000,44.576,-14.964)"><text x="703" y="374.1" style="font-family:'Liberation Sans',Arial,Helvetica,sans-serif;font-size:26.8px">10<tspan dy="-8.2" style="font-size:15.3px">1</tspan></text></g><g transform="matrix(0.98462,0,0,1.04000,9.746,-18.948)"><text x="703" y="473.7" style="font-family:'Liberation Sans',Arial,Helvetica,sans-serif;font-size:26.8px">10<tspan dy="-8.2" style="font-size:15.3px">0</tspan></text></g><ellipse cx="1071.2" cy="74.6" rx="10.8" ry="10.8" fill="#000"/><ellipse cx="1071.1" cy="106.8" rx="10.07" ry="10.07" fill="#fff" stroke="#000" stroke-width="1.25"/><g transform="matrix(1.00547,0,0,1.00000,-6.072,-0.050)"><text x="1089.8" y="82.8" style="font-family:'Liberation Sans',Arial,Helvetica,sans-serif;font-size:27px;font-weight:normal;fill:#231815" text-anchor="start"><tspan>BiVO</tspan><tspan dy="9.15" style="font-size:16.1px">4</tspan><tspan dy="-9.15">/TiO</tspan><tspan dy="9.15" style="font-size:16.1px">2</tspan></text></g><g transform="matrix(1.00559,0,0,1.00000,-6.201,0.000)"><text x="1089.8" y="115.6" style="font-family:'Liberation Sans',Arial,Helvetica,sans-serif;font-size:27px;font-weight:normal;fill:#231815" text-anchor="start"><tspan>BiVO</tspan><tspan dy="9.15" style="font-size:16.1px">4</tspan><tspan dy="-9.15">/PEI/TiO</tspan><tspan dy="9.15" style="font-size:16.1px">2</tspan></text></g><g transform="matrix(1.02000,0,0,1.03000,-17.135,-3.764)"><text x="881.5" y="123.9" style="font-family:'Liberation Sans',Arial,Helvetica,sans-serif;font-size:26.2px;font-weight:normal;fill:#231815" text-anchor="start">Carbon</text></g><g transform="matrix(1.02500,0,0,1.03000,-20.081,-6.995)"><text x="873.5" y="240.9" style="font-family:'Liberation Sans',Arial,Helvetica,sans-serif;font-size:26.5px;font-weight:normal;fill:#0f64ae" text-anchor="start">Titanium</text></g><g transform="matrix(1.02000,0,0,1.03000,-17.903,-9.869)"><text x="876" y="329.9" style="font-family:'Liberation Sans',Arial,Helvetica,sans-serif;font-size:26.5px;font-weight:normal;fill:#00857f" text-anchor="start">Nitrogen</text></g><g transform="matrix(1.02991,0,0,1.02309,-20.608,-5.897)"><text x="0" y="0" style="font-family:'Liberation Sans',Arial,Helvetica,sans-serif;font-size:32.5px;font-weight:bold;fill:#000" text-anchor="middle" transform="translate(688.9,270.8) rotate(-90)">Intensity (a.u.)</text></g><g transform="matrix(0.99417,0,0,0.96300,2.897,1.091)"><text x="665.5" y="35.8" style="font-family:'Liberation Sans',Arial,Helvetica,sans-serif;font-size:51.5px;font-weight:bold;fill:#231815" text-anchor="start">b</text></g><path d="M1397.2 172.93L1397.5 171.9L1397.8 172.22L1398.1 171.02L1398.4 172.18L1398.7 172.95L1399 172.68L1399.3 172.42L1399.6 171.67L1399.9 171.32L1400.2 171.96L1400.5 171.03L1400.8 171.1L1401.1 172.7L1401.4 171.31L1401.7 173.31L1402 170.91L1402.3 172.28L1402.6 171.07L1402.9 172.06L1403.2 171.15L1403.5 171.94L1403.8 171.78L1404.1 171.55L1404.4 172.26L1404.7 172.99L1405 171.42L1405.3 172.5L1405.6 171.9L1405.9 171.8L1406.2 173.44L1406.5 170.19L1406.8 171.28L1407.1 170.43L1407.4 171.53L1407.7 171.58L1408 174.57L1408.3 171.99L1408.6 173.05L1408.9 172.67L1409.2 171.37L1409.5 172.04L1409.8 172.92L1410.1 171.79L1410.4 171.81L1410.7 172.02L1411 170.51L1411.3 171.02L1411.6 171.86L1411.9 172L1412.2 170.9L1412.5 171.33L1412.8 171.47L1413.1 171.44L1413.4 172.06L1413.7 171.61L1414 171.64L1414.3 170.45L1414.6 170.71L1414.9 171.72L1415.2 170.29L1415.5 171.66L1415.8 170.96L1416.1 170.83L1416.4 171.91L1416.7 170.91L1417 170.76L1417.3 170.89L1417.6 171.42L1417.9 173.41L1418.2 169.78L1418.5 171.33L1418.8 171.15L1419.1 172.03L1419.4 171.03L1419.7 169.46L1420 172.27L1420.3 170.46L1420.6 171.22L1420.9 170.23L1421.2 170.42L1421.5 170.86L1421.8 171.85L1422.1 171.83L1422.4 170.75L1422.7 171.55L1423 170.89L1423.3 171.24L1423.6 171.26L1423.9 171.59L1424.2 170.66L1424.5 171.01L1424.8 171.26L1425.1 171.15L1425.4 170.48L1425.7 172.34L1426 170.7L1426.3 171.6L1426.6 171.18L1426.9 171.92L1427.2 169.37L1427.5 172.52L1427.8 170.82L1428.1 170.05L1428.4 171.05L1428.7 172.62L1429 171.3L1429.3 170L1429.6 170.56L1429.9 171.89L1430.2 169.84L1430.5 170.74L1430.8 170.65L1431.1 172.47L1431.4 170.63L1431.7 171.82L1432 170.33L1432.3 170.23L1432.6 171.56L1432.9 171.27L1433.2 169.51L1433.5 171.27L1433.8 171.26L1434.1 170.32L1434.4 170.93L1434.7 170.96L1435 170.39L1435.3 170.3L1435.6 170.23L1435.9 170.52L1436.2 169.72L1436.5 170.67L1436.8 169.58L1437.1 170.74L1437.4 170.61L1437.7 169.89L1438 171.29L1438.3 172.09L1438.6 171.62L1438.9 169.61L1439.2 171.56L1439.5 170.77L1439.8 170.55L1440.1 170.14L1440.4 170.56L1440.7 171.59L1441 170.95L1441.3 170.22L1441.6 170.02L1441.9 170.19L1442.2 170.93L1442.5 171.86L1442.8 169.67L1443.1 170.43L1443.4 170.12L1443.7 169.82L1444 170.64L1444.3 170.71L1444.6 169.19L1444.9 169.4L1445.2 170.96L1445.5 170.2L1445.8 170.21L1446.1 169.28L1446.4 169.18L1446.7 169.59L1447 168.65L1447.3 167.96L1447.6 168.57L1447.9 169.05L1448.2 167.47L1448.5 168.95L1448.8 168.68L1449.1 167.6L1449.4 168.38L1449.7 168.53L1450 169.24L1450.3 169.47L1450.6 168.21L1450.9 168.36L1451.2 170.29L1451.5 169.74L1451.8 170.08L1452.1 170.1L1452.4 171.06L1452.7 169.07L1453 170.81L1453.3 169.41L1453.6 170.57L1453.9 171.03L1454.2 169L1454.5 170.32L1454.8 169.81L1455.1 169.79L1455.4 170.03L1455.7 169.21L1456 169.26L1456.3 170.45L1456.6 170.57L1456.9 169.51L1457.2 168.84L1457.5 171.62L1457.8 170.7L1458.1 170.13L1458.4 169.08L1458.7 169.39L1459 169.98L1459.3 169.07L1459.6 170.94L1459.9 169.83L1460.2 169.99L1460.5 168.91L1460.8 168.97L1461.1 169.03L1461.4 169.78L1461.7 169.35L1462 169.29L1462.3 169.7L1462.6 169.59L1462.9 170.48L1463.2 169.18L1463.5 168.53L1463.8 169.21L1464.1 170.24L1464.4 168.68L1464.7 169.05L1465 168.67L1465.3 169.2L1465.6 169.03L1465.9 168.18L1466.2 168.51L1466.5 169.26L1466.8 169.21L1467.1 168.86L1467.4 168.53L1467.7 167.27L1468 166.76L1468.3 167.08L1468.6 164.72L1468.9 164.53L1469.2 161.96L1469.5 161.55L1469.8 159.53L1470.1 157.1L1470.4 156.07L1470.7 152.5L1471 149.97L1471.3 147.11L1471.6 143.77L1471.9 142.46L1472.2 138.38L1472.5 136.63L1472.8 133.84L1473.1 133.52L1473.4 133.53L1473.7 134.29L1474 135.62L1474.3 138.34L1474.6 142.02L1474.9 143.7L1475.2 146.76L1475.5 149.63L1475.8 154.73L1476.1 156.82L1476.4 158.56L1476.7 160.91L1477 161.83L1477.3 163.93L1477.6 165.61L1477.9 166.71L1478.2 166.95L1478.5 167.78L1478.8 169.36L1479.1 169.71L1479.4 168.33L1479.7 170.27L1480 171.41L1480.3 170.18L1480.6 170.99L1480.9 169.87L1481.2 171.66L1481.5 170.32L1481.8 170.3L1482.1 171.06L1482.4 173.11L1482.7 170.97L1483 170.54L1483.3 171.86L1483.6 171.73L1483.9 172.82L1484.2 170.71L1484.5 170.5L1484.8 171.47L1485.1 172L1485.4 172.01L1485.7 172.56L1486 170.68L1486.3 171.19L1486.6 171.71L1486.9 172.43L1487.2 172.17L1487.5 171.52L1487.8 171.07L1488.1 172.47L1488.4 172.52L1488.7 173.8L1489 171.67L1489.3 172.97L1489.6 170.87L1489.9 171.34L1490.2 171.21L1490.5 171.34L1490.8 171L1491.1 171.2L1491.4 171.51L1491.7 171.16L1492 171.91L1492.3 171.3L1492.6 171.27L1492.9 172.27L1493.2 171.31L1493.5 171.07L1493.8 170.81L1494.1 170.71L1494.4 170.91L1494.7 169.69L1495 170.85L1495.3 170.82L1495.6 170.08L1495.9 168.29L1496.2 166.72L1496.5 166.55L1496.8 165.65L1497.1 164.39L1497.4 161.38L1497.7 158.41L1498 156.18L1498.3 150.23L1498.6 146.38L1498.9 140.36L1499.2 132.13L1499.5 126.21L1499.8 118.23L1500.1 110.66L1500.4 103.26L1500.7 97.79L1501 95.2L1501.3 92.68L1501.6 93.59L1501.9 95.35L1502.2 100.61L1502.5 106.8L1502.8 112.9L1503.1 120.23L1503.4 129.15L1503.7 135.95L1504 141.59L1504.3 147.91L1504.6 153.4L1504.9 158.39L1505.2 159.79L1505.5 163.62L1505.8 166.87L1506.1 167.03L1506.4 169.34L1506.7 167.34L1507 171.07L1507.3 170.59L1507.6 169.7L1507.9 172.04L1508.2 172.56L1508.5 172.95L1508.8 173.18L1509.1 172.49L1509.4 172.15L1509.7 172.53L1510 173L1510.3 173.47L1510.6 172.95L1510.9 173.47L1511.2 174.19L1511.5 173.9L1511.8 175.44L1512.1 175.44L1512.4 173.09L1512.7 173.6L1513 173.13L1513.3 173.31L1513.6 174.63L1513.9 173.55L1514.2 173.56L1514.5 174.17L1514.8 174.98L1515.1 174.14L1515.4 174.13L1515.7 175.02L1516 174.61L1516.3 174.46L1516.6 174.63L1516.9 172.9L1517.2 173.42L1517.5 172.31L1517.8 172.91L1518.1 172.01L1518.4 169.77L1518.7 170.55L1519 167.65L1519.3 168.31L1519.6 166.57L1519.9 164.87L1520.2 164L1520.5 164.22L1520.8 164.4L1521.1 164.24L1521.4 165.86L1521.7 165.33L1522 167.43L1522.3 168.58L1522.6 168.34L1522.9 171.03L1523.2 170.86L1523.5 170.83L1523.8 172.97L1524.1 173.89L1524.4 175.24L1524.7 174.63L1525 176.4L1525.3 176.63L1525.6 176.58L1525.9 176.91L1526.2 176.32L1526.5 175.76L1526.8 176.74L1527.1 177.05L1527.4 176.58L1527.7 176.29L1528 175.37L1528.3 177.08L1528.6 176.89L1528.9 175.72L1529.2 176.81L1529.5 177.31L1529.8 176.74L1530.1 177.45L1530.4 177.47L1530.7 175.86L1531 176.77L1531.3 177.39L1531.6 177.75L1531.9 178.15L1532.2 175.72L1532.5 177.13L1532.8 177.74L1533.1 178.16L1533.4 178.53L1533.7 176.63L1534 177.08L1534.3 176.61L1534.6 178.03L1534.9 176.47L1535.2 178.36L1535.5 178.21L1535.8 177.91L1536.1 175.97L1536.4 177.1L1536.7 178.19L1537 176.62L1537.3 177.52L1537.6 177.65L1537.9 178.41L1538.2 177.99L1538.5 178.01L1538.8 177.51L1539.1 177.87L1539.4 177.79L1539.7 178.46L1540 177.81L1540.3 178.74L1540.6 176.74L1540.9 178.92L1541.2 177.93L1541.5 178.92L1541.8 178.17L1542.1 178.76L1542.4 179.26L1542.7 177.77L1543 178.27L1543.3 178.1L1543.6 178.41L1543.9 177.08L1544.2 178.18L1544.5 178.14L1544.8 177.77L1545.1 178.23L1545.4 177.25L1545.7 179.45L1546 178.77L1546.3 179.85L1546.6 177.83L1546.9 177.63L1547.2 178.72L1547.5 177.29L1547.8 178.71L1548.1 178.04L1548.4 178.32L1548.7 178.76L1549 178.62L1549.3 179.96L1549.6 179.05L1549.9 177.61L1550.2 179.28L1550.5 177.53L1550.8 178.55L1551.1 177.51L1551.4 177.76L1551.7 179.27L1552 177.78L1552.3 177.6L1552.6 177.52L1552.9 177.54L1553.2 178.65L1553.5 176.5L1553.8 176.23L1554.1 177.32L1554.4 175.43L1554.7 176.05L1555 176.86L1555.3 175.72L1555.6 175.07L1555.9 174.61L1556.2 174.2L1556.5 174.21L1556.8 174.57L1557.1 175.27L1557.4 175L1557.7 173.88L1558 173.84L1558.3 175.05L1558.6 173.4L1558.9 174.69L1559.2 175.07L1559.5 174.82L1559.8 175.25L1560.1 176.59L1560.4 175.46L1560.7 176.34L1561 176.87L1561.3 177.72L1561.6 176.93L1561.9 179.01L1562.2 178.21L1562.5 178.46L1562.8 178.57L1563.1 178.5L1563.4 178.41L1563.7 180.09L1564 179.47L1564.3 179.29L1564.6 180.11L1564.9 178.81L1565.2 179.71L1565.5 179.1L1565.8 178.21L1566.1 179.17L1566.4 177.21L1566.7 178.5L1567 177.11L1567.3 177.91L1567.6 178.62L1567.9 178.15L1568.2 177.54L1568.5 178.27L1568.8 178.33L1569.1 178.01L1569.4 178.28L1569.7 179.28L1570 179.7L1570.3 178.01L1570.6 179.18L1570.9 179.46L1571.2 178.93L1571.5 177.81L1571.8 178.94L1572.1 176.84L1572.4 177.72L1572.7 177.88L1573 174.62L1573.3 175.73L1573.6 175.2L1573.9 174.62L1574.2 173.46L1574.5 173.48L1574.8 172.53L1575.1 173.69L1575.4 174.19L1575.7 173.68L1576 174L1576.3 174.94L1576.6 175.95L1576.9 176.7L1577.2 177.27L1577.5 178.07L1577.8 177.68L1578.1 177.22L1578.4 180.21L1578.7 181.26L1579 179.57L1579.3 180.47L1579.6 181.47L1579.9 182.2L1580.2 182.18L1580.5 182.82L1580.8 181.99L1581.1 182.46L1581.4 182.57L1581.7 182.05L1582 183.34L1582.3 182.96L1582.6 183.25L1582.9 182.28L1583.2 183.35L1583.5 181.84L1583.8 182.93L1584.1 180.74L1584.4 181.94L1584.7 183.24L1585 182.38L1585.3 182.86L1585.6 181.55L1585.9 183.89L1586.2 183.21L1586.5 182.76L1586.8 183.1L1587.1 183.04L1587.4 183.85L1587.7 182.97L1588 181.74L1588.3 182.64L1588.6 183.77L1588.9 183.25L1589.2 182.52L1589.5 183.28L1589.8 182.92L1590.1 183.28L1590.4 181.66L1590.7 182.16L1591 183.3L1591.3 182.64L1591.6 183.05L1591.9 184.22L1592.2 182.54L1592.5 182.93L1592.8 182.32L1593.1 182.25L1593.4 182.63L1593.7 181.59L1594 181.08L1594.3 183.59L1594.6 182.47L1594.9 183.33L1595.2 182.54L1595.5 182.51L1595.8 182.83L1596.1 182.79L1596.4 181.31L1596.7 182.99L1597 181.3L1597.3 182.05L1597.6 183.64L1597.9 181.69L1598.2 182.68L1598.5 181.01L1598.8 181.48L1599.1 180.78L1599.4 180.68L1599.7 179.27L1600 178.59L1600.3 178.68L1600.6 176.2L1600.9 175.29L1601.2 174.51L1601.5 171.19L1601.8 167.97L1602.1 164.09L1602.4 160.54L1602.7 154.92L1603 149.33L1603.3 142.49L1603.6 136.96L1603.9 128.11L1604.2 120.05L1604.5 115.3L1604.8 110.16L1605.1 106.98L1605.4 104.56L1605.7 107.74L1606 110.22L1606.3 115.3L1606.6 120.48L1606.9 128.98L1607.2 135.8L1607.5 143.9L1607.8 149.23L1608.1 154.64L1608.4 160.92L1608.7 164.67L1609 169.4L1609.3 171.37L1609.6 174.5L1609.9 176.34L1610.2 177.96L1610.5 178.74L1610.8 179.39L1611.1 180.6L1611.4 180.74L1611.7 181.69L1612 181.71L1612.3 180.54L1612.6 182.37L1612.9 183.63L1613.2 183L1613.5 183.35L1613.8 183.37L1614.1 182.8L1614.4 182.27L1614.7 183.91L1615 184.17L1615.3 183.89L1615.6 183.85L1615.9 183.88L1616.2 183.63L1616.5 183.9L1616.8 183.75L1617.1 184.02L1617.4 183.13L1617.7 183.4L1618 184.3L1618.3 183.66L1618.6 182.18L1618.9 184.05L1619.2 182.32L1619.5 185.38L1619.8 184.53L1620.1 184.51L1620.4 183.55L1620.7 183.22L1621 183.89L1621.3 184.06L1621.6 183.49L1621.9 184.16L1622.2 184.54L1622.5 184.46L1622.8 183.27L1623.1 182.43L1623.4 183.97L1623.7 183.45L1624 184.2L1624.3 185L1624.6 184.92L1624.9 183.85L1625.2 184.33L1625.5 184.57L1625.8 183.26L1626.1 183.25L1626.4 183.52L1626.7 182.7L1627 182.15L1627.3 181.73L1627.6 182.02L1627.9 181.28L1628.2 182.01L1628.5 180.9L1628.8 181.9L1629.1 181.44L1629.4 179.44L1629.7 180.91L1630 179.71L1630.3 180.92L1630.6 180.33L1630.9 180.05L1631.2 180.76L1631.5 180.15L1631.8 181.12L1632.1 181.54L1632.4 181.57L1632.7 182.39L1633 181.83L1633.3 183.38L1633.6 182.54L1633.9 184.25L1634.2 184.52L1634.5 185.04L1634.8 184.46L1635.1 187.32L1635.4 185.25L1635.7 185.76L1636 185.32L1636.3 187.07L1636.6 185.89L1636.9 187.08L1637.2 185.84L1637.5 186.86L1637.8 186.48L1638.1 187.52L1638.4 186.74L1638.7 186.43L1639 187.45L1639.3 186.36L1639.6 186.61L1639.9 187.92L1640.2 186.08L1640.5 187.96L1640.8 187.14L1641.1 186.78L1641.4 187.61L1641.7 187.89L1642 187.03L1642.3 187.32L1642.6 188.02L1642.9 187.99L1643.2 187.42L1643.5 186.91L1643.8 186.79L1644.1 187.04L1644.4 187.95L1644.7 187.87L1645 187.68L1645.3 188.45L1645.6 187.25L1645.9 187.19L1646.2 187.19L1646.5 188.81L1646.8 186L1647.1 187.66L1647.4 187.77L1647.7 187.49L1648 189.1L1648.3 188.27L1648.6 187.99L1648.9 186.8L1649.2 187.78L1649.5 187.16L1649.8 187.45L1650.1 187.56L1650.4 187.07L1650.7 187.85L1651 188.55L1651.3 188.12L1651.6 187.53L1651.9 186L1652.2 188.13L1652.5 188.11L1652.8 187.19L1653.1 186.97L1653.4 187.76L1653.7 186.69L1654 187.79L1654.3 186.43L1654.6 186.49L1654.9 187.09L1655.2 185.96L1655.5 186.89L1655.8 187.14L1656.1 185.68L1656.4 187.08L1656.7 185.82L1657 186.35L1657.3 185.85L1657.6 185.09L1657.9 184.72L1658.2 183.56L1658.5 183.93L1658.8 183.55L1659.1 184.95L1659.4 184.26L1659.7 182.39L1660 183.82L1660.3 183.41L1660.6 183.09L1660.9 183.87L1661.2 184.37L1661.5 183.73L1661.8 184.3L1662.1 184.97L1662.4 184.53L1662.7 185.71L1663 185.86L1663.3 185.75L1663.6 185.91L1663.9 186.95L1664.2 187.56L1664.5 187.35L1664.8 186.67L1665.1 187.92L1665.4 187.61L1665.7 187.99L1666 188.46L1666.3 187.07L1666.6 187.65L1666.9 187.37L1667.2 187.21L1667.5 189.27L1667.8 188.55L1668.1 186.67L1668.4 188.22L1668.7 187.54L1669 188.74L1669.3 188L1669.6 187.83L1669.9 188.05L1670.2 188.22L1670.5 187.96L1670.8 187.78L1671.1 187.82L1671.4 188.25L1671.7 187.07L1672 187.82L1672.3 187.69L1672.6 187.37L1672.9 188.16L1673.2 186.65L1673.5 187.21L1673.8 186.76L1674.1 187.63L1674.4 186.81L1674.7 187.06L1675 187.19L1675.3 185.7L1675.6 187.07L1675.9 186.19L1676.2 186.52L1676.5 186.64L1676.8 187.34L1677.1 187.38L1677.4 188.2L1677.7 187.2L1678 186.87L1678.3 186.98L1678.6 187.91L1678.9 188.69L1679.2 187.92L1679.5 187.37L1679.8 188.05L1680.1 188.11L1680.4 188.02L1680.7 187.53L1681 186.31L1681.3 187.75L1681.6 188.89L1681.9 188.33L1682.2 186.65L1682.5 188.22L1682.8 186.93L1683.1 189.63L1683.4 188.38L1683.7 187.41L1684 188.82L1684.3 187.72L1684.6 188.67L1684.9 188.3L1685.2 187.46L1685.5 188.76L1685.8 187.36L1686.1 189.24L1686.4 188.34L1686.7 187.58L1687 187.04L1687.3 189.44L1687.6 189.32L1687.9 187.43L1688.2 189.46L1688.5 188.43L1688.8 188.15L1689.1 188.24L1689.4 188.11L1689.7 189.3L1690 188.4L1690.3 187L1690.6 189.75L1690.9 188.89L1691.2 187.5L1691.5 188L1691.8 187.6L1692.1 188.24L1692.4 188.46L1692.7 188.32L1693 187.69L1693.3 187.5L1693.6 188.59L1693.9 187.85L1694.2 189.41L1694.5 187.17L1694.8 188.17L1695.1 187.52L1695.4 186.8L1695.7 188.11L1696 187.05L1696.3 186.13L1696.6 186.3L1696.9 186.99L1697.2 185.16L1697.5 186.71L1697.8 185.94L1698.1 184.98L1698.4 185.84L1698.7 185.84L1699 184.78L1699.3 184.25L1699.6 185.23L1699.9 184.83L1700.2 183.03L1700.5 183.48L1700.8 183.48L1701.1 183.41L1701.4 182.77L1701.7 184.62L1702 184.25L1702.3 184.49L1702.6 185.67L1702.9 184.55L1703.2 185.18L1703.5 185.69L1703.8 185.45L1704.1 185.92L1704.4 186.76L1704.7 186.42L1705 187.52L1705.3 186.19L1705.6 186.95L1705.9 185.85L1706.2 186.76L1706.5 186.29L1706.8 187.63L1707.1 187.02L1707.4 186.62L1707.7 187.27L1708 186.65L1708.3 185.76L1708.6 184.35L1708.9 183.39L1709.2 183.96L1709.5 183.32L1709.8 182.76L1710.1 182.72L1710.4 181.56L1710.7 183.69L1711 181.84L1711.3 182.27L1711.6 183.29L1711.9 181.91L1712.2 183.88L1712.5 184.03L1712.8 183.22L1713.1 182.68L1713.4 183.02L1713.7 181.88L1714 183.92L1714.3 182.67L1714.6 181.76L1714.9 181.27L1715.2 181.97L1715.5 182.34L1715.8 180.2L1716.1 180.64L1716.4 179.91L1716.7 181.9L1717 181.93L1717.3 183.93L1717.6 182.83L1717.9 183.24L1718.2 183.68L1718.5 185.42L1718.8 184.26L1719.1 186.5L1719.4 186.64L1719.7 186.55L1720 186.66L1720.3 188.38L1720.6 189.22L1720.9 187.81L1721.2 188.69L1721.5 189.71L1721.8 188.15L1722.1 188.51L1722.4 187.9L1722.7 188.73L1723 188.83L1723.3 188.64L1723.6 188.45L1723.9 187.88L1724.2 188.08L1724.5 188.37L1724.8 189.55L1725.1 188.75L1725.4 188.53L1725.7 189.63L1726 189.58L1726.3 188.66L1726.6 188.77L1726.9 189.7L1727.2 189.51L1727.5 188.67L1727.8 189.45L1728.1 189.27L1728.4 190.1L1728.7 188.7L1729 189.96L1729.3 189.65L1729.6 188.64L1729.9 190.12L1730.2 190.03L1730.5 188.45L1730.8 190.82L1731.1 188.59L1731.4 188.76L1731.7 189.2L1732 189.99L1732.3 189.87L1732.6 189.39L1732.9 190.45L1733.2 189.77L1733.5 190.48L1733.8 191.51L1734.1 189.64L1734.4 187.66L1734.7 189.19L1735 188.75L1735.3 189.6L1735.6 189.61L1735.9 188.66L1736.2 188.72L1736.5 189.37L1736.8 189.42L1737.1 187.69L1737.4 190.27L1737.7 189.6L1738 189.57L1738.3 189.8L1738.6 188.85L1738.9 189.56L1739.2 190.35L1739.5 190.38L1739.8 189.93L1740.1 189.4L1740.4 189L1740.7 190.55L1741 189.97L1741.3 189.28L1741.6 188.01L1741.9 188.94L1742.2 188.16L1742.5 190.45L1742.8 189.66L1743.1 188.96L1743.4 189.27L1743.7 191.32L1744 190.27L1744.3 188.34L1744.6 189.16L1744.9 188.28L1745.2 187.82L1745.5 189.09L1745.8 190.6L1746.1 189.82L1746.4 188.55L1746.7 188.07L1747 188.3L1747.3 188.72L1747.6 186.68L1747.9 186.16L1748.2 188.7L1748.5 187.3L1748.8 188.07L1749.1 186.86L1749.4 187.58L1749.7 185.88L1750 186.56L1750.3 187.24L1750.6 186.79L1750.9 185.67L1751.2 186.69L1751.5 185.6L1751.8 185.13L1752.1 186.7L1752.4 187.5L1752.7 187.26L1753 185.88L1753.3 187.65L1753.6 187.69L1753.9 187.04L1754.2 185.71L1754.5 188.48L1754.8 188.54L1755.1 188.4L1755.4 186.87L1755.7 187.17L1756 189.13L1756.3 189.06L1756.6 188.9L1756.9 188.4L1757.2 188.92L1757.5 188.25L1757.8 188.43L1758.1 188.02L1758.4 188.85L1758.7 188.32L1759 189.31L1759.3 189.08L1759.6 187.87L1759.9 189.76L1760.2 187.44L1760.5 188.48L1760.8 188.77L1761.1 188.66L1761.4 185.73L1761.7 187.69L1762 187.29L1762.3 186.75L1762.6 183.14L1762.9 183.24L1763.2 182.42L1763.5 180.72L1763.8 180.44L1764.1 177.17L1764.4 176.75L1764.7 174.39L1765 171.1L1765.3 169.85L1765.6 168.98L1765.9 168.58L1766.2 168.98L1766.5 168.4L1766.8 170.07L1767.1 169.5L1767.4 170.02L1767.7 173.87L1768 176.36L1768.3 177.62L1768.6 178.92L1768.9 181.64L1769.2 184.24L1769.5 183.99L1769.8 184.62L1770.1 185.43L1770.4 188.28L1770.7 187.36L1771 188.32L1771.3 189.14L1771.6 189.32L1771.9 188.04L1772.2 189.62L1772.5 189.68L1772.8 189.53L1773.1 190.01L1773.4 188.91L1773.7 189.34L1774 189.06L1774.3 190.08L1774.6 189.07L1774.9 189.89L1775.2 188.82L1775.5 189.58L1775.8 189.44L1776.1 189.65L1776.4 189.87L1776.7 189.66L1777 189.65L1777.3 188.29L1777.6 190.69L1777.9 189.41L1778.2 189.71L1778.5 189.29L1778.8 190.67L1779.1 189.25L1779.4 190.31L1779.7 190.81L1780 191.16L1780.3 190.79L1780.6 190.33L1780.9 188.93L1781.2 190.74L1781.5 190.59L1781.8 190.24L1782.1 190.1L1782.4 189.41L1782.7 188.8L1783 189.79L1783.3 189.69L1783.6 187.68L1783.9 188.83L1784.2 187.97L1784.5 188.07L1784.8 187.2L1785.1 187.4L1785.4 186.9L1785.7 186.37L1786 184.27L1786.3 185.57L1786.6 184.71L1786.9 183.63L1787.2 184.91L1787.5 183.38L1787.8 185.21L1788.1 186.04L1788.4 184.71L1788.7 186.15L1789 186.21L1789.3 186.8L1789.6 185.74L1789.9 187.64L1790.2 187.69L1790.5 188.52L1790.8 188.32L1791.1 189.44L1791.4 189.09L1791.7 189.63L1792 190.33L1792.3 189.61L1792.6 190.34L1792.9 189.87L1793.2 190.16L1793.5 189.44L1793.8 190.43L1794.1 190.78L1794.4 189.8L1794.7 190.42L1795 190.11L1795.3 188.9L1795.6 189.89L1795.9 190.5L1796.2 189.02L1796.5 187.9L1796.8 189.18L1797.1 188.34L1797.4 189.97L1797.7 188.27L1798 188.01L1798.3 187.23L1798.6 187.56L1798.9 186.63L1799.2 186.06L1799.5 186.38L1799.8 185.55L1800.1 186.89L1800.4 184.88L1800.7 185.58L1801 185.09L1801.3 184.63L1801.6 186.99L1801.9 184.41L1802.2 187.28L1802.5 185.46L1802.8 186.88L1803.1 188.82L1803.4 185.93L1803.7 186.82L1804 189.13L1804.3 188.6L1804.6 188.35L1804.9 188.99L1805.2 188.54L1805.5 189.55L1805.8 190.75L1806.1 189.53L1806.4 190.05L1806.7 190.94L1807 191.62L1807.3 189.81L1807.6 190.53L1807.9 189.95L1808.2 189.93L1808.5 190.14L1808.8 189.99L1809.1 189.2L1809.4 189.02L1809.7 189.96L1810 190.6L1810.3 191.41L1810.6 190.13L1810.9 190.4L1811.2 191.01L1811.5 191.07L1811.8 190.44L1812.1 190.49L1812.4 191.9L1812.7 190.28L1813 190.16L1813.3 189.33L1813.6 190.84L1813.9 190.33L1814.2 191.92L1814.5 190.27L1814.8 191.11L1815.1 191.19L1815.4 191.71L1815.7 189.54L1816 191.65L1816.3 190.5L1816.6 190.41L1816.9 190.26L1817.2 190.19L1817.5 190.22L1817.8 188.76L1818.1 190.84L1818.4 190.51L1818.7 189.76L1819 190.4L1819.3 192.13L1819.6 190.72L1819.9 190.15L1820.2 191.68L1820.5 189.84L1820.8 190.3L1821.1 190.01L1821.4 190.23L1821.7 190.94L1822 190.82L1822.3 189.85L1822.6 190.29L1822.9 190.44L1823.2 190.07L1823.5 190.34L1823.8 189.83L1824.1 189.81L1824.4 190.37L1824.7 189.58L1825 190.63L1825.3 190.18L1825.6 189.64L1825.9 189.86L1826.2 189.95L1826.5 190.18L1826.8 190.37L1827.1 190.13L1827.4 189.64L1827.7 191.31L1828 190.92L1828.3 190.33L1828.6 190.94L1828.9 190.47L1829.2 190.04L1829.5 190.28L1829.8 192.15L1830.1 190.93L1830.4 190.95L1830.7 189.9L1831 190.62L1831.3 191.81L1831.6 190.47L1831.9 190.93L1832.2 191.06L1832.5 190.6L1832.8 191.27L1833.1 190.28L1833.4 190.47L1833.7 189.64L1834 192L1834.3 190.29L1834.6 190.14L1834.9 191.06L1835.2 189.66L1835.5 189.97L1835.8 189.36L1836.1 189.9L1836.4 189.55L1836.7 190.18L1837 189.65L1837.3 189.25L1837.6 189.42L1837.9 189.49L1838.2 189.15L1838.5 190.14L1838.8 189.89L1839.1 189.44L1839.4 188.4L1839.7 189.57L1840 188.19L1840.3 189.17L1840.6 188.99L1840.9 188.44L1841.2 188.17L1841.5 188.18L1841.8 190.07L1842.1 188.29L1842.4 188.23L1842.7 188.97L1843 188.47L1843.3 188.83L1843.6 187.07L1843.9 187.06L1844.2 190.16L1844.5 187.62L1844.8 187.34L1845.1 187.58L1845.4 188.11L1845.7 186.48L1846 187.49L1846.3 187.22L1846.6 187.7L1846.9 187.31L1847.2 186.79L1847.5 186.54L1847.8 185.41L1848.1 187.89L1848.4 186.13L1848.7 186.92L1849 188.43L1849.3 186.94L1849.6 187.7L1849.9 187.12L1850.2 187.79L1850.5 187.31L1850.8 186.92L1851.1 188.26L1851.4 187.08L1851.7 186.28L1852 186.98L1852.3 187.57L1852.6 186.33L1852.9 187.64L1853.2 187.56L1853.5 188.46L1853.8 186.38L1854.1 187.23L1854.4 185.45L1854.7 186.24L1855 186.51L1855.3 186.61L1855.6 186.15L1855.9 186L1856.2 185.5L1856.5 185.5L1856.8 185.92L1857.1 185.99L1857.4 185.93L1857.7 186.09L1858 186.14L1858.3 183.9L1858.6 184.76L1858.9 184.97L1859.2 184.58L1859.5 185.78L1859.8 185.57L1860.1 184.97L1860.4 185.16L1860.7 186.03L1861 184.93L1861.3 185.02L1861.6 185.98L1861.9 185.75L1862.2 186.57L1862.5 185.96L1862.8 186.39L1863.1 185.61L1863.4 185.48L1863.7 186.3L1864 184.55L1864.3 186.9L1864.6 187.45L1864.9 186.95L1865.2 186.87L1865.5 187.95L1865.8 187.26L1866.1 188.11L1866.4 189.1L1866.7 188.15L1867 188.41L1867.3 188.18L1867.6 188.1L1867.9 188.2L1868.2 188.13L1868.5 188.94L1868.8 187.07L1869.1 188.1L1869.4 188.83L1869.7 187.81L1870 188.39L1870.3 188.02L1870.6 188.89L1870.9 189.24L1871.2 189.7L1871.5 189.06L1871.8 188.22L1872.1 188.96L1872.4 189.22L1872.7 189.86L1873 187.34L1873.3 189.17L1873.6 187.63L1873.9 189.47L1874.2 189.31L1874.5 189.37L1874.8 189.67L1875.1 189.33L1875.4 188.6L1875.7 189.33L1876 189.95L1876.3 188.97L1876.6 189.03L1876.9 188.09L1877.2 189.72L1877.5 188.45L1877.8 188.18L1878.1 188.27L1878.4 187.83L1878.7 188.08L1879 188.95L1879.3 188.33L1879.6 188.45L1879.9 188.1L1880.2 185.94L1880.5 186.4L1880.8 186.54L1881.1 186.45L1881.4 183.07L1881.7 182.3L1882 182.85L1882.3 181.47L1882.6 180.21L1882.9 180.45L1883.2 178.95L1883.5 177.36L1883.8 178.6L1884.1 178.54L1884.4 178.93L1884.7 179.39L1885 179.26L1885.3 179.53L1885.6 179.91L1885.9 179.96L1886.2 181.62L1886.5 183.45L1886.8 183.99L1887.1 185.74L1887.4 184.86L1887.7 184.32L1888 186.76L1888.3 187.4L1888.6 186.25L1888.9 186.3L1889.2 187.87L1889.5 188.52L1889.8 187.42L1890.1 188.14L1890.4 187.96L1890.7 187.78L1891 187.77L1891.3 188.88L1891.6 188.57L1891.9 188.4L1892.2 187.05L1892.5 190.2L1892.8 188.31L1893.1 188.91L1893.4 188.22L1893.7 189.32L1894 187.99L1894.3 189.16L1894.6 188.97L1894.9 189.78L1895.2 188.35L1895.5 188.68L1895.8 188.99L1896.1 190.67L1896.4 188.13L1896.7 189.4L1897 188.73L1897.3 189.43L1897.6 189.69L1897.9 189.33L1898.2 189.42L1898.5 189.44L1898.8 188.83L1899.1 189.1L1899.4 188.07L1899.7 189.01L1900 188.72L1900.3 189.09L1900.6 189.81L1900.9 189.56L1901.2 189.63L1901.5 190.08L1901.8 187.59L1902.1 189.61L1902.4 189.29L1902.7 189.24L1903 188.38L1903.3 189.71L1903.6 190.14L1903.9 190.06L1904.2 189.26L1904.5 189.78L1904.8 189.99L1905.1 190.64L1905.4 190.21L1905.7 189.44L1906 189.41L1906.3 189.46L1906.6 189.5L1906.9 188.99L1907.2 189.9L1907.5 188.85L1907.8 188.77L1908.1 189.6L1908.4 188.94L1908.7 189.17L1909 187.86L1909.3 189.92L1909.6 189.35L1909.9 189.26L1910.2 189.68L1910.5 189.5L1910.8 188.85L1911.1 190.78L1911.4 189.03L1911.7 190.05L1912 190.66L1912.3 188.9L1912.6 189.41L1912.9 188.76L1913.2 190.09L1913.5 189.1L1913.8 188.55L1914.1 190.27L1914.4 189.99L1914.7 188.69L1915 190.17L1915.3 189.46L1915.6 191.25L1915.9 190.53L1916.2 188.9L1916.5 189.1L1916.8 188.66L1917.1 189.37L1917.4 189.3L1917.7 189.79L1918 189.31L1918.3 188.19L1918.6 188.65L1918.9 190.23L1919.2 190.03L1919.5 189.07L1919.8 189.07L1920.1 189.03L1920.4 189.14L1920.7 187.9L1921 189.72L1921.3 188.57L1921.6 189.11L1921.9 187.16L1922.2 189.09L1922.5 189.83L1922.8 187.21L1923.1 189.82L1923.4 188.97L1923.7 187.98L1924 187.21L1924.3 188.98L1924.6 188.1L1924.9 188.04L1925.2 187.06L1925.5 186.25L1925.8 186.94L1926.1 185.04L1926.4 185.69L1926.7 183.09L1927 182.78L1927.3 181.49L1927.6 182.49L1927.9 179.27L1928.2 178.67L1928.5 178.93L1928.8 177.63L1929.1 178.14L1929.4 177.12L1929.7 175.66L1930 175.35L1930.3 173.43L1930.6 174.25L1930.9 175.04L1931.2 175.76L1931.5 175.69L1931.8 176.94L1932.1 178.01L1932.4 180.44L1932.7 181.05L1933 181.56L1933.3 182.6L1933.6 183.95L1933.9 184.11L1934.2 185.21L1934.5 184.87L1934.8 187.2L1935.1 187.94L1935.4 187.97L1935.7 188.44L1936 188.69L1936.3 190.16L1936.6 189.07L1936.9 188.16L1937.2 188.51L1937.5 189.9L1937.8 190.26L1938.1 190.13L1938.4 190.26L1938.7 189.86L1939 188.71L1939.3 189.32L1939.6 188.58L1939.9 189.64L1940.2 188.98L1940.5 190.06L1940.8 189.9L1941.1 188.65L1941.4 190.6L1941.7 190.65L1942 189.13L1942.3 190.25L1942.6 190.69L1942.9 189.98L1943.2 190.83L1943.5 190.37L1943.8 191.02L1944.1 190.4L1944.4 190.17L1944.7 190.67L1945 190.88L1945.3 190.51L1945.6 190.03L1945.9 189.8L1946.2 190.11L1946.5 189.98L1946.8 190.56L1947.1 190.55L1947.4 190.37L1947.7 190.45L1948 190.59L1948.3 191.61L1948.6 191.36L1948.9 190.08L1949.2 190.82L1949.5 190.29L1949.8 190.47L1950.1 190.37L1950.4 190.11L1950.7 189.59L1951 188.81L1951.3 190.74L1951.6 191.46L1951.9 189.96L1952.2 190.99L1952.5 190.36L1952.8 190.85L1953.1 190.08L1953.4 190.5L1953.7 190.6L1954 188.97L1954.3 190.86L1954.6 190.61L1954.9 188.93L1955.2 191.2L1955.5 190.72L1955.8 190.9L1956.1 191.02L1956.4 190.47L1956.7 190L1957 190.47L1957.3 190.49L1957.6 192.42L1957.9 192.16L1958.2 190.48L1958.5 190.54L1958.8 191.08L1959.1 191.27L1959.4 190.37L1959.7 190.15L1960 192.29L1960.3 191.66L1960.6 189.78L1960.9 189.64L1961.2 190.33L1961.5 191.09L1961.8 191.34L1962.1 190.71L1962.4 189.79L1962.7 191.13L1963 191.42L1963.3 190.99L1963.6 190.64L1963.9 191.43L1964.2 190.98L1964.5 190.21L1964.8 191.1L1965.1 190.1L1965.4 191.76L1965.7 191.41L1966 190.35L1966.3 191.24L1966.6 192L1966.9 189.54L1967.2 191.01L1967.5 192.32L1967.8 190L1968.1 191.01L1968.4 190.11L1968.7 191.11L1969 189.41L1969.3 189.99L1969.6 190.79L1969.9 191.29L1970.2 191.48L1970.5 191.52L1970.8 192.06L1971.1 191.74L1971.4 191.78L1971.7 190.53L1972 191.14L1972.3 193.6L1972.6 192.93L1972.9 191.89L1973.2 191.83L1973.5 192.02L1973.8 191.01L1974.1 192.75L1974.4 191.05L1974.7 191.27L1975 192.94L1975.3 189.82L1975.6 191.63L1975.9 190.1L1976.2 190.9L1976.5 191.32L1976.8 191.14L1977.1 191.53L1977.4 190.85L1977.7 191.35L1978 190.56L1978.3 191.16L1978.6 190.43L1978.9 191.94L1979.2 190.51L1979.5 191.99L1979.8 191.18L1980.1 191.27L1980.4 192.38L1980.7 191.59L1981 190.12L1981.3 191.9L1981.6 189.39" fill="none" stroke="#0f64ae" stroke-width="2.7" stroke-linejoin="round"/><path d="M1397.2 291.13L1397.5 290.62L1397.8 289.87L1398.1 290.95L1398.4 290.65L1398.7 292.35L1399 290.52L1399.3 292.27L1399.6 291.84L1399.9 290.35L1400.2 290.19L1400.5 291.76L1400.8 290.66L1401.1 290.87L1401.4 290.55L1401.7 289.82L1402 290.43L1402.3 289.98L1402.6 289.54L1402.9 290.45L1403.2 291.98L1403.5 291.84L1403.8 290.58L1404.1 290.71L1404.4 290.98L1404.7 291.6L1405 290.81L1405.3 290.2L1405.6 290.25L1405.9 291.37L1406.2 292.45L1406.5 290.03L1406.8 288.96L1407.1 291.08L1407.4 290.4L1407.7 290.55L1408 291.35L1408.3 290.47L1408.6 289.41L1408.9 288.92L1409.2 290.34L1409.5 289.5L1409.8 290.56L1410.1 289.38L1410.4 290.06L1410.7 289.21L1411 290.02L1411.3 289.94L1411.6 290.71L1411.9 291.25L1412.2 290.1L1412.5 289.58L1412.8 291.67L1413.1 290.47L1413.4 290.64L1413.7 290.62L1414 291.24L1414.3 290.89L1414.6 290.63L1414.9 290.68L1415.2 289.45L1415.5 289.63L1415.8 289.99L1416.1 290.12L1416.4 290.06L1416.7 290.26L1417 290.03L1417.3 289.68L1417.6 288.77L1417.9 290.6L1418.2 290.4L1418.5 289.29L1418.8 290.3L1419.1 290.21L1419.4 289.95L1419.7 288.51L1420 288.97L1420.3 289.41L1420.6 291.05L1420.9 289.19L1421.2 289.56L1421.5 288.97L1421.8 289.42L1422.1 290.03L1422.4 288.21L1422.7 287.62L1423 290.23L1423.3 289.74L1423.6 289.25L1423.9 290.41L1424.2 290.4L1424.5 288.09L1424.8 289.52L1425.1 290.46L1425.4 289.11L1425.7 289.37L1426 290.3L1426.3 289.37L1426.6 288.66L1426.9 289.03L1427.2 288.54L1427.5 289.93L1427.8 288.21L1428.1 290.24L1428.4 288.24L1428.7 289.49L1429 288.34L1429.3 289.19L1429.6 290.18L1429.9 290.24L1430.2 290.36L1430.5 289.31L1430.8 289.44L1431.1 289.53L1431.4 289.8L1431.7 289.03L1432 290.15L1432.3 289.55L1432.6 290.16L1432.9 289.65L1433.2 289.79L1433.5 288.72L1433.8 288.94L1434.1 288.28L1434.4 289.01L1434.7 289.09L1435 289.84L1435.3 288.26L1435.6 291.61L1435.9 289.09L1436.2 290.11L1436.5 289.93L1436.8 287.25L1437.1 288.93L1437.4 290.22L1437.7 287.29L1438 289.67L1438.3 288.4L1438.6 288.72L1438.9 289.23L1439.2 287.65L1439.5 289.18L1439.8 288.53L1440.1 288.44L1440.4 289.52L1440.7 291.61L1441 289.22L1441.3 289.36L1441.6 288.89L1441.9 288.37L1442.2 289.09L1442.5 290.02L1442.8 289L1443.1 289.51L1443.4 288.64L1443.7 290.67L1444 287.51L1444.3 289.14L1444.6 289.05L1444.9 288.78L1445.2 287.65L1445.5 287.53L1445.8 288.07L1446.1 288.17L1446.4 287L1446.7 286.92L1447 287.93L1447.3 288.07L1447.6 286.67L1447.9 286.39L1448.2 286.23L1448.5 288.57L1448.8 287.07L1449.1 286.72L1449.4 287.65L1449.7 288.78L1450 288.12L1450.3 286.36L1450.6 287.54L1450.9 287.47L1451.2 287.66L1451.5 287.12L1451.8 287.84L1452.1 287.39L1452.4 288.51L1452.7 288.33L1453 287.26L1453.3 287.05L1453.6 287.98L1453.9 288.83L1454.2 288.71L1454.5 288.28L1454.8 285.83L1455.1 287.93L1455.4 287.74L1455.7 288.03L1456 287.35L1456.3 287.92L1456.6 287.73L1456.9 290.25L1457.2 288.72L1457.5 288.03L1457.8 288.12L1458.1 288.04L1458.4 288.25L1458.7 287.78L1459 288.05L1459.3 288.81L1459.6 288.64L1459.9 288.22L1460.2 288.96L1460.5 288.1L1460.8 287.16L1461.1 286.55L1461.4 287.31L1461.7 287.74L1462 288.05L1462.3 288.52L1462.6 287.24L1462.9 287.02L1463.2 288.15L1463.5 288.4L1463.8 287.1L1464.1 287.65L1464.4 288.37L1464.7 287.5L1465 287.14L1465.3 285.55L1465.6 288.04L1465.9 287.44L1466.2 286.93L1466.5 286.35L1466.8 285.58L1467.1 286.21L1467.4 285.9L1467.7 286.42L1468 284.19L1468.3 285.56L1468.6 283.7L1468.9 283.58L1469.2 280.74L1469.5 280.27L1469.8 279.2L1470.1 276.36L1470.4 272.9L1470.7 271.25L1471 269.19L1471.3 264.89L1471.6 261.98L1471.9 260.44L1472.2 256.97L1472.5 256L1472.8 252.98L1473.1 251.56L1473.4 252.24L1473.7 254.64L1474 254.31L1474.3 257.02L1474.6 259.71L1474.9 261.59L1475.2 266.03L1475.5 268.25L1475.8 271.25L1476.1 272.27L1476.4 274.6L1476.7 275.98L1477 279.76L1477.3 281.31L1477.6 283.36L1477.9 285.03L1478.2 284.62L1478.5 285.32L1478.8 286.43L1479.1 287.7L1479.4 286.29L1479.7 287.66L1480 287.24L1480.3 287.36L1480.6 288.38L1480.9 287.3L1481.2 287.2L1481.5 288.6L1481.8 288.17L1482.1 288.06L1482.4 288.23L1482.7 288.77L1483 288.17L1483.3 289.08L1483.6 288.86L1483.9 289.71L1484.2 289.58L1484.5 289.31L1484.8 288.55L1485.1 288.82L1485.4 288.32L1485.7 290.93L1486 288.64L1486.3 289.25L1486.6 289.87L1486.9 287.84L1487.2 288.25L1487.5 288.58L1487.8 288.14L1488.1 287.94L1488.4 288.5L1488.7 289.86L1489 289.42L1489.3 288.9L1489.6 288.88L1489.9 287.59L1490.2 289.34L1490.5 289.11L1490.8 287.94L1491.1 288.87L1491.4 288.53L1491.7 288.23L1492 287.82L1492.3 287.99L1492.6 287.71L1492.9 288.68L1493.2 288.5L1493.5 288.36L1493.8 287.84L1494.1 287.53L1494.4 289.23L1494.7 286.13L1495 288.19L1495.3 287.25L1495.6 286.63L1495.9 285.65L1496.2 285.12L1496.5 283.4L1496.8 281.92L1497.1 281.13L1497.4 277.7L1497.7 276.67L1498 273.27L1498.3 265.47L1498.6 261.69L1498.9 257.08L1499.2 250.35L1499.5 243.06L1499.8 235.81L1500.1 228.67L1500.4 221.91L1500.7 216.85L1501 211.44L1501.3 210.13L1501.6 208.75L1501.9 212.71L1502.2 216.74L1502.5 225.02L1502.8 232.96L1503.1 239.23L1503.4 245.42L1503.7 253.51L1504 260.22L1504.3 266.22L1504.6 271.96L1504.9 276.12L1505.2 276.93L1505.5 282.76L1505.8 283.6L1506.1 285.29L1506.4 288.13L1506.7 287.91L1507 287.89L1507.3 288.54L1507.6 290.07L1507.9 291.1L1508.2 291.88L1508.5 290.91L1508.8 290.93L1509.1 292.71L1509.4 291.35L1509.7 292.96L1510 292.21L1510.3 292.36L1510.6 292.15L1510.9 292.68L1511.2 292.23L1511.5 292.18L1511.8 292.69L1512.1 292.41L1512.4 293.21L1512.7 293.14L1513 292.96L1513.3 293.08L1513.6 293.12L1513.9 294.66L1514.2 293.4L1514.5 293.01L1514.8 293.26L1515.1 294L1515.4 293.34L1515.7 293.35L1516 293.2L1516.3 293.39L1516.6 293.38L1516.9 293.15L1517.2 291.24L1517.5 291.21L1517.8 289.46L1518.1 291.33L1518.4 290.73L1518.7 289.96L1519 288.1L1519.3 287.84L1519.6 285.99L1519.9 285.07L1520.2 283.36L1520.5 283.57L1520.8 283.69L1521.1 285.16L1521.4 286.36L1521.7 285.64L1522 287.29L1522.3 288.31L1522.6 288.6L1522.9 288.93L1523.2 290.6L1523.5 290.92L1523.8 292.48L1524.1 293.21L1524.4 293.67L1524.7 294.08L1525 294.88L1525.3 294.07L1525.6 295.63L1525.9 293.86L1526.2 295.29L1526.5 295.64L1526.8 294.84L1527.1 294.32L1527.4 296.06L1527.7 295.14L1528 296.29L1528.3 296.33L1528.6 295.81L1528.9 295.86L1529.2 296.65L1529.5 296.24L1529.8 295.31L1530.1 296.18L1530.4 296.51L1530.7 296.29L1531 296.32L1531.3 296.11L1531.6 296.17L1531.9 295.6L1532.2 295.27L1532.5 297.22L1532.8 295.94L1533.1 296.61L1533.4 295.36L1533.7 296.64L1534 295.94L1534.3 298.81L1534.6 295.87L1534.9 295.94L1535.2 297.4L1535.5 297.58L1535.8 295.19L1536.1 296.99L1536.4 297.49L1536.7 295.96L1537 297.42L1537.3 296.55L1537.6 296.23L1537.9 296.75L1538.2 296.7L1538.5 296.04L1538.8 298.78L1539.1 296.8L1539.4 296.62L1539.7 297.84L1540 297.18L1540.3 298.26L1540.6 297.1L1540.9 297.59L1541.2 297.43L1541.5 297.52L1541.8 297.27L1542.1 297.38L1542.4 298.74L1542.7 297.01L1543 297.14L1543.3 297.32L1543.6 298.03L1543.9 297.93L1544.2 298.36L1544.5 296.69L1544.8 297.91L1545.1 297.62L1545.4 297.56L1545.7 297.92L1546 296.36L1546.3 298.06L1546.6 297.98L1546.9 296.84L1547.2 297.85L1547.5 299.1L1547.8 297.68L1548.1 298.43L1548.4 297.83L1548.7 297.41L1549 297.34L1549.3 297.74L1549.6 299L1549.9 298.64L1550.2 297.49L1550.5 298.74L1550.8 297.87L1551.1 297.41L1551.4 298.18L1551.7 297.11L1552 296.53L1552.3 298.54L1552.6 296.09L1552.9 297.69L1553.2 295.97L1553.5 296.87L1553.8 296.51L1554.1 296.08L1554.4 294.51L1554.7 295.76L1555 295.51L1555.3 294.57L1555.6 294.89L1555.9 295.39L1556.2 293.86L1556.5 294.36L1556.8 293.14L1557.1 294.15L1557.4 294.28L1557.7 295.66L1558 294.58L1558.3 294.38L1558.6 295.32L1558.9 293.8L1559.2 295.63L1559.5 294.76L1559.8 295.05L1560.1 296.67L1560.4 296.39L1560.7 297.54L1561 295.81L1561.3 297.39L1561.6 297.09L1561.9 297.54L1562.2 296.57L1562.5 298.89L1562.8 298.54L1563.1 297.82L1563.4 297.69L1563.7 298.15L1564 299.91L1564.3 298.85L1564.6 298.68L1564.9 299.26L1565.2 298.81L1565.5 298.82L1565.8 298.99L1566.1 298.42L1566.4 298.53L1566.7 296.71L1567 297.38L1567.3 296.93L1567.6 297.26L1567.9 297.29L1568.2 297.11L1568.5 297.63L1568.8 298.91L1569.1 298.09L1569.4 297.82L1569.7 299.33L1570 299.69L1570.3 298.79L1570.6 299.02L1570.9 298.18L1571.2 298.45L1571.5 299.14L1571.8 298.59L1572.1 297.72L1572.4 296.98L1572.7 295.5L1573 296.43L1573.3 296.02L1573.6 295.96L1573.9 296.2L1574.2 294.62L1574.5 294.77L1574.8 293.11L1575.1 294.83L1575.4 294.76L1575.7 295.45L1576 295.38L1576.3 295.75L1576.6 297.08L1576.9 296.11L1577.2 297.68L1577.5 298.58L1577.8 297.76L1578.1 297.99L1578.4 299.61L1578.7 299.78L1579 300.48L1579.3 300.8L1579.6 300.02L1579.9 301.04L1580.2 301.79L1580.5 300.86L1580.8 301.03L1581.1 300.52L1581.4 302.04L1581.7 302.95L1582 300.59L1582.3 302.21L1582.6 302.37L1582.9 301.36L1583.2 301.55L1583.5 301.1L1583.8 301.34L1584.1 302.08L1584.4 302.48L1584.7 302.13L1585 302.71L1585.3 302.27L1585.6 301.31L1585.9 303.26L1586.2 303.1L1586.5 301.75L1586.8 303.6L1587.1 302.68L1587.4 302.47L1587.7 303.81L1588 300.61L1588.3 301.29L1588.6 303.01L1588.9 302.34L1589.2 301.86L1589.5 303.68L1589.8 302.95L1590.1 301.69L1590.4 302.16L1590.7 303.28L1591 303.99L1591.3 301.23L1591.6 302.9L1591.9 302.45L1592.2 301.46L1592.5 302.63L1592.8 301.59L1593.1 302.37L1593.4 303.95L1593.7 303.14L1594 303.33L1594.3 303.19L1594.6 303L1594.9 303.44L1595.2 301.85L1595.5 302.41L1595.8 303.27L1596.1 302.07L1596.4 302.24L1596.7 303.38L1597 303.56L1597.3 301.91L1597.6 301.67L1597.9 302.58L1598.2 302.21L1598.5 301.33L1598.8 302.04L1599.1 301.74L1599.4 301.04L1599.7 302.69L1600 300.94L1600.3 299.77L1600.6 298.89L1600.9 298.96L1601.2 295.84L1601.5 292.25L1601.8 290.17L1602.1 286.49L1602.4 281.81L1602.7 277.48L1603 271.86L1603.3 265.43L1603.6 258.51L1603.9 252.72L1604.2 244.39L1604.5 240.27L1604.8 234.92L1605.1 232.01L1605.4 229L1605.7 233.08L1606 233.72L1606.3 239.15L1606.6 246.19L1606.9 251.86L1607.2 258.8L1607.5 264.11L1607.8 271.67L1608.1 277.81L1608.4 283.12L1608.7 286.67L1609 290.58L1609.3 293.62L1609.6 295.1L1609.9 296.84L1610.2 300.22L1610.5 299.23L1610.8 301.57L1611.1 301.35L1611.4 302.87L1611.7 301.7L1612 302.87L1612.3 302.99L1612.6 302.8L1612.9 303.39L1613.2 302.74L1613.5 303.36L1613.8 303.23L1614.1 304.17L1614.4 303.62L1614.7 302.74L1615 303.55L1615.3 303.8L1615.6 303.26L1615.9 304.95L1616.2 304.31L1616.5 304.66L1616.8 303.51L1617.1 303.8L1617.4 304.86L1617.7 303.09L1618 304.43L1618.3 304.24L1618.6 303.81L1618.9 304.26L1619.2 303.41L1619.5 304.37L1619.8 303.31L1620.1 303.26L1620.4 305.23L1620.7 303.68L1621 302.64L1621.3 304.9L1621.6 303.6L1621.9 301.57L1622.2 304.1L1622.5 304.8L1622.8 304.36L1623.1 305.33L1623.4 303.93L1623.7 304.42L1624 303.18L1624.3 303.98L1624.6 304.9L1624.9 304.05L1625.2 303.68L1625.5 301.96L1625.8 302.98L1626.1 302.15L1626.4 303.53L1626.7 302.25L1627 302.87L1627.3 301.65L1627.6 303.55L1627.9 301.04L1628.2 301.74L1628.5 303.3L1628.8 301.26L1629.1 300.21L1629.4 301.09L1629.7 301.19L1630 300.98L1630.3 298.83L1630.6 300.47L1630.9 298.84L1631.2 302L1631.5 300.9L1631.8 300.81L1632.1 301.99L1632.4 302.24L1632.7 301.39L1633 303.87L1633.3 302.88L1633.6 302.15L1633.9 304.85L1634.2 305.29L1634.5 305.41L1634.8 305.18L1635.1 304.38L1635.4 305.98L1635.7 306.88L1636 306.3L1636.3 307.05L1636.6 305.45L1636.9 306.91L1637.2 306.98L1637.5 305.29L1637.8 305.3L1638.1 306.06L1638.4 306.75L1638.7 307.11L1639 306.69L1639.3 306.88L1639.6 306.92L1639.9 307.15L1640.2 307.54L1640.5 307.48L1640.8 307.07L1641.1 307.31L1641.4 306.78L1641.7 307.71L1642 306.74L1642.3 308.34L1642.6 307.1L1642.9 307.32L1643.2 306.54L1643.5 306.85L1643.8 307.23L1644.1 307.11L1644.4 306.63L1644.7 306.23L1645 307.12L1645.3 307.2L1645.6 307.49L1645.9 308L1646.2 306.83L1646.5 305.57L1646.8 306.95L1647.1 305.67L1647.4 306.08L1647.7 307.8L1648 307.45L1648.3 306.54L1648.6 306.54L1648.9 306.93L1649.2 305.68L1649.5 307.34L1649.8 306.71L1650.1 308.33L1650.4 306.16L1650.7 307.69L1651 306.42L1651.3 307.68L1651.6 306.17L1651.9 307.44L1652.2 306.54L1652.5 306.24L1652.8 306.72L1653.1 307.17L1653.4 307.09L1653.7 307.93L1654 307.33L1654.3 304.7L1654.6 306.31L1654.9 305.05L1655.2 306.15L1655.5 306.79L1655.8 305.19L1656.1 305.14L1656.4 305.93L1656.7 305.37L1657 306.5L1657.3 305.29L1657.6 305.14L1657.9 305.72L1658.2 303.7L1658.5 303.72L1658.8 302.64L1659.1 303.26L1659.4 303.58L1659.7 303.64L1660 302.5L1660.3 302L1660.6 302.08L1660.9 301.82L1661.2 303.25L1661.5 304.53L1661.8 302.13L1662.1 302.68L1662.4 305.75L1662.7 303.89L1663 305.71L1663.3 304.86L1663.6 306.69L1663.9 306.95L1664.2 306.73L1664.5 307.42L1664.8 307L1665.1 307.53L1665.4 308.59L1665.7 308.15L1666 306.92L1666.3 306.88L1666.6 307.36L1666.9 307.42L1667.2 307.7L1667.5 307.23L1667.8 308.21L1668.1 307.78L1668.4 308.04L1668.7 307.78L1669 308.25L1669.3 306.89L1669.6 308.98L1669.9 308.05L1670.2 308.13L1670.5 308.24L1670.8 308.59L1671.1 308.31L1671.4 307.91L1671.7 307.57L1672 306.43L1672.3 307.77L1672.6 307.32L1672.9 307.24L1673.2 309.19L1673.5 305.9L1673.8 307.23L1674.1 307.99L1674.4 307.69L1674.7 307.78L1675 305.8L1675.3 305.93L1675.6 307.05L1675.9 306.31L1676.2 307.81L1676.5 306.72L1676.8 306.75L1677.1 307.01L1677.4 306.58L1677.7 306.99L1678 306.52L1678.3 307.12L1678.6 306.91L1678.9 307.58L1679.2 306.43L1679.5 306.47L1679.8 308.02L1680.1 307.92L1680.4 307.09L1680.7 307.69L1681 307.12L1681.3 309.47L1681.6 306.8L1681.9 309.28L1682.2 307.39L1682.5 308.34L1682.8 307.84L1683.1 307.76L1683.4 308.76L1683.7 308.68L1684 307.85L1684.3 307.4L1684.6 309.64L1684.9 309.14L1685.2 308.2L1685.5 307.87L1685.8 308.32L1686.1 308.16L1686.4 309L1686.7 307.38L1687 308.12L1687.3 307.52L1687.6 309.09L1687.9 309.46L1688.2 308.04L1688.5 308.51L1688.8 309.16L1689.1 307.88L1689.4 307.4L1689.7 308.88L1690 308.47L1690.3 307.94L1690.6 309.19L1690.9 308.28L1691.2 306.76L1691.5 308.35L1691.8 308.04L1692.1 309.48L1692.4 308.04L1692.7 307.88L1693 308.33L1693.3 308.16L1693.6 306.87L1693.9 307.97L1694.2 307.57L1694.5 308.79L1694.8 309.45L1695.1 306.71L1695.4 306.71L1695.7 306.67L1696 306.66L1696.3 306.47L1696.6 306.85L1696.9 307.43L1697.2 305.44L1697.5 305.05L1697.8 304.6L1698.1 306.59L1698.4 306.53L1698.7 304.17L1699 303.9L1699.3 305.04L1699.6 305.61L1699.9 305.43L1700.2 304.74L1700.5 305.07L1700.8 304.81L1701.1 304.21L1701.4 306.16L1701.7 304.86L1702 304.2L1702.3 304.87L1702.6 304.27L1702.9 305.66L1703.2 306.69L1703.5 305.14L1703.8 307.14L1704.1 308.07L1704.4 306.96L1704.7 305.96L1705 306.32L1705.3 306.81L1705.6 306.17L1705.9 306.22L1706.2 306.94L1706.5 306.94L1706.8 307.41L1707.1 305.9L1707.4 307.99L1707.7 307.11L1708 306.68L1708.3 305.18L1708.6 306.59L1708.9 304.64L1709.2 305.87L1709.5 304.94L1709.8 303.13L1710.1 303.19L1710.4 304.73L1710.7 303.97L1711 303.07L1711.3 303.37L1711.6 303.44L1711.9 302.79L1712.2 303.28L1712.5 302.94L1712.8 303.04L1713.1 303.56L1713.4 302.25L1713.7 303.17L1714 302.28L1714.3 302.28L1714.6 301.85L1714.9 301.58L1715.2 300.63L1715.5 300.29L1715.8 299.35L1716.1 299.83L1716.4 298.84L1716.7 299.64L1717 300.87L1717.3 300.9L1717.6 302L1717.9 301.65L1718.2 304.26L1718.5 303.58L1718.8 305.06L1719.1 305.44L1719.4 306.78L1719.7 306.35L1720 306.36L1720.3 306.1L1720.6 307.64L1720.9 307.26L1721.2 308.79L1721.5 309.66L1721.8 307.06L1722.1 307.88L1722.4 309.17L1722.7 309.93L1723 309.29L1723.3 309.34L1723.6 309.52L1723.9 309.6L1724.2 310.43L1724.5 309.67L1724.8 308.3L1725.1 308.89L1725.4 309.42L1725.7 308.66L1726 309.09L1726.3 308.9L1726.6 308.77L1726.9 309.83L1727.2 309.02L1727.5 308.5L1727.8 308.79L1728.1 309.36L1728.4 310.93L1728.7 309.54L1729 310.46L1729.3 309.72L1729.6 307.73L1729.9 309.64L1730.2 308.71L1730.5 308.34L1730.8 308.54L1731.1 310.71L1731.4 308.17L1731.7 308.89L1732 310.23L1732.3 309.86L1732.6 308.07L1732.9 309.27L1733.2 308.96L1733.5 309.2L1733.8 309.92L1734.1 308.91L1734.4 309.1L1734.7 310.44L1735 307.95L1735.3 309.05L1735.6 309.69L1735.9 308.39L1736.2 308.85L1736.5 308.33L1736.8 309.43L1737.1 308.84L1737.4 309.9L1737.7 310.07L1738 309.33L1738.3 309L1738.6 309.48L1738.9 309.32L1739.2 308.35L1739.5 310.07L1739.8 309.42L1740.1 309.84L1740.4 308.2L1740.7 309.88L1741 310.8L1741.3 309.65L1741.6 308.08L1741.9 309.18L1742.2 309.09L1742.5 309.27L1742.8 308.9L1743.1 309.41L1743.4 308.64L1743.7 309.12L1744 308.37L1744.3 308.9L1744.6 309.5L1744.9 308.28L1745.2 309.06L1745.5 307.77L1745.8 308.03L1746.1 307.99L1746.4 308.95L1746.7 307.26L1747 308.58L1747.3 306.35L1747.6 307.14L1747.9 307.74L1748.2 307.36L1748.5 305.85L1748.8 305.48L1749.1 306.87L1749.4 305.07L1749.7 306.31L1750 305.34L1750.3 305.63L1750.6 307.34L1750.9 306.74L1751.2 306.23L1751.5 304.61L1751.8 306L1752.1 305.93L1752.4 305.97L1752.7 307.23L1753 305.1L1753.3 306.83L1753.6 306.88L1753.9 306.41L1754.2 308.47L1754.5 306.38L1754.8 307.52L1755.1 307.71L1755.4 306.12L1755.7 306.82L1756 307.28L1756.3 308.7L1756.6 308.89L1756.9 308.69L1757.2 308.46L1757.5 306.65L1757.8 308.5L1758.1 307.96L1758.4 309.23L1758.7 309.35L1759 310L1759.3 308.79L1759.6 308.81L1759.9 307.33L1760.2 308.07L1760.5 306.94L1760.8 308.38L1761.1 306.56L1761.4 306.98L1761.7 306.11L1762 305.85L1762.3 305.89L1762.6 304.3L1762.9 303.9L1763.2 301.81L1763.5 302.28L1763.8 299.22L1764.1 298.84L1764.4 297.97L1764.7 292.76L1765 292.19L1765.3 291.3L1765.6 291.16L1765.9 289.13L1766.2 289.53L1766.5 288.96L1766.8 290.73L1767.1 290.57L1767.4 293.64L1767.7 292.4L1768 295L1768.3 299.56L1768.6 299.96L1768.9 300.67L1769.2 304.39L1769.5 304.7L1769.8 305.77L1770.1 305.42L1770.4 306.9L1770.7 307.35L1771 306.13L1771.3 308.18L1771.6 307.84L1771.9 309.17L1772.2 309.34L1772.5 307.97L1772.8 308.1L1773.1 308.78L1773.4 309.2L1773.7 308.45L1774 308.72L1774.3 309.32L1774.6 309.21L1774.9 309.81L1775.2 309.14L1775.5 308.3L1775.8 307.65L1776.1 309.65L1776.4 308.79L1776.7 308.8L1777 308.86L1777.3 307.89L1777.6 308.81L1777.9 307.12L1778.2 308.81L1778.5 308.44L1778.8 310.54L1779.1 309.48L1779.4 308.97L1779.7 309.25L1780 309.67L1780.3 308.51L1780.6 308.89L1780.9 308.76L1781.2 310.9L1781.5 308.98L1781.8 307.34L1782.1 309.36L1782.4 310.61L1782.7 307.73L1783 310.96L1783.3 308.01L1783.6 308.58L1783.9 307.08L1784.2 306.98L1784.5 305.89L1784.8 305.65L1785.1 304.41L1785.4 306.54L1785.7 304.39L1786 305.19L1786.3 304.83L1786.6 303.82L1786.9 304.18L1787.2 303.99L1787.5 303.71L1787.8 304.26L1788.1 304.48L1788.4 303.95L1788.7 304.09L1789 304.83L1789.3 305.99L1789.6 307.38L1789.9 307.86L1790.2 307.35L1790.5 308.2L1790.8 307.89L1791.1 308.94L1791.4 308.44L1791.7 308.87L1792 308.53L1792.3 308.9L1792.6 310.5L1792.9 308.2L1793.2 309.2L1793.5 308.8L1793.8 310.03L1794.1 310.71L1794.4 309.06L1794.7 307.14L1795 309.73L1795.3 309.68L1795.6 307.82L1795.9 308.84L1796.2 308.86L1796.5 306.98L1796.8 309.13L1797.1 308.76L1797.4 308.39L1797.7 307.14L1798 307.16L1798.3 306.94L1798.6 307.52L1798.9 306.1L1799.2 307.72L1799.5 306.6L1799.8 304.38L1800.1 307.17L1800.4 305.83L1800.7 305.19L1801 305.67L1801.3 304.22L1801.6 305.91L1801.9 304.02L1802.2 305.37L1802.5 307.49L1802.8 307.71L1803.1 306.77L1803.4 306.59L1803.7 308.38L1804 307.92L1804.3 308.4L1804.6 308.99L1804.9 307.9L1805.2 309.58L1805.5 307.51L1805.8 310.47L1806.1 308.25L1806.4 309.11L1806.7 309.19L1807 310.37L1807.3 310.47L1807.6 310.23L1807.9 310.43L1808.2 310.41L1808.5 310.01L1808.8 308.6L1809.1 308.3L1809.4 308.32L1809.7 310.09L1810 309.95L1810.3 310.03L1810.6 310.32L1810.9 309.96L1811.2 309.36L1811.5 308.97L1811.8 308.66L1812.1 311.09L1812.4 310.85L1812.7 309.08L1813 309.92L1813.3 310.48L1813.6 311.38L1813.9 309.66L1814.2 310.26L1814.5 311.03L1814.8 308.76L1815.1 309.54L1815.4 310.08L1815.7 309.54L1816 311.76L1816.3 310.78L1816.6 310.25L1816.9 309.34L1817.2 310.76L1817.5 310.58L1817.8 309.67L1818.1 309.73L1818.4 308.92L1818.7 310L1819 310.73L1819.3 310.83L1819.6 310.5L1819.9 310.68L1820.2 309.57L1820.5 309.66L1820.8 310.96L1821.1 310.37L1821.4 309.38L1821.7 310.39L1822 310.64L1822.3 310.54L1822.6 310.07L1822.9 309.57L1823.2 310.28L1823.5 311.29L1823.8 310.07L1824.1 309.43L1824.4 310.21L1824.7 308.97L1825 310.11L1825.3 309.69L1825.6 310.66L1825.9 309.99L1826.2 310.72L1826.5 311.69L1826.8 309.71L1827.1 309.22L1827.4 310.23L1827.7 309.79L1828 309.97L1828.3 309.38L1828.6 310.27L1828.9 309.89L1829.2 308.14L1829.5 309.63L1829.8 310.07L1830.1 310.72L1830.4 309.34L1830.7 309.16L1831 310.67L1831.3 309.29L1831.6 309.84L1831.9 310.12L1832.2 310.31L1832.5 309.74L1832.8 308.85L1833.1 310.5L1833.4 309.36L1833.7 309.28L1834 311.24L1834.3 310.35L1834.6 308.83L1834.9 309.27L1835.2 309.41L1835.5 308.95L1835.8 307.98L1836.1 310.04L1836.4 309.95L1836.7 309.47L1837 308.9L1837.3 309.31L1837.6 309.57L1837.9 308.19L1838.2 308.67L1838.5 308.41L1838.8 309.31L1839.1 308.89L1839.4 307.58L1839.7 308.02L1840 309.78L1840.3 307.56L1840.6 308.33L1840.9 307.61L1841.2 308.97L1841.5 307.83L1841.8 307.43L1842.1 306.74L1842.4 307.34L1842.7 308.05L1843 307.81L1843.3 306.13L1843.6 308.25L1843.9 306.72L1844.2 305.97L1844.5 306.77L1844.8 306.07L1845.1 306.01L1845.4 305.9L1845.7 306.26L1846 305.89L1846.3 304.91L1846.6 306.61L1846.9 305.77L1847.2 307.09L1847.5 306.57L1847.8 306.64L1848.1 306.31L1848.4 307.19L1848.7 305.94L1849 305.44L1849.3 306.5L1849.6 304.14L1849.9 305.98L1850.2 306.44L1850.5 305.96L1850.8 307.25L1851.1 306.82L1851.4 306.35L1851.7 305.92L1852 307.05L1852.3 305.64L1852.6 305.79L1852.9 306.64L1853.2 306.45L1853.5 307.49L1853.8 305.66L1854.1 304.28L1854.4 306.15L1854.7 306.5L1855 305.29L1855.3 306.51L1855.6 306.56L1855.9 304.54L1856.2 304.56L1856.5 303.83L1856.8 305.1L1857.1 305.12L1857.4 304.93L1857.7 303.4L1858 303.67L1858.3 303.07L1858.6 302.87L1858.9 303.02L1859.2 302.81L1859.5 303.87L1859.8 304.34L1860.1 304.51L1860.4 304.04L1860.7 303.58L1861 304.15L1861.3 304.67L1861.6 304.08L1861.9 304.44L1862.2 304.31L1862.5 304.32L1862.8 304.93L1863.1 304.23L1863.4 306.09L1863.7 304.25L1864 306L1864.3 304.76L1864.6 307.16L1864.9 306.83L1865.2 305.7L1865.5 306.14L1865.8 305.77L1866.1 306.75L1866.4 307.25L1866.7 309.05L1867 306.15L1867.3 308.29L1867.6 307L1867.9 307.78L1868.2 308.35L1868.5 308.2L1868.8 308.2L1869.1 307.82L1869.4 308.06L1869.7 308.27L1870 309.16L1870.3 307.19L1870.6 308.02L1870.9 307.51L1871.2 307.8L1871.5 308L1871.8 309.53L1872.1 310.4L1872.4 309.86L1872.7 307.96L1873 309L1873.3 308.12L1873.6 309.4L1873.9 310.09L1874.2 309.62L1874.5 309.89L1874.8 309.15L1875.1 307.79L1875.4 307.83L1875.7 309.32L1876 309.87L1876.3 310.35L1876.6 309.04L1876.9 309.3L1877.2 309.35L1877.5 309.88L1877.8 308.88L1878.1 307.95L1878.4 309.45L1878.7 308.71L1879 308.43L1879.3 306.84L1879.6 307.44L1879.9 305.68L1880.2 304.94L1880.5 305.72L1880.8 304.9L1881.1 304.94L1881.4 304.82L1881.7 302.83L1882 303.35L1882.3 300.62L1882.6 300.78L1882.9 298.39L1883.2 298.74L1883.5 297.8L1883.8 297.47L1884.1 297.88L1884.4 295.99L1884.7 297.77L1885 297.5L1885.3 298.83L1885.6 299.77L1885.9 299.99L1886.2 300.84L1886.5 301.1L1886.8 303.26L1887.1 303.11L1887.4 304.72L1887.7 303.95L1888 306.71L1888.3 305.4L1888.6 307.53L1888.9 306.67L1889.2 307.76L1889.5 307.49L1889.8 308.33L1890.1 307.98L1890.4 309.08L1890.7 308.73L1891 308.81L1891.3 309.63L1891.6 307.86L1891.9 309.43L1892.2 308.52L1892.5 307.37L1892.8 308.91L1893.1 308.42L1893.4 309.91L1893.7 308.26L1894 308.7L1894.3 308.86L1894.6 307.24L1894.9 309.12L1895.2 307.98L1895.5 309.85L1895.8 310.06L1896.1 308.79L1896.4 307.59L1896.7 308.97L1897 308.98L1897.3 309.41L1897.6 308.64L1897.9 307.96L1898.2 308.78L1898.5 308.19L1898.8 310.28L1899.1 308.38L1899.4 308.44L1899.7 308.91L1900 308L1900.3 308.62L1900.6 308.87L1900.9 308.61L1901.2 308.8L1901.5 309.96L1901.8 309.35L1902.1 307.99L1902.4 308.7L1902.7 309.61L1903 308.54L1903.3 309.11L1903.6 309.04L1903.9 309.47L1904.2 308.94L1904.5 308.97L1904.8 308.43L1905.1 309.37L1905.4 308.39L1905.7 310.44L1906 309.1L1906.3 308.95L1906.6 309.73L1906.9 309.07L1907.2 309.2L1907.5 309.1L1907.8 308.59L1908.1 308.44L1908.4 308.62L1908.7 310.03L1909 308.69L1909.3 308.86L1909.6 308.83L1909.9 309.72L1910.2 310.71L1910.5 308.48L1910.8 309.61L1911.1 309.29L1911.4 308.97L1911.7 309.59L1912 308.23L1912.3 309.85L1912.6 309.38L1912.9 308.45L1913.2 310.44L1913.5 309.87L1913.8 310.11L1914.1 308.1L1914.4 309.01L1914.7 308.82L1915 309.7L1915.3 310.26L1915.6 307.75L1915.9 309.23L1916.2 309.12L1916.5 309.98L1916.8 309.18L1917.1 308.23L1917.4 309.05L1917.7 308.4L1918 308.59L1918.3 309.21L1918.6 308.8L1918.9 309.38L1919.2 307.99L1919.5 310.92L1919.8 310.1L1920.1 309.66L1920.4 308.1L1920.7 307.42L1921 308.39L1921.3 308.84L1921.6 310.7L1921.9 309.95L1922.2 308.49L1922.5 309.76L1922.8 309.69L1923.1 308.66L1923.4 309.47L1923.7 308.64L1924 307.71L1924.3 307.09L1924.6 307.63L1924.9 308.17L1925.2 305.98L1925.5 305.33L1925.8 306.46L1926.1 303.33L1926.4 306.11L1926.7 303.58L1927 303.6L1927.3 303.52L1927.6 299.96L1927.9 299.21L1928.2 300.66L1928.5 297.65L1928.8 296.75L1929.1 296.09L1929.4 295.93L1929.7 295.52L1930 294.2L1930.3 293.72L1930.6 294.08L1930.9 294.72L1931.2 296.1L1931.5 295.99L1931.8 298.21L1932.1 297.17L1932.4 299.3L1932.7 301.31L1933 302.01L1933.3 302.28L1933.6 302.3L1933.9 303.3L1934.2 304.51L1934.5 305.57L1934.8 305.75L1935.1 305.35L1935.4 306.35L1935.7 307.69L1936 308.25L1936.3 306.8L1936.6 307.8L1936.9 306.97L1937.2 307.96L1937.5 311.22L1937.8 308.65L1938.1 308.41L1938.4 308.28L1938.7 307.86L1939 307.4L1939.3 308.83L1939.6 308.68L1939.9 310.05L1940.2 307.7L1940.5 309.33L1940.8 310.06L1941.1 307.57L1941.4 309.61L1941.7 307.9L1942 309.57L1942.3 310.33L1942.6 309.23L1942.9 309.48L1943.2 308.75L1943.5 309.53L1943.8 310.21L1944.1 309.22L1944.4 309.28L1944.7 309.71L1945 310.07L1945.3 308.21L1945.6 309.53L1945.9 308.98L1946.2 309.91L1946.5 310.35L1946.8 309.81L1947.1 310.59L1947.4 308.86L1947.7 309.32L1948 308.9L1948.3 309.72L1948.6 309.77L1948.9 309.57L1949.2 308.81L1949.5 309.7L1949.8 309.44L1950.1 310.26L1950.4 309.61L1950.7 310.73L1951 310.03L1951.3 308.45L1951.6 309.76L1951.9 308.81L1952.2 310.67L1952.5 311.05L1952.8 309.95L1953.1 310.32L1953.4 308.89L1953.7 308.29L1954 309.61L1954.3 309.86L1954.6 308.91L1954.9 310.16L1955.2 310.35L1955.5 310.62L1955.8 311.33L1956.1 310.78L1956.4 309.9L1956.7 310.28L1957 310.67L1957.3 309.43L1957.6 311.27L1957.9 310.96L1958.2 310.11L1958.5 309.81L1958.8 313.24L1959.1 310.98L1959.4 311.07L1959.7 311.75L1960 311.14L1960.3 310.56L1960.6 310.96L1960.9 309.73L1961.2 311L1961.5 309.29L1961.8 310.81L1962.1 310.93L1962.4 309.32L1962.7 312.01L1963 309.67L1963.3 311.37L1963.6 310.18L1963.9 310.84L1964.2 310.12L1964.5 312.55L1964.8 311.45L1965.1 312.06L1965.4 311.29L1965.7 311.24L1966 310.84L1966.3 310.56L1966.6 311.22L1966.9 310.9L1967.2 310.67L1967.5 309.75L1967.8 310.59L1968.1 311.31L1968.4 310.5L1968.7 311.14L1969 310.78L1969.3 310.12L1969.6 310.23L1969.9 310.37L1970.2 310.73L1970.5 310.77L1970.8 311.85L1971.1 310.17L1971.4 309.45L1971.7 311.57L1972 310.71L1972.3 310.98L1972.6 313.05L1972.9 312.23L1973.2 311.57L1973.5 311.87L1973.8 311.25L1974.1 311.91L1974.4 310.72L1974.7 310.66L1975 310.86L1975.3 312.45L1975.6 312.45L1975.9 310.8L1976.2 312.18L1976.5 311.18L1976.8 312.14L1977.1 311.09L1977.4 312.09L1977.7 311.28L1978 311.16L1978.3 311.38L1978.6 311.54L1978.9 310.98L1979.2 310.4L1979.5 312.77L1979.8 311.18L1980.1 310.1L1980.4 309.77L1980.7 309.37L1981 311.07L1981.3 312.61L1981.6 310.32" fill="none" stroke="#e3404a" stroke-width="2.7" stroke-linejoin="round"/><path d="M1397.2 424.03L1397.5 422.85L1397.8 425.1L1398.1 424.52L1398.4 424.48L1398.7 425.26L1399 425.47L1399.3 424.99L1399.6 423.74L1399.9 423.15L1400.2 423.35L1400.5 422.8L1400.8 425.53L1401.1 423.98L1401.4 424.21L1401.7 424.25L1402 425.64L1402.3 423.64L1402.6 424.98L1402.9 424.29L1403.2 423.92L1403.5 422.55L1403.8 424.73L1404.1 423.43L1404.4 423.64L1404.7 424.15L1405 424.04L1405.3 424.82L1405.6 423.43L1405.9 424.06L1406.2 424.14L1406.5 423.93L1406.8 424.42L1407.1 423.69L1407.4 424.8L1407.7 423.31L1408 422.74L1408.3 423.8L1408.6 424.74L1408.9 423.41L1409.2 423.32L1409.5 423.52L1409.8 423.9L1410.1 423.63L1410.4 423.99L1410.7 422.41L1411 424.88L1411.3 424.16L1411.6 423.04L1411.9 424.75L1412.2 424.03L1412.5 424.8L1412.8 422.75L1413.1 424.92L1413.4 423.67L1413.7 422.03L1414 424.19L1414.3 423.36L1414.6 422.8L1414.9 423.4L1415.2 422.06L1415.5 424L1415.8 423.36L1416.1 423.31L1416.4 424.6L1416.7 423.52L1417 422.97L1417.3 422.74L1417.6 423.41L1417.9 424.27L1418.2 422.98L1418.5 422.62L1418.8 424.12L1419.1 423.44L1419.4 423.36L1419.7 424.98L1420 422.42L1420.3 423.5L1420.6 421.96L1420.9 423.09L1421.2 423.76L1421.5 424.17L1421.8 422.3L1422.1 423.92L1422.4 423.86L1422.7 423.15L1423 425.14L1423.3 423.22L1423.6 422.53L1423.9 423.53L1424.2 421.75L1424.5 424.38L1424.8 423.92L1425.1 422.84L1425.4 423.61L1425.7 423.54L1426 424.6L1426.3 422.62L1426.6 422.09L1426.9 421.5L1427.2 422.83L1427.5 421.83L1427.8 422.9L1428.1 423.34L1428.4 422.67L1428.7 422.26L1429 423.9L1429.3 422.81L1429.6 423.13L1429.9 423.68L1430.2 421.92L1430.5 422.19L1430.8 424.81L1431.1 422.74L1431.4 422.04L1431.7 422.63L1432 422.36L1432.3 421.83L1432.6 422.45L1432.9 422.73L1433.2 422.71L1433.5 423.12L1433.8 421.34L1434.1 421.5L1434.4 423.25L1434.7 422.28L1435 423.54L1435.3 422.81L1435.6 421.47L1435.9 422.95L1436.2 421.73L1436.5 422.69L1436.8 423.42L1437.1 424.08L1437.4 422.38L1437.7 422.95L1438 422.62L1438.3 422.97L1438.6 420.37L1438.9 422.02L1439.2 422.52L1439.5 422.64L1439.8 421.67L1440.1 422.86L1440.4 423.06L1440.7 422.23L1441 421.98L1441.3 421.86L1441.6 422.21L1441.9 422.99L1442.2 423.21L1442.5 421.66L1442.8 421.28L1443.1 421.35L1443.4 422.68L1443.7 422.05L1444 422.06L1444.3 422.14L1444.6 421.99L1444.9 421.52L1445.2 420.7L1445.5 420.9L1445.8 421.31L1446.1 421.33L1446.4 420.53L1446.7 420.26L1447 421.38L1447.3 419.72L1447.6 420.01L1447.9 419.38L1448.2 418.8L1448.5 418.21L1448.8 418.95L1449.1 418.8L1449.4 420.22L1449.7 418.86L1450 419.63L1450.3 420.66L1450.6 420.27L1450.9 420.92L1451.2 421.34L1451.5 419.55L1451.8 420.62L1452.1 420.27L1452.4 422.1L1452.7 421.01L1453 421.5L1453.3 422.43L1453.6 420.86L1453.9 421.18L1454.2 421.42L1454.5 420.89L1454.8 422.04L1455.1 421.68L1455.4 421.8L1455.7 421.05L1456 420.72L1456.3 420.69L1456.6 420.66L1456.9 419.65L1457.2 421.16L1457.5 421.47L1457.8 420.81L1458.1 420.41L1458.4 420.79L1458.7 420.9L1459 420.94L1459.3 422.03L1459.6 419.97L1459.9 420.86L1460.2 421.07L1460.5 420.57L1460.8 420.29L1461.1 419.64L1461.4 419.92L1461.7 420.87L1462 421.39L1462.3 419.73L1462.6 420.53L1462.9 420.51L1463.2 420.83L1463.5 420.18L1463.8 420.26L1464.1 420.53L1464.4 418.89L1464.7 419.72L1465 418.25L1465.3 418.01L1465.6 418.79L1465.9 418.13L1466.2 419.54L1466.5 419.75L1466.8 418.55L1467.1 418.42L1467.4 418.01L1467.7 417.57L1468 417.34L1468.3 416.83L1468.6 415.38L1468.9 414.09L1469.2 413.02L1469.5 412.5L1469.8 409.77L1470.1 409.11L1470.4 405.47L1470.7 404.09L1471 399.34L1471.3 396.78L1471.6 394.68L1471.9 391.79L1472.2 388.62L1472.5 388.01L1472.8 384.82L1473.1 384.02L1473.4 383.22L1473.7 385.6L1474 386.46L1474.3 388.22L1474.6 389.22L1474.9 393.57L1475.2 395.9L1475.5 399.51L1475.8 402.76L1476.1 404.17L1476.4 407.33L1476.7 410L1477 411.34L1477.3 412.57L1477.6 413.37L1477.9 414.77L1478.2 415.21L1478.5 417.63L1478.8 417.52L1479.1 416.97L1479.4 418.23L1479.7 417.54L1480 416.24L1480.3 419.8L1480.6 419.91L1480.9 418.02L1481.2 418.69L1481.5 419.46L1481.8 419.08L1482.1 418.78L1482.4 419.08L1482.7 419.33L1483 419.13L1483.3 419.74L1483.6 419.43L1483.9 419.05L1484.2 419.66L1484.5 418.41L1484.8 420.76L1485.1 418.37L1485.4 419.62L1485.7 419.94L1486 420L1486.3 419.88L1486.6 420.62L1486.9 418.82L1487.2 419.6L1487.5 419.75L1487.8 419.25L1488.1 419.15L1488.4 420.54L1488.7 419.01L1489 419.16L1489.3 419.28L1489.6 419.29L1489.9 419.52L1490.2 419.2L1490.5 419.58L1490.8 419.35L1491.1 419.54L1491.4 420.14L1491.7 418.4L1492 420.18L1492.3 418.51L1492.6 419.24L1492.9 418.75L1493.2 418.27L1493.5 416.88L1493.8 419.39L1494.1 417.42L1494.4 417.18L1494.7 418.3L1495 417.23L1495.3 418.28L1495.6 417.69L1495.9 416.38L1496.2 415.26L1496.5 414.59L1496.8 411.62L1497.1 410.88L1497.4 408.45L1497.7 404.91L1498 401.62L1498.3 395.67L1498.6 391.92L1498.9 385.84L1499.2 376.81L1499.5 370.22L1499.8 363.31L1500.1 354.6L1500.4 346.24L1500.7 340.16L1501 337.19L1501.3 335.87L1501.6 334.21L1501.9 338.07L1502.2 342.63L1502.5 349.73L1502.8 357.87L1503.1 365.72L1503.4 373.3L1503.7 383.05L1504 388.4L1504.3 394.63L1504.6 400.99L1504.9 404.72L1505.2 408.3L1505.5 412.16L1505.8 413.07L1506.1 416.25L1506.4 417.89L1506.7 418.73L1507 418.96L1507.3 419.76L1507.6 419.03L1507.9 420.65L1508.2 421.34L1508.5 422.09L1508.8 421.83L1509.1 421.69L1509.4 421.58L1509.7 422.38L1510 422.71L1510.3 423.69L1510.6 422.97L1510.9 422.75L1511.2 423.19L1511.5 423.05L1511.8 423.37L1512.1 422.03L1512.4 422.61L1512.7 423.02L1513 424.36L1513.3 424.05L1513.6 424.31L1513.9 425.15L1514.2 423.6L1514.5 425.29L1514.8 424.78L1515.1 424L1515.4 425.65L1515.7 423.48L1516 423.65L1516.3 424.23L1516.6 424.52L1516.9 423.83L1517.2 422.05L1517.5 422.96L1517.8 422.55L1518.1 423.8L1518.4 422.11L1518.7 420.25L1519 418.36L1519.3 418.41L1519.6 416.31L1519.9 416.47L1520.2 415.95L1520.5 415.03L1520.8 415.52L1521.1 415.45L1521.4 415.95L1521.7 418.43L1522 418.8L1522.3 419.28L1522.6 420.07L1522.9 421.85L1523.2 423.13L1523.5 424.22L1523.8 425.44L1524.1 425.33L1524.4 424.69L1524.7 427.45L1525 427.15L1525.3 427.18L1525.6 427.77L1525.9 425.86L1526.2 426.83L1526.5 426.86L1526.8 428.23L1527.1 426.58L1527.4 427.3L1527.7 428.75L1528 428.19L1528.3 427.5L1528.6 429.25L1528.9 426.95L1529.2 428.34L1529.5 427.9L1529.8 428.52L1530.1 428L1530.4 427.65L1530.7 428.49L1531 427.42L1531.3 428.85L1531.6 428.29L1531.9 429.26L1532.2 428.31L1532.5 428.2L1532.8 429.05L1533.1 429.73L1533.4 427.34L1533.7 429.02L1534 429.45L1534.3 428L1534.6 428.45L1534.9 429.63L1535.2 428.61L1535.5 428.81L1535.8 430.62L1536.1 428.71L1536.4 428.83L1536.7 427.82L1537 428.79L1537.3 428.75L1537.6 430.99L1537.9 430.68L1538.2 428.91L1538.5 431.36L1538.8 430.54L1539.1 429.89L1539.4 430.69L1539.7 430.43L1540 429.64L1540.3 428.97L1540.6 429.66L1540.9 430.38L1541.2 430.18L1541.5 429.96L1541.8 431.29L1542.1 429.84L1542.4 431.34L1542.7 430.38L1543 430.88L1543.3 430.03L1543.6 430.9L1543.9 430.39L1544.2 429.73L1544.5 431.06L1544.8 431.1L1545.1 431.8L1545.4 431.45L1545.7 430.55L1546 430.9L1546.3 429.57L1546.6 430.63L1546.9 432.47L1547.2 432.68L1547.5 432.17L1547.8 431.87L1548.1 432.13L1548.4 432.1L1548.7 430.49L1549 431.17L1549.3 432.72L1549.6 432.74L1549.9 432.06L1550.2 431.6L1550.5 431.45L1550.8 431.22L1551.1 430.81L1551.4 429.93L1551.7 431.31L1552 430.68L1552.3 430.66L1552.6 431.86L1552.9 430.77L1553.2 429.53L1553.5 430.18L1553.8 428.3L1554.1 429.83L1554.4 428.87L1554.7 428.13L1555 428.29L1555.3 428.53L1555.6 426.7L1555.9 425.92L1556.2 427.86L1556.5 425.97L1556.8 426.79L1557.1 424.98L1557.4 425.62L1557.7 424.81L1558 425.78L1558.3 425.2L1558.6 425.08L1558.9 426.95L1559.2 426.32L1559.5 424.86L1559.8 426.51L1560.1 426.33L1560.4 426.43L1560.7 427.21L1561 427.59L1561.3 428.24L1561.6 427.87L1561.9 427.3L1562.2 428.56L1562.5 429.9L1562.8 428.48L1563.1 430.18L1563.4 430.24L1563.7 429.72L1564 430.38L1564.3 429.63L1564.6 429.85L1564.9 429.25L1565.2 430.1L1565.5 430.39L1565.8 428.35L1566.1 429.11L1566.4 425.93L1566.7 426.16L1567 425.48L1567.3 427.18L1567.6 425.46L1567.9 426.85L1568.2 425.39L1568.5 427.8L1568.8 428.96L1569.1 429.28L1569.4 427.92L1569.7 430.58L1570 431.38L1570.3 431.93L1570.6 431.27L1570.9 429.61L1571.2 430.49L1571.5 430.99L1571.8 429.28L1572.1 429.8L1572.4 428.43L1572.7 428.21L1573 428.02L1573.3 426.22L1573.6 428.2L1573.9 425.55L1574.2 425.18L1574.5 424L1574.8 424.44L1575.1 424.24L1575.4 423.63L1575.7 424.07L1576 426.08L1576.3 426.58L1576.6 425.54L1576.9 426.79L1577.2 429.06L1577.5 430.1L1577.8 431.41L1578.1 430.77L1578.4 432.82L1578.7 432.74L1579 433.11L1579.3 433.84L1579.6 435.07L1579.9 435.08L1580.2 435.55L1580.5 434.53L1580.8 434.96L1581.1 434.4L1581.4 434.93L1581.7 435.11L1582 435.11L1582.3 436.04L1582.6 435.86L1582.9 436.14L1583.2 435.69L1583.5 436.42L1583.8 435.72L1584.1 436.37L1584.4 436.04L1584.7 436.23L1585 435.64L1585.3 434.77L1585.6 434.62L1585.9 437.18L1586.2 436.01L1586.5 436.06L1586.8 435.6L1587.1 435.39L1587.4 437.89L1587.7 434.89L1588 435.68L1588.3 435.69L1588.6 434.88L1588.9 434.77L1589.2 435.19L1589.5 435.45L1589.8 435.33L1590.1 436.3L1590.4 434.79L1590.7 435.97L1591 436.75L1591.3 436.3L1591.6 434.76L1591.9 433.38L1592.2 436.2L1592.5 435.92L1592.8 435.08L1593.1 436.45L1593.4 435.15L1593.7 435.5L1594 434.6L1594.3 435.57L1594.6 434.96L1594.9 434.85L1595.2 435.98L1595.5 435.27L1595.8 433.91L1596.1 435.47L1596.4 435.49L1596.7 434.15L1597 434.37L1597.3 434.62L1597.6 434.3L1597.9 434.46L1598.2 434.72L1598.5 433.69L1598.8 435.41L1599.1 433.04L1599.4 432.82L1599.7 434.23L1600 433.93L1600.3 431.35L1600.6 430.08L1600.9 427.97L1601.2 427.74L1601.5 424.57L1601.8 420.73L1602.1 417.88L1602.4 414.03L1602.7 408.15L1603 403.18L1603.3 395.65L1603.6 387.93L1603.9 380.22L1604.2 373.54L1604.5 367.62L1604.8 362.19L1605.1 358.98L1605.4 357.21L1605.7 358.86L1606 362.65L1606.3 366.87L1606.6 372.54L1606.9 382.02L1607.2 388.61L1607.5 395.13L1607.8 402.48L1608.1 408.32L1608.4 412.69L1608.7 418.49L1609 421.46L1609.3 425.85L1609.6 428.15L1609.9 431.07L1610.2 431.67L1610.5 433.24L1610.8 433.65L1611.1 434.3L1611.4 434.1L1611.7 436.34L1612 436.09L1612.3 435.84L1612.6 436.7L1612.9 436.47L1613.2 436.44L1613.5 437.37L1613.8 438.27L1614.1 437.32L1614.4 436.6L1614.7 437.35L1615 439.29L1615.3 437.44L1615.6 439.03L1615.9 438.05L1616.2 438.87L1616.5 438.31L1616.8 437.28L1617.1 438.22L1617.4 440.18L1617.7 438.56L1618 439.14L1618.3 438.52L1618.6 438.73L1618.9 439.12L1619.2 439.28L1619.5 440.63L1619.8 439L1620.1 438.92L1620.4 438.59L1620.7 438.14L1621 437.95L1621.3 439.68L1621.6 437.82L1621.9 440.29L1622.2 439.9L1622.5 439.05L1622.8 438.41L1623.1 439.3L1623.4 439.28L1623.7 440.09L1624 438.66L1624.3 438.88L1624.6 439.06L1624.9 438.8L1625.2 438.42L1625.5 437.46L1625.8 437.34L1626.1 437.85L1626.4 437.94L1626.7 438.58L1627 439.24L1627.3 438.45L1627.6 437.08L1627.9 437.78L1628.2 435.87L1628.5 435.13L1628.8 436.84L1629.1 433.91L1629.4 434.04L1629.7 433.86L1630 434.93L1630.3 433.26L1630.6 434.26L1630.9 433.46L1631.2 433.03L1631.5 434.4L1631.8 434.71L1632.1 434.13L1632.4 434.81L1632.7 435.34L1633 437.14L1633.3 437.24L1633.6 437.54L1633.9 438.17L1634.2 437.85L1634.5 438.94L1634.8 438.47L1635.1 438.23L1635.4 438.98L1635.7 439.9L1636 440.01L1636.3 440.91L1636.6 439.01L1636.9 440.24L1637.2 440.81L1637.5 439.89L1637.8 440.88L1638.1 440.46L1638.4 439.99L1638.7 441.73L1639 439.9L1639.3 441.74L1639.6 440.73L1639.9 440.37L1640.2 440.44L1640.5 440.57L1640.8 440.5L1641.1 441.35L1641.4 439.76L1641.7 442.11L1642 441.82L1642.3 442.24L1642.6 440.47L1642.9 439.48L1643.2 440.76L1643.5 441.11L1643.8 441.47L1644.1 440.87L1644.4 441.2L1644.7 441.38L1645 440.12L1645.3 442.64L1645.6 440.45L1645.9 441.49L1646.2 442.11L1646.5 440.72L1646.8 441.31L1647.1 442.54L1647.4 441.11L1647.7 442.1L1648 441.54L1648.3 441.5L1648.6 441.87L1648.9 441.16L1649.2 441.17L1649.5 442.05L1649.8 441.53L1650.1 441.71L1650.4 440.44L1650.7 441.34L1651 442.24L1651.3 442L1651.6 441.58L1651.9 440.93L1652.2 440.85L1652.5 441.63L1652.8 442.35L1653.1 441.31L1653.4 442.23L1653.7 441L1654 442.1L1654.3 440.4L1654.6 441.24L1654.9 440.23L1655.2 441.43L1655.5 441.25L1655.8 439.96L1656.1 439.94L1656.4 439.95L1656.7 438.91L1657 439.04L1657.3 438.75L1657.6 439.62L1657.9 439.67L1658.2 437.88L1658.5 437.58L1658.8 437.54L1659.1 436.61L1659.4 436.47L1659.7 437.07L1660 436.48L1660.3 436.22L1660.6 435.96L1660.9 437.7L1661.2 436.44L1661.5 437.36L1661.8 436.91L1662.1 437.66L1662.4 438.61L1662.7 438.65L1663 439.73L1663.3 439.73L1663.6 438.96L1663.9 438.54L1664.2 441.24L1664.5 440.25L1664.8 441.96L1665.1 440.99L1665.4 440.51L1665.7 441.58L1666 441.03L1666.3 441.29L1666.6 440.62L1666.9 441.82L1667.2 442.19L1667.5 440.99L1667.8 442.74L1668.1 440.98L1668.4 441.61L1668.7 440.2L1669 439.99L1669.3 443.01L1669.6 442.5L1669.9 442.28L1670.2 440.13L1670.5 441.54L1670.8 441.65L1671.1 441.34L1671.4 441.43L1671.7 440.43L1672 440.88L1672.3 440L1672.6 440.42L1672.9 440.76L1673.2 439.66L1673.5 439.77L1673.8 439.37L1674.1 439.4L1674.4 439.77L1674.7 438.95L1675 438.78L1675.3 437.15L1675.6 437.76L1675.9 438.52L1676.2 437.23L1676.5 437.6L1676.8 437.34L1677.1 439.28L1677.4 438.22L1677.7 438.32L1678 439.65L1678.3 440.34L1678.6 440.21L1678.9 440.88L1679.2 440.58L1679.5 440.58L1679.8 440.57L1680.1 440.71L1680.4 440.81L1680.7 441.66L1681 441.42L1681.3 441.66L1681.6 442.12L1681.9 441.69L1682.2 440.75L1682.5 441.22L1682.8 441.01L1683.1 440.45L1683.4 441.98L1683.7 441.02L1684 440.97L1684.3 441.14L1684.6 442.62L1684.9 441.74L1685.2 442.74L1685.5 441.93L1685.8 441.68L1686.1 442.44L1686.4 442.48L1686.7 442.13L1687 441.27L1687.3 441.71L1687.6 441.18L1687.9 441.87L1688.2 442.14L1688.5 443.19L1688.8 443.14L1689.1 442.59L1689.4 442.8L1689.7 442.26L1690 444.17L1690.3 443.23L1690.6 444.06L1690.9 442.35L1691.2 442.36L1691.5 442.82L1691.8 442.16L1692.1 442.23L1692.4 441.23L1692.7 442.64L1693 442L1693.3 442.46L1693.6 441.64L1693.9 440.41L1694.2 442.04L1694.5 442.45L1694.8 440.52L1695.1 440.64L1695.4 441.01L1695.7 440.91L1696 439.66L1696.3 442.08L1696.6 441.33L1696.9 439.91L1697.2 438.8L1697.5 440.2L1697.8 441.19L1698.1 440.09L1698.4 440.1L1698.7 438.3L1699 438.97L1699.3 437.48L1699.6 439.92L1699.9 438.74L1700.2 436.64L1700.5 436.79L1700.8 438.53L1701.1 438.32L1701.4 438.07L1701.7 438.89L1702 440.08L1702.3 439.03L1702.6 437.6L1702.9 439.03L1703.2 438.37L1703.5 438.96L1703.8 439.99L1704.1 439.8L1704.4 439.28L1704.7 440.19L1705 439.7L1705.3 440.77L1705.6 440.21L1705.9 440.66L1706.2 440.08L1706.5 440.7L1706.8 439.83L1707.1 439.66L1707.4 438.91L1707.7 439.04L1708 437.14L1708.3 439.97L1708.6 436.92L1708.9 436.94L1709.2 435.96L1709.5 435.43L1709.8 435.64L1710.1 434.59L1710.4 434.41L1710.7 433.58L1711 433.94L1711.3 433.89L1711.6 436.33L1711.9 434.23L1712.2 434.68L1712.5 435.85L1712.8 436.93L1713.1 434.67L1713.4 434.76L1713.7 435.91L1714 435.86L1714.3 434.27L1714.6 433.65L1714.9 433.92L1715.2 434.87L1715.5 434L1715.8 434.41L1716.1 433.73L1716.4 433.91L1716.7 434.67L1717 434.54L1717.3 435.35L1717.6 435.1L1717.9 435.99L1718.2 437.46L1718.5 437.59L1718.8 437.83L1719.1 439.47L1719.4 439.91L1719.7 439.95L1720 439.79L1720.3 441.37L1720.6 442.86L1720.9 440.6L1721.2 440.25L1721.5 440.98L1721.8 440.99L1722.1 440.83L1722.4 440.97L1722.7 442.56L1723 442.62L1723.3 443.13L1723.6 442.61L1723.9 441.72L1724.2 442.92L1724.5 441.67L1724.8 441.89L1725.1 441.29L1725.4 443.1L1725.7 442.96L1726 441.86L1726.3 441.99L1726.6 442.26L1726.9 442.4L1727.2 442.89L1727.5 442.32L1727.8 442.58L1728.1 441.16L1728.4 442.07L1728.7 440.96L1729 443.64L1729.3 443.36L1729.6 442.86L1729.9 443.16L1730.2 443.83L1730.5 443.04L1730.8 441.14L1731.1 442.18L1731.4 440.57L1731.7 441.73L1732 441.41L1732.3 442.34L1732.6 442.64L1732.9 441.65L1733.2 442.13L1733.5 442.56L1733.8 442.23L1734.1 442.21L1734.4 440.54L1734.7 442.01L1735 442.94L1735.3 442.54L1735.6 441.23L1735.9 442.14L1736.2 442.54L1736.5 441.61L1736.8 442.84L1737.1 441.73L1737.4 442.08L1737.7 442.24L1738 443.99L1738.3 442.08L1738.6 441.88L1738.9 442.84L1739.2 441.95L1739.5 442.44L1739.8 440.6L1740.1 442.5L1740.4 442.26L1740.7 441.29L1741 443.27L1741.3 442.06L1741.6 442.07L1741.9 441.21L1742.2 440.96L1742.5 441.72L1742.8 440.98L1743.1 442.45L1743.4 442.69L1743.7 441.51L1744 440.72L1744.3 441.56L1744.6 440.98L1744.9 441.8L1745.2 441.7L1745.5 441.13L1745.8 441.36L1746.1 441.93L1746.4 442.26L1746.7 440.4L1747 441.14L1747.3 440.21L1747.6 439.37L1747.9 440.89L1748.2 439.99L1748.5 439.57L1748.8 439.5L1749.1 438.9L1749.4 438.04L1749.7 439.98L1750 439.19L1750.3 438.61L1750.6 439.07L1750.9 439.3L1751.2 438.22L1751.5 438.89L1751.8 438.32L1752.1 439.2L1752.4 438.7L1752.7 440.91L1753 439.03L1753.3 439.9L1753.6 440.08L1753.9 439.7L1754.2 440.87L1754.5 440.3L1754.8 440.24L1755.1 440.72L1755.4 440.32L1755.7 441.92L1756 441.61L1756.3 441.98L1756.6 440.32L1756.9 441.61L1757.2 440.89L1757.5 441.57L1757.8 442.49L1758.1 441.75L1758.4 441.43L1758.7 442.39L1759 442.28L1759.3 442.87L1759.6 440.03L1759.9 441.59L1760.2 440.93L1760.5 440.45L1760.8 441.01L1761.1 439.81L1761.4 438.68L1761.7 439.25L1762 439.18L1762.3 440.08L1762.6 437.28L1762.9 435.91L1763.2 434.08L1763.5 433.89L1763.8 432.39L1764.1 430.96L1764.4 427.96L1764.7 426.65L1765 423.77L1765.3 424.04L1765.6 421.49L1765.9 419.81L1766.2 422.47L1766.5 422.27L1766.8 422.98L1767.1 424.24L1767.4 424.78L1767.7 428.13L1768 428.38L1768.3 432.43L1768.6 432.91L1768.9 432.96L1769.2 436.43L1769.5 438.5L1769.8 437.89L1770.1 439.76L1770.4 439.52L1770.7 439.78L1771 438.77L1771.3 441.98L1771.6 441L1771.9 441.83L1772.2 440.86L1772.5 441.16L1772.8 442.78L1773.1 441.74L1773.4 441.8L1773.7 441.22L1774 442.37L1774.3 442.85L1774.6 441.96L1774.9 442.2L1775.2 441.46L1775.5 443.46L1775.8 441.97L1776.1 442.35L1776.4 443.75L1776.7 442.34L1777 441.36L1777.3 441.85L1777.6 442.29L1777.9 443.91L1778.2 442.75L1778.5 442.42L1778.8 443.22L1779.1 443.58L1779.4 442.02L1779.7 443.67L1780 443.22L1780.3 442.88L1780.6 440.73L1780.9 442.61L1781.2 443.44L1781.5 442.11L1781.8 443.95L1782.1 442.14L1782.4 441.16L1782.7 442.19L1783 441.74L1783.3 441.88L1783.6 440.79L1783.9 441.59L1784.2 439.81L1784.5 439.91L1784.8 438.43L1785.1 438.3L1785.4 438.59L1785.7 437.48L1786 437.21L1786.3 437.01L1786.6 437.05L1786.9 437.23L1787.2 437.13L1787.5 437.34L1787.8 436.86L1788.1 436.53L1788.4 436.08L1788.7 437.41L1789 437.51L1789.3 437.2L1789.6 440.28L1789.9 438.1L1790.2 440.19L1790.5 440.74L1790.8 440.51L1791.1 442.97L1791.4 441.3L1791.7 440.95L1792 443.07L1792.3 441.29L1792.6 440.94L1792.9 441.37L1793.2 441.72L1793.5 442.29L1793.8 442.55L1794.1 441.14L1794.4 442.55L1794.7 443.96L1795 441.67L1795.3 442.04L1795.6 442.58L1795.9 442.85L1796.2 441.29L1796.5 440.9L1796.8 440.67L1797.1 442.04L1797.4 441.65L1797.7 439.04L1798 438.77L1798.3 439.14L1798.6 438.61L1798.9 439.73L1799.2 439.26L1799.5 440.28L1799.8 439.11L1800.1 438.36L1800.4 438.99L1800.7 437.3L1801 436.88L1801.3 438.01L1801.6 438.82L1801.9 437.06L1802.2 439.21L1802.5 439.47L1802.8 438.75L1803.1 439.6L1803.4 439.6L1803.7 440.2L1804 441.08L1804.3 440.15L1804.6 441.84L1804.9 441.97L1805.2 442.23L1805.5 440.24L1805.8 440.5L1806.1 442.6L1806.4 441.76L1806.7 441.8L1807 441.83L1807.3 441.47L1807.6 442.34L1807.9 442.06L1808.2 442.15L1808.5 443.05L1808.8 441.81L1809.1 443.59L1809.4 441.06L1809.7 444.68L1810 441.75L1810.3 443.24L1810.6 443.5L1810.9 442.81L1811.2 443.39L1811.5 442.75L1811.8 441.49L1812.1 443.11L1812.4 443.72L1812.7 442.43L1813 441.56L1813.3 442.4L1813.6 443.11L1813.9 443.1L1814.2 443.72L1814.5 443.3L1814.8 443.26L1815.1 441.35L1815.4 444.58L1815.7 442.92L1816 443.54L1816.3 442.62L1816.6 442.77L1816.9 442.93L1817.2 444.09L1817.5 444.05L1817.8 443.36L1818.1 444.41L1818.4 442.59L1818.7 443.29L1819 442.55L1819.3 443.88L1819.6 442.92L1819.9 443.64L1820.2 444.21L1820.5 441.31L1820.8 444.56L1821.1 443.14L1821.4 442.65L1821.7 441.43L1822 442.66L1822.3 441.13L1822.6 442.96L1822.9 442.76L1823.2 444.29L1823.5 442.64L1823.8 443.71L1824.1 443.78L1824.4 444.47L1824.7 442.69L1825 443.47L1825.3 441.72L1825.6 442.03L1825.9 442.67L1826.2 442.86L1826.5 441.94L1826.8 442.56L1827.1 443.41L1827.4 442.52L1827.7 442.75L1828 442.18L1828.3 443.92L1828.6 444.23L1828.9 443.01L1829.2 442.77L1829.5 444.13L1829.8 443.22L1830.1 442.33L1830.4 441.81L1830.7 442.39L1831 444.52L1831.3 442.37L1831.6 445.05L1831.9 442.82L1832.2 442.65L1832.5 443.83L1832.8 442.62L1833.1 443.09L1833.4 441.99L1833.7 441.83L1834 442.21L1834.3 442.94L1834.6 442.25L1834.9 441.24L1835.2 443.08L1835.5 442.53L1835.8 442.38L1836.1 442.07L1836.4 440.74L1836.7 443.63L1837 441.97L1837.3 442.68L1837.6 443.27L1837.9 442.99L1838.2 442.2L1838.5 441.97L1838.8 442.11L1839.1 442.47L1839.4 442.12L1839.7 441.23L1840 441.81L1840.3 441.63L1840.6 441.75L1840.9 441.25L1841.2 442.01L1841.5 440.97L1841.8 441.35L1842.1 440.55L1842.4 439.92L1842.7 439.48L1843 439.92L1843.3 440.29L1843.6 440.7L1843.9 439.49L1844.2 439L1844.5 438.86L1844.8 440.1L1845.1 439.07L1845.4 438.52L1845.7 439.41L1846 437.77L1846.3 438.84L1846.6 438.69L1846.9 438.62L1847.2 437.84L1847.5 439.51L1847.8 440.09L1848.1 437.82L1848.4 438.99L1848.7 439.46L1849 440.77L1849.3 438.78L1849.6 438.44L1849.9 439.23L1850.2 440.84L1850.5 439.4L1850.8 439.59L1851.1 440.79L1851.4 437.81L1851.7 437.8L1852 440.17L1852.3 440.05L1852.6 438.36L1852.9 439.79L1853.2 439.37L1853.5 439.44L1853.8 438.58L1854.1 438.76L1854.4 438.33L1854.7 438.94L1855 438.6L1855.3 439.95L1855.6 439L1855.9 437.17L1856.2 438.57L1856.5 439.21L1856.8 438.19L1857.1 438.68L1857.4 437.7L1857.7 438.16L1858 436.8L1858.3 438.05L1858.6 436.32L1858.9 438.33L1859.2 436.15L1859.5 435.69L1859.8 437.74L1860.1 437.25L1860.4 437.54L1860.7 437.86L1861 437.61L1861.3 437.07L1861.6 438.05L1861.9 438.29L1862.2 438.58L1862.5 439.93L1862.8 438.04L1863.1 438.87L1863.4 439.45L1863.7 438.88L1864 438.51L1864.3 439.19L1864.6 440.64L1864.9 439.8L1865.2 440.66L1865.5 439.8L1865.8 440.87L1866.1 440.17L1866.4 440.19L1866.7 441.07L1867 441.16L1867.3 442.38L1867.6 440.12L1867.9 441.87L1868.2 442.83L1868.5 442.73L1868.8 441.49L1869.1 441.35L1869.4 441.57L1869.7 442.26L1870 442.25L1870.3 442.44L1870.6 442.7L1870.9 441.48L1871.2 441.49L1871.5 441.47L1871.8 441.43L1872.1 442.44L1872.4 442.8L1872.7 444.56L1873 443.06L1873.3 442.71L1873.6 443.83L1873.9 442.21L1874.2 443.03L1874.5 443.5L1874.8 443.34L1875.1 443.02L1875.4 442.41L1875.7 441.7L1876 442.5L1876.3 442.11L1876.6 443.05L1876.9 442.35L1877.2 442.81L1877.5 441.05L1877.8 442.92L1878.1 441.37L1878.4 440.65L1878.7 440.57L1879 440.88L1879.3 441.9L1879.6 441.2L1879.9 439.28L1880.2 439.71L1880.5 438.94L1880.8 437.11L1881.1 436.78L1881.4 435.12L1881.7 435.11L1882 432.8L1882.3 433.27L1882.6 432.22L1882.9 431.45L1883.2 430.65L1883.5 431.55L1883.8 429.96L1884.1 430.2L1884.4 430.63L1884.7 431.02L1885 431.35L1885.3 431.07L1885.6 431.46L1885.9 432.6L1886.2 433.77L1886.5 435.09L1886.8 435.94L1887.1 437.73L1887.4 437.63L1887.7 439.83L1888 439.92L1888.3 439.34L1888.6 440.88L1888.9 438.44L1889.2 442.06L1889.5 441.62L1889.8 441.85L1890.1 440.45L1890.4 443.83L1890.7 441.83L1891 442.01L1891.3 443.07L1891.6 442.12L1891.9 441.67L1892.2 442.86L1892.5 441.62L1892.8 442.99L1893.1 442.55L1893.4 443.33L1893.7 441.55L1894 443.45L1894.3 442.74L1894.6 444.04L1894.9 442.03L1895.2 443.96L1895.5 443.09L1895.8 443.16L1896.1 442L1896.4 442.99L1896.7 443.08L1897 441.93L1897.3 441.69L1897.6 441.98L1897.9 443.7L1898.2 442.7L1898.5 443.3L1898.8 442.8L1899.1 442.67L1899.4 442.75L1899.7 442.26L1900 443.51L1900.3 442.72L1900.6 442.76L1900.9 441.53L1901.2 442.84L1901.5 442.09L1901.8 442.23L1902.1 443.41L1902.4 441.78L1902.7 442.47L1903 443.11L1903.3 443.52L1903.6 442.24L1903.9 442.89L1904.2 442.87L1904.5 441.78L1904.8 441.01L1905.1 441.18L1905.4 443.12L1905.7 442.74L1906 441.64L1906.3 442.18L1906.6 442.36L1906.9 442.4L1907.2 442.65L1907.5 444.37L1907.8 442.08L1908.1 442.79L1908.4 442.09L1908.7 442.2L1909 442.01L1909.3 442.51L1909.6 442.26L1909.9 442.95L1910.2 442.85L1910.5 442L1910.8 444.16L1911.1 441.79L1911.4 442.96L1911.7 444.35L1912 442.14L1912.3 443.7L1912.6 443.77L1912.9 442.94L1913.2 441.26L1913.5 443.77L1913.8 442.75L1914.1 442.25L1914.4 443.65L1914.7 442.11L1915 443.48L1915.3 442.24L1915.6 443.06L1915.9 441.82L1916.2 442.34L1916.5 441.93L1916.8 442.08L1917.1 442.76L1917.4 442.48L1917.7 442.75L1918 443.57L1918.3 442.49L1918.6 441.14L1918.9 442.33L1919.2 442.6L1919.5 443.3L1919.8 443.3L1920.1 443.21L1920.4 442.29L1920.7 442.93L1921 441.3L1921.3 443.37L1921.6 442.67L1921.9 442.68L1922.2 441.95L1922.5 442.22L1922.8 441.59L1923.1 442.44L1923.4 440.87L1923.7 442.48L1924 441.98L1924.3 442.89L1924.6 441.04L1924.9 440.67L1925.2 440.49L1925.5 439.91L1925.8 439.25L1926.1 437.85L1926.4 437.12L1926.7 436.72L1927 436.03L1927.3 434.36L1927.6 433.33L1927.9 432.9L1928.2 432.57L1928.5 430.75L1928.8 430.36L1929.1 429.62L1929.4 428.64L1929.7 427.1L1930 426.72L1930.3 425.47L1930.6 426.52L1930.9 427.81L1931.2 427.26L1931.5 429.97L1931.8 431.01L1932.1 430.7L1932.4 432.82L1932.7 432.16L1933 433.55L1933.3 435.13L1933.6 436.42L1933.9 437.2L1934.2 437.51L1934.5 440.42L1934.8 439.79L1935.1 440.35L1935.4 441.13L1935.7 441.15L1936 441.17L1936.3 441.21L1936.6 440.61L1936.9 443.2L1937.2 441.51L1937.5 441.07L1937.8 441.83L1938.1 441.31L1938.4 444.14L1938.7 442.95L1939 443.81L1939.3 443.89L1939.6 443.26L1939.9 443.3L1940.2 442.34L1940.5 442.86L1940.8 442.5L1941.1 443.02L1941.4 442.48L1941.7 444.01L1942 443.65L1942.3 443.01L1942.6 441.83L1942.9 443.65L1943.2 443.83L1943.5 443.12L1943.8 442.22L1944.1 443.54L1944.4 444.03L1944.7 441.77L1945 443.69L1945.3 441.88L1945.6 443.35L1945.9 444.64L1946.2 443.39L1946.5 443.7L1946.8 443.1L1947.1 443.35L1947.4 445.17L1947.7 444.4L1948 443.15L1948.3 443.12L1948.6 443.43L1948.9 445.11L1949.2 443.6L1949.5 444.31L1949.8 443.19L1950.1 442.5L1950.4 444.5L1950.7 443.44L1951 442.91L1951.3 442.99L1951.6 443.02L1951.9 443.08L1952.2 442.37L1952.5 444.48L1952.8 443.86L1953.1 444.33L1953.4 443.33L1953.7 443.86L1954 443.74L1954.3 444.52L1954.6 444.25L1954.9 443.91L1955.2 443.15L1955.5 442.74L1955.8 443.05L1956.1 443.19L1956.4 443.27L1956.7 442.75L1957 444.97L1957.3 443.92L1957.6 442.18L1957.9 442.89L1958.2 442.71L1958.5 443.93L1958.8 444.57L1959.1 443.01L1959.4 444.24L1959.7 443.57L1960 444.67L1960.3 444.84L1960.6 444.04L1960.9 444.36L1961.2 443.82L1961.5 443.55L1961.8 442.95L1962.1 444.1L1962.4 443.8L1962.7 443.57L1963 443.81L1963.3 443.74L1963.6 443.1L1963.9 443.5L1964.2 444.77L1964.5 443.74L1964.8 444.98L1965.1 443.05L1965.4 442.91L1965.7 444.04L1966 444.54L1966.3 443.46L1966.6 444.45L1966.9 444.69L1967.2 444.8L1967.5 443.91L1967.8 443.96L1968.1 442.76L1968.4 444.04L1968.7 444.24L1969 445.11L1969.3 443.08L1969.6 443.41L1969.9 443.3L1970.2 444.75L1970.5 442.15L1970.8 443.26L1971.1 445.65L1971.4 444.6L1971.7 443.1L1972 444.07L1972.3 444.76L1972.6 444.55L1972.9 443.97L1973.2 443.54L1973.5 444.78L1973.8 444.15L1974.1 444.78L1974.4 444.48L1974.7 443.83L1975 445.28L1975.3 443.82L1975.6 444.53L1975.9 443.73L1976.2 444.05L1976.5 444.04L1976.8 443.74L1977.1 444.43L1977.4 445.25L1977.7 445.67L1978 445.36L1978.3 444.15L1978.6 445.39L1978.9 444.61L1979.2 445.66L1979.5 443.35L1979.8 445.44L1980.1 443.87L1980.4 445.21L1980.7 443.98L1981 445.04L1981.3 444.14L1981.6 442.94" fill="none" stroke="#4e5353" stroke-width="2.7" stroke-linejoin="round"/><rect x="1396.9" y="54.7" width="585" height="430.6" fill="none" stroke="#000" stroke-width="2.2"/><line x1="1396.9" y1="485.3" x2="1396.9" y2="477.5" stroke="#000" stroke-width="2" stroke-linecap="butt"/><line x1="1455.4" y1="485.3" x2="1455.4" y2="481.3" stroke="#000" stroke-width="2" stroke-linecap="butt"/><line x1="1513.9" y1="485.3" x2="1513.9" y2="477.5" stroke="#000" stroke-width="2" stroke-linecap="butt"/><line x1="1572.4" y1="485.3" x2="1572.4" y2="481.3" stroke="#000" stroke-width="2" stroke-linecap="butt"/><line x1="1630.9" y1="485.3" x2="1630.9" y2="477.5" stroke="#000" stroke-width="2" stroke-linecap="butt"/><line x1="1689.4" y1="485.3" x2="1689.4" y2="481.3" stroke="#000" stroke-width="2" stroke-linecap="butt"/><line x1="1747.9" y1="485.3" x2="1747.9" y2="477.5" stroke="#000" stroke-width="2" stroke-linecap="butt"/><line x1="1806.4" y1="485.3" x2="1806.4" y2="481.3" stroke="#000" stroke-width="2" stroke-linecap="butt"/><line x1="1864.9" y1="485.3" x2="1864.9" y2="477.5" stroke="#000" stroke-width="2" stroke-linecap="butt"/><line x1="1923.4" y1="485.3" x2="1923.4" y2="481.3" stroke="#000" stroke-width="2" stroke-linecap="butt"/><line x1="1981.9" y1="485.3" x2="1981.9" y2="477.5" stroke="#000" stroke-width="2" stroke-linecap="butt"/><text x="0" y="0" transform="translate(1396.9,512.8) scale(1,1.04)" style="font-family:'Liberation Sans',Arial,Helvetica,sans-serif;font-size:26.8px;fill:#000" text-anchor="middle">20</text><text x="0" y="0" transform="translate(1513.9,512.8) scale(1,1.04)" style="font-family:'Liberation Sans',Arial,Helvetica,sans-serif;font-size:26.8px;fill:#000" text-anchor="middle">30</text><text x="0" y="0" transform="translate(1630.9,512.8) scale(1,1.04)" style="font-family:'Liberation Sans',Arial,Helvetica,sans-serif;font-size:26.8px;fill:#000" text-anchor="middle">40</text><text x="0" y="0" transform="translate(1747.9,512.8) scale(1,1.04)" style="font-family:'Liberation Sans',Arial,Helvetica,sans-serif;font-size:26.8px;fill:#000" text-anchor="middle">50</text><text x="0" y="0" transform="translate(1864.9,512.8) scale(1,1.04)" style="font-family:'Liberation Sans',Arial,Helvetica,sans-serif;font-size:26.8px;fill:#000" text-anchor="middle">60</text><text x="0" y="0" transform="translate(1981.9,512.8) scale(1,1.04)" style="font-family:'Liberation Sans',Arial,Helvetica,sans-serif;font-size:26.8px;fill:#000" text-anchor="middle">70</text><g transform="matrix(1.02034,0,0,1.03198,-34.271,-17.729)"><text x="1688.5" y="551.2" style="font-family:'Liberation Sans',Arial,Helvetica,sans-serif;font-size:32.5px;font-weight:bold;fill:#000" text-anchor="middle">2 Theta (degree)</text></g><rect x="1467" y="365" width="14.25" height="13" fill="#e3404a"/><rect x="1598.75" y="337" width="14.25" height="13" fill="#e3404a"/><rect x="1548.5" y="405" width="14" height="13" fill="#e3404a"/><rect x="1760.2" y="404.3" width="14.5" height="12.5" fill="#e3404a"/><rect x="1876.2" y="410.5" width="14.3" height="12.3" fill="#e3404a"/><polygon points="1501.2,316 1510.4,327 1491.8,327" fill="#000"/><polygon points="1522.5,401.2 1532,411.8 1513.2,411.8" fill="#000"/><polygon points="1573,408.2 1582.5,419 1563.7,419" fill="#000"/><polygon points="1631.2,418.7 1640.5,429.3 1622,429.3" fill="#000"/><polygon points="1660,420.5 1669.5,431.2 1650.7,431.2" fill="#000"/><polygon points="1701.2,420.8 1710.3,430.9 1692.2,430.9" fill="#000"/><polygon points="1719.6,418.3 1728.6,428.8 1710.6,428.8" fill="#000"/><polygon points="1751.9,423.4 1760.9,433.9 1742.9,433.9" fill="#000"/><polygon points="1787.2,421.6 1795.9,431.8 1778.2,431.8" fill="#000"/><polygon points="1843.6,423.7 1852.6,434 1834.9,434" fill="#000"/><polygon points="1862.4,422 1871.4,432.5 1853.3,432.5" fill="#000"/><polygon points="1930.3,413.3 1939.3,423.8 1921.3,423.8" fill="#000"/><rect x="1738.8" y="71.9" width="23.1" height="19.4" fill="#e3404a"/><g transform="matrix(1.01757,0,0,1.04000,-30.449,-3.804)"><text x="1771.3" y="90.1" style="font-family:'Liberation Sans',Arial,Helvetica,sans-serif;font-size:26.5px;font-weight:normal;fill:#000" text-anchor="start"><tspan>SnO</tspan><tspan dy="8.6" style="font-size:15.6px">2</tspan></text></g><polygon points="1868,70.6 1880.7,89.7 1855.2,89.7" fill="#000"/><g transform="matrix(1.02059,0,0,1.04000,-39.098,-3.552)"><text x="1889.6" y="88.8" style="font-family:'Liberation Sans',Arial,Helvetica,sans-serif;font-size:26.5px;font-weight:normal;fill:#000" text-anchor="start"><tspan>BiVO</tspan><tspan dy="8.6" style="font-size:15.6px">4</tspan></text></g><g transform="matrix(1.02493,0,0,1.04400,-45.164,-6.860)"><text x="1785.6" y="155.9" style="font-family:'Liberation Sans',Arial,Helvetica,sans-serif;font-size:26.4px;font-weight:bold;fill:#0f64ae" text-anchor="start"><tspan>BiVO</tspan><tspan dy="8.5" style="font-size:15.9px">4</tspan><tspan dy="-8.5">/PEI/TiO</tspan><tspan dy="8.5" style="font-size:15.9px">2</tspan></text></g><g transform="matrix(1.01530,0,0,1.04400,-28.592,-12.276)"><text x="1834.7" y="279" style="font-family:'Liberation Sans',Arial,Helvetica,sans-serif;font-size:26.4px;font-weight:bold;fill:#e3404a" text-anchor="start"><tspan>BiVO</tspan><tspan dy="8.5" style="font-size:15.9px">4</tspan><tspan dy="-8.5">/TiO</tspan><tspan dy="8.5" style="font-size:15.9px">2</tspan></text></g><g transform="matrix(1.01958,0,0,1.04400,-37.679,-17.596)"><text x="1894.4" y="399.9" style="font-family:'Liberation Sans',Arial,Helvetica,sans-serif;font-size:26.4px;font-weight:bold;fill:#000" text-anchor="start"><tspan>BiVO</tspan><tspan dy="8.5" style="font-size:15.9px">4</tspan></text></g><g transform="matrix(1.05128,0,0,1.02125,-70.200,-5.587)"><text x="0" y="0" style="font-family:'Liberation Sans',Arial,Helvetica,sans-serif;font-size:32.5px;font-weight:bold;fill:#000" text-anchor="middle" transform="translate(1368.9,270.3) rotate(-90)">Intensity (a.u.)</text></g><g transform="matrix(0.96800,0,0,0.94867,43.762,1.711)"><text x="1345.2" y="35.8" style="font-family:'Liberation Sans',Arial,Helvetica,sans-serif;font-size:51.5px;font-weight:bold;fill:#231815" text-anchor="start">c</text></g></svg></body></html>
